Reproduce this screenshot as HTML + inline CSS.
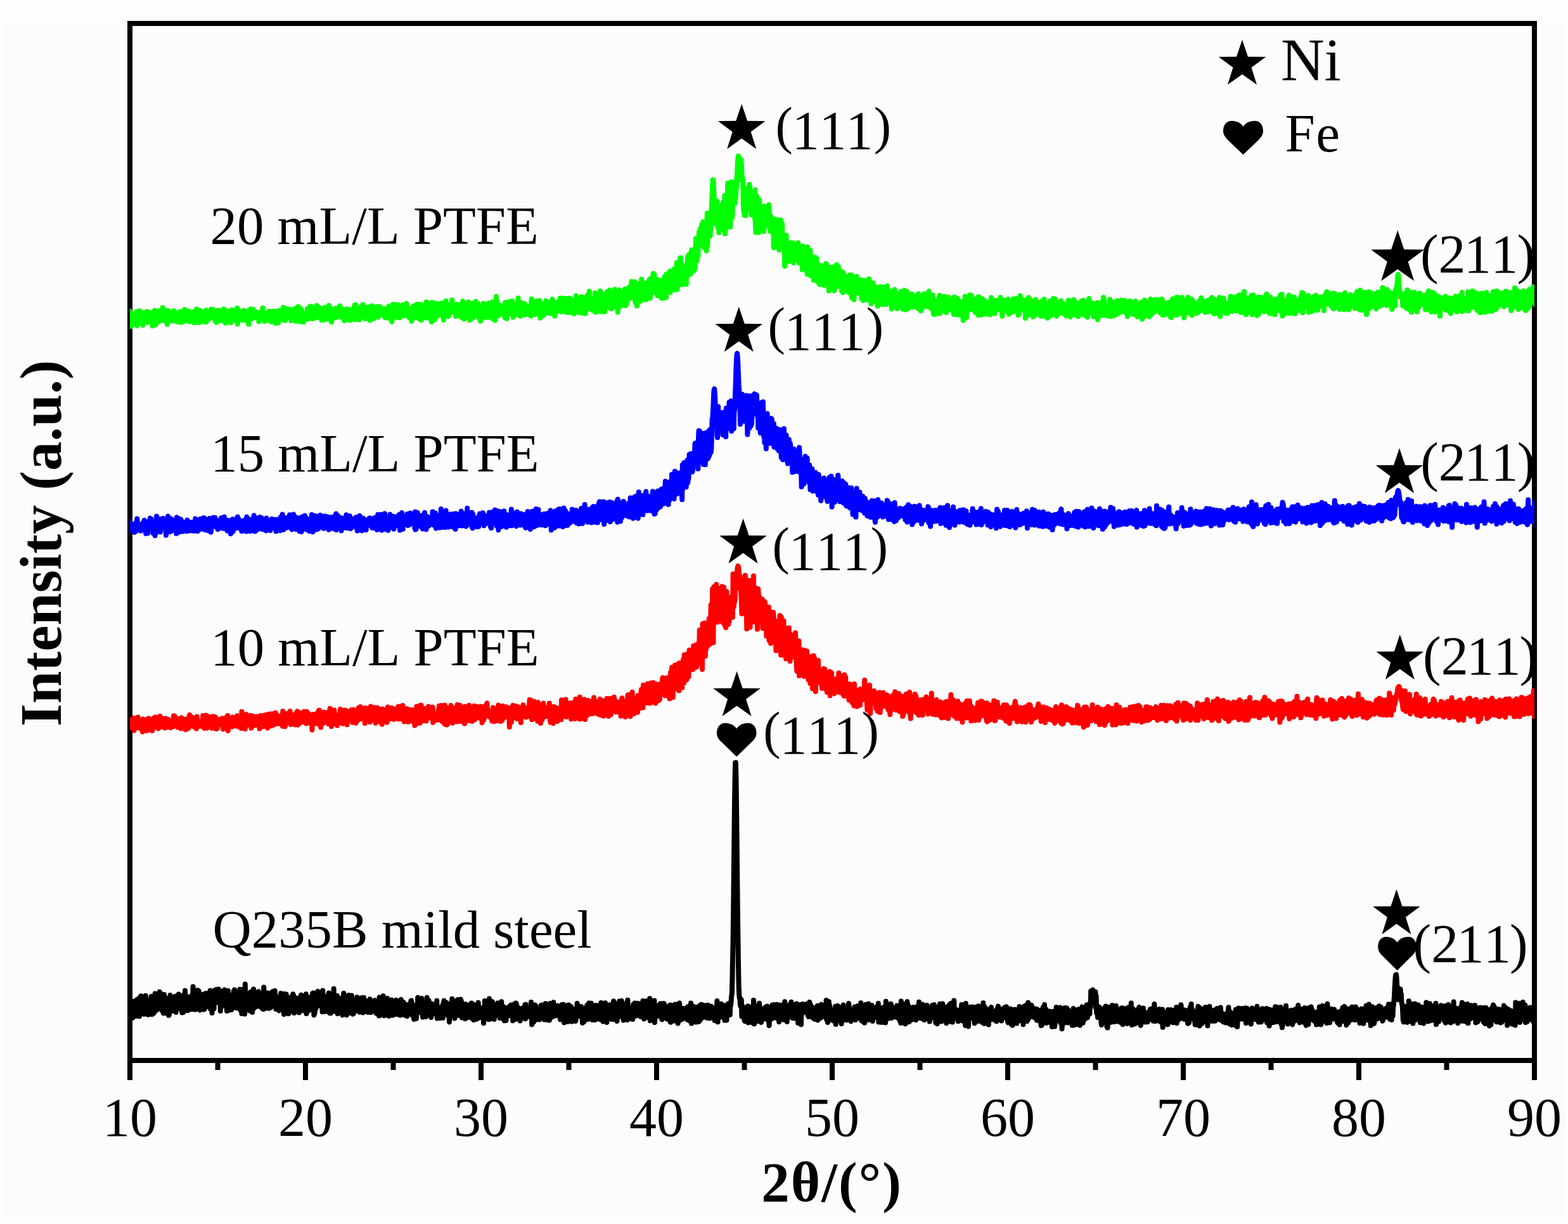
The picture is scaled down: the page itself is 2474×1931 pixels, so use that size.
<!DOCTYPE html><html><head><meta charset="utf-8"><title>XRD</title><style>html,body{margin:0;padding:0;background:#fefefe;}svg{display:block}</style></head><body>
<svg width="2474" height="1931" viewBox="0 0 2474 1931">
<rect x="0" y="0" width="2474" height="1931" fill="#fefefe"/>
<rect x="4" y="31" width="2466" height="1890" fill="#fcfcfc"/>
<rect x="205" y="37" width="2216" height="1636" fill="none" stroke="#000" stroke-width="8"/>
<defs><clipPath id="pa"><rect x="205" y="41" width="2216" height="1628"/></clipPath></defs>
<g clip-path="url(#pa)" fill="none" stroke-width="8" stroke-linejoin="round" stroke-linecap="round">
<path stroke="#00ff00" d="M199.0 502.3L199.6 513.0 200.2 495.1 200.8 510.5 201.4 497.5 202.0 502.4 202.6 506.3 203.2 501.1 203.8 501.5 204.4 490.6 205.0 503.4 205.6 500.5 206.2 501.4 206.8 514.8 207.4 497.4 208.0 498.7 208.6 496.3 209.2 500.9 209.8 494.7 210.4 502.1 211.0 508.0 211.6 499.9 212.2 501.2 212.8 510.2 213.4 512.0 214.0 501.7 214.6 499.9 215.2 497.5 215.8 491.4 216.4 513.9 217.0 499.9 217.6 493.3 218.2 504.3 218.8 510.0 219.4 503.1 220.0 506.6 220.6 490.5 221.2 502.3 221.8 498.9 222.4 499.5 223.0 506.9 223.6 499.1 224.2 500.3 224.8 497.7 225.4 513.2 226.0 495.9 226.6 500.1 227.2 508.7 227.8 492.9 228.4 506.9 229.0 502.9 229.6 507.9 230.2 492.5 230.8 506.4 231.4 491.6 232.0 496.0 232.6 508.8 233.2 507.3 233.8 507.7 234.4 500.4 235.0 495.8 235.6 492.4 236.2 504.4 236.8 504.6 237.4 505.3 238.0 495.8 238.6 494.4 239.2 504.4 239.8 506.6 240.4 514.3 241.0 493.9 241.6 500.6 242.2 506.1 242.8 499.5 243.4 501.1 244.0 489.8 244.6 504.2 245.2 512.4 245.8 504.2 246.4 505.8 247.0 503.4 247.6 496.6 248.2 508.8 248.8 493.6 249.4 506.1 250.0 490.5 250.6 504.0 251.2 493.1 251.8 495.2 252.4 498.3 253.0 506.6 253.6 493.2 254.2 496.6 254.8 494.9 255.4 495.4 256.0 502.8 256.6 485.4 257.2 502.3 257.8 495.4 258.4 502.9 259.0 505.2 259.6 501.8 260.2 506.4 260.8 505.1 261.4 502.8 262.0 498.0 262.6 500.5 263.2 490.1 263.8 511.6 264.4 493.6 265.0 496.8 265.6 490.2 266.2 496.1 266.8 506.5 267.4 503.7 268.0 492.0 268.6 499.4 269.2 499.1 269.8 501.9 270.4 499.3 271.0 501.3 271.6 505.3 272.2 506.5 272.8 502.1 273.4 497.6 274.0 497.2 274.6 490.2 275.2 490.9 275.8 499.0 276.4 494.7 277.0 497.3 277.6 497.6 278.2 506.8 278.8 506.1 279.4 506.4 280.0 505.2 280.6 502.7 281.2 508.1 281.8 506.0 282.4 504.3 283.0 493.5 283.6 499.2 284.2 491.7 284.8 491.6 285.4 498.9 286.0 508.8 286.6 491.7 287.2 502.5 287.8 497.4 288.4 495.5 289.0 506.3 289.6 492.9 290.2 490.3 290.8 506.8 291.4 488.2 292.0 506.8 292.6 496.6 293.2 494.5 293.8 493.6 294.4 505.9 295.0 493.4 295.6 504.9 296.2 500.1 296.8 502.9 297.4 500.6 298.0 490.8 298.6 498.1 299.2 507.3 299.8 493.1 300.4 507.2 301.0 506.9 301.6 501.0 302.2 500.7 302.8 496.7 303.4 492.8 304.0 498.3 304.6 492.2 305.2 498.9 305.8 509.0 306.4 495.0 307.0 504.2 307.6 500.0 308.2 496.0 308.8 501.5 309.4 489.7 310.0 487.7 310.6 508.6 311.2 493.4 311.8 504.2 312.4 505.5 313.0 506.0 313.6 504.8 314.2 498.4 314.8 508.7 315.4 489.8 316.0 497.6 316.6 496.6 317.2 505.5 317.8 491.2 318.4 494.2 319.0 504.2 319.6 499.7 320.2 503.4 320.8 506.0 321.4 507.3 322.0 507.5 322.6 502.8 323.2 497.4 323.8 502.5 324.4 498.5 325.0 489.4 325.6 508.1 326.2 502.9 326.8 503.4 327.4 500.1 328.0 501.3 328.6 490.9 329.2 495.0 329.8 498.4 330.4 499.1 331.0 498.5 331.6 502.3 332.2 491.0 332.8 501.6 333.4 487.5 334.0 500.9 334.6 492.8 335.2 496.6 335.8 488.3 336.4 494.8 337.0 491.7 337.6 499.9 338.2 495.2 338.8 503.7 339.4 506.4 340.0 500.9 340.6 501.9 341.2 505.9 341.8 508.5 342.4 494.4 343.0 495.9 343.6 493.5 344.2 489.5 344.8 505.6 345.4 494.5 346.0 493.7 346.6 498.1 347.2 489.9 347.8 506.2 348.4 501.1 349.0 504.6 349.6 490.0 350.2 500.0 350.8 505.5 351.4 497.1 352.0 494.8 352.6 489.0 353.2 487.4 353.8 489.1 354.4 496.1 355.0 498.8 355.6 509.7 356.2 494.5 356.8 495.3 357.4 505.7 358.0 493.3 358.6 490.7 359.2 504.3 359.8 508.1 360.4 495.2 361.0 495.2 361.6 495.9 362.2 497.6 362.8 505.6 363.4 496.5 364.0 490.8 364.6 508.9 365.2 498.0 365.8 489.1 366.4 494.4 367.0 496.3 367.6 491.8 368.2 497.7 368.8 500.5 369.4 493.2 370.0 504.9 370.6 504.9 371.2 505.6 371.8 502.4 372.4 497.6 373.0 488.1 373.6 491.1 374.2 485.9 374.8 511.2 375.4 503.9 376.0 504.0 376.6 490.0 377.2 497.0 377.8 491.5 378.4 492.3 379.0 498.3 379.6 501.0 380.2 504.2 380.8 501.2 381.4 494.8 382.0 499.7 382.6 505.2 383.2 497.1 383.8 503.7 384.4 489.7 385.0 500.3 385.6 498.3 386.2 497.7 386.8 492.2 387.4 495.5 388.0 505.5 388.6 501.0 389.2 499.1 389.8 493.5 390.4 492.7 391.0 491.1 391.6 494.5 392.2 511.6 392.8 489.2 393.4 493.7 394.0 491.4 394.6 501.0 395.2 490.9 395.8 487.4 396.4 496.4 397.0 493.7 397.6 501.4 398.2 502.7 398.8 494.5 399.4 488.0 400.0 501.0 400.6 496.3 401.2 494.1 401.8 500.4 402.4 500.4 403.0 495.4 403.6 499.5 404.2 492.2 404.8 496.5 405.4 499.6 406.0 499.7 406.6 499.8 407.2 493.7 407.8 496.5 408.4 507.3 409.0 499.2 409.6 500.3 410.2 496.2 410.8 492.9 411.4 496.8 412.0 499.5 412.6 500.8 413.2 501.8 413.8 496.4 414.4 485.7 415.0 502.9 415.6 493.5 416.2 502.0 416.8 499.1 417.4 507.0 418.0 505.1 418.6 498.4 419.2 500.4 419.8 499.6 420.4 495.5 421.0 494.6 421.6 500.3 422.2 492.6 422.8 492.5 423.4 500.9 424.0 500.0 424.6 490.9 425.2 506.0 425.8 502.0 426.4 505.3 427.0 497.2 427.6 503.9 428.2 507.8 428.8 507.0 429.4 491.3 430.0 499.1 430.6 493.4 431.2 502.3 431.8 498.8 432.4 491.0 433.0 497.6 433.6 498.8 434.2 499.4 434.8 510.1 435.4 491.3 436.0 496.2 436.6 501.5 437.2 493.3 437.8 492.6 438.4 491.2 439.0 509.3 439.6 502.6 440.2 496.3 440.8 490.1 441.4 500.8 442.0 493.2 442.6 490.5 443.2 495.8 443.8 490.6 444.4 493.5 445.0 503.3 445.6 496.7 446.2 504.7 446.8 485.1 447.4 489.2 448.0 492.3 448.6 504.9 449.2 500.1 449.8 505.8 450.4 487.1 451.0 499.4 451.6 495.4 452.2 498.6 452.8 500.0 453.4 493.9 454.0 497.5 454.6 493.9 455.2 493.8 455.8 495.7 456.4 487.7 457.0 492.7 457.6 495.2 458.2 495.1 458.8 503.0 459.4 506.0 460.0 499.8 460.6 498.3 461.2 494.0 461.8 488.8 462.4 491.2 463.0 492.9 463.6 497.1 464.2 500.6 464.8 487.0 465.4 503.5 466.0 496.4 466.6 497.3 467.2 506.8 467.8 499.8 468.4 491.5 469.0 490.6 469.6 504.1 470.2 483.8 470.8 501.8 471.4 491.2 472.0 496.5 472.6 493.8 473.2 507.2 473.8 486.1 474.4 496.4 475.0 497.2 475.6 496.4 476.2 489.8 476.8 502.2 477.4 494.0 478.0 501.7 478.6 508.0 479.2 496.1 479.8 496.2 480.4 501.7 481.0 499.1 481.6 494.7 482.2 502.9 482.8 501.2 483.4 503.3 484.0 503.7 484.6 502.7 485.2 487.1 485.8 492.1 486.4 495.7 487.0 502.2 487.6 492.1 488.2 489.5 488.8 483.6 489.4 490.6 490.0 502.5 490.6 491.5 491.2 483.4 491.8 487.1 492.4 495.5 493.0 492.3 493.6 502.7 494.2 494.6 494.8 490.8 495.4 500.2 496.0 499.9 496.6 501.6 497.2 489.0 497.8 496.5 498.4 501.5 499.0 490.7 499.6 482.0 500.2 483.1 500.8 497.8 501.4 484.0 502.0 493.4 502.6 485.0 503.2 500.4 503.8 494.3 504.4 485.4 505.0 494.3 505.6 489.0 506.2 500.3 506.8 489.9 507.4 505.0 508.0 494.5 508.6 501.6 509.2 500.5 509.8 491.0 510.4 493.6 511.0 494.9 511.6 504.7 512.2 485.2 512.8 493.0 513.4 494.6 514.0 495.1 514.6 498.8 515.2 495.5 515.8 493.3 516.4 503.6 517.0 488.1 517.6 501.4 518.2 500.6 518.8 481.9 519.4 491.0 520.0 499.1 520.6 503.4 521.2 498.2 521.8 486.8 522.4 498.5 523.0 508.1 523.6 500.2 524.2 498.7 524.8 493.6 525.4 498.2 526.0 495.7 526.6 501.5 527.2 501.5 527.8 493.2 528.4 487.9 529.0 501.4 529.6 498.3 530.2 486.2 530.8 498.0 531.4 491.7 532.0 496.5 532.6 492.4 533.2 487.1 533.8 488.2 534.4 490.2 535.0 486.0 535.6 487.6 536.2 482.6 536.8 500.3 537.4 493.0 538.0 487.5 538.6 495.2 539.2 492.6 539.8 494.7 540.4 488.0 541.0 487.6 541.6 501.4 542.2 494.9 542.8 491.1 543.4 506.1 544.0 490.2 544.6 498.9 545.2 494.7 545.8 497.2 546.4 492.9 547.0 490.2 547.6 487.4 548.2 503.0 548.8 499.0 549.4 502.5 550.0 504.8 550.6 501.2 551.2 503.5 551.8 500.7 552.4 488.8 553.0 505.3 553.6 491.2 554.2 498.3 554.8 489.9 555.4 500.9 556.0 493.9 556.6 497.7 557.2 489.9 557.8 490.8 558.4 490.1 559.0 484.9 559.6 481.3 560.2 499.2 560.8 504.2 561.4 480.9 562.0 484.8 562.6 491.8 563.2 483.9 563.8 492.9 564.4 487.2 565.0 499.7 565.6 496.8 566.2 499.7 566.8 504.6 567.4 496.1 568.0 497.0 568.6 488.2 569.2 486.3 569.8 492.8 570.4 489.6 571.0 500.3 571.6 492.6 572.2 480.6 572.8 488.5 573.4 496.2 574.0 483.8 574.6 483.9 575.2 488.1 575.8 496.6 576.4 503.0 577.0 486.4 577.6 491.5 578.2 491.9 578.8 489.9 579.4 493.2 580.0 501.2 580.6 486.2 581.2 492.9 581.8 484.2 582.4 492.6 583.0 497.3 583.6 505.5 584.2 491.7 584.8 487.8 585.4 490.7 586.0 487.5 586.6 482.4 587.2 494.7 587.8 493.3 588.4 503.1 589.0 503.0 589.6 487.3 590.2 484.3 590.8 485.6 591.4 491.6 592.0 492.7 592.6 484.4 593.2 496.9 593.8 496.6 594.4 483.8 595.0 496.5 595.6 497.4 596.2 500.6 596.8 488.8 597.4 498.3 598.0 496.5 598.6 486.7 599.2 483.6 599.8 496.9 600.4 489.0 601.0 485.6 601.6 492.3 602.2 487.0 602.8 493.8 603.4 489.6 604.0 491.2 604.6 493.5 605.2 493.1 605.8 493.1 606.4 495.7 607.0 499.9 607.6 501.2 608.2 487.1 608.8 498.7 609.4 489.2 610.0 492.9 610.6 498.7 611.2 501.2 611.8 497.1 612.4 484.9 613.0 483.5 613.6 498.6 614.2 491.6 614.8 502.6 615.4 486.2 616.0 499.1 616.6 492.5 617.2 494.0 617.8 489.1 618.4 507.7 619.0 500.5 619.6 480.6 620.2 490.7 620.8 490.2 621.4 484.5 622.0 481.4 622.6 480.1 623.2 499.8 623.8 488.2 624.4 491.5 625.0 500.5 625.6 488.1 626.2 495.9 626.8 485.6 627.4 487.6 628.0 480.7 628.6 487.2 629.2 482.1 629.8 494.1 630.4 501.2 631.0 487.6 631.6 493.9 632.2 493.5 632.8 486.5 633.4 496.4 634.0 496.5 634.6 483.0 635.2 481.0 635.8 498.5 636.4 491.0 637.0 482.5 637.6 489.9 638.2 496.7 638.8 485.7 639.4 487.0 640.0 484.4 640.6 494.1 641.2 478.8 641.8 491.2 642.4 487.5 643.0 498.7 643.6 485.8 644.2 495.2 644.8 500.4 645.4 485.9 646.0 491.0 646.6 500.3 647.2 488.0 647.8 502.6 648.4 501.0 649.0 494.4 649.6 506.7 650.2 486.8 650.8 496.3 651.4 495.8 652.0 483.1 652.6 498.7 653.2 482.4 653.8 501.6 654.4 494.0 655.0 499.6 655.6 490.1 656.2 487.5 656.8 501.1 657.4 485.8 658.0 479.7 658.6 497.9 659.2 496.9 659.8 485.4 660.4 499.7 661.0 486.5 661.6 503.0 662.2 496.0 662.8 485.0 663.4 480.0 664.0 486.3 664.6 505.1 665.2 498.5 665.8 483.9 666.4 498.3 667.0 483.9 667.6 488.1 668.2 482.3 668.8 499.6 669.4 500.4 670.0 484.3 670.6 486.3 671.2 500.1 671.8 489.3 672.4 476.5 673.0 485.8 673.6 494.0 674.2 501.8 674.8 477.8 675.4 496.7 676.0 493.7 676.6 481.8 677.2 495.9 677.8 501.1 678.4 492.6 679.0 485.0 679.6 488.7 680.2 492.8 680.8 507.7 681.4 488.6 682.0 477.0 682.6 496.7 683.2 505.7 683.8 489.4 684.4 477.9 685.0 497.7 685.6 495.5 686.2 504.0 686.8 481.7 687.4 490.0 688.0 487.0 688.6 478.9 689.2 491.4 689.8 488.0 690.4 481.7 691.0 482.6 691.6 497.9 692.2 494.6 692.8 480.1 693.4 493.4 694.0 479.1 694.6 487.9 695.2 495.3 695.8 478.4 696.4 491.7 697.0 497.2 697.6 492.9 698.2 499.5 698.8 499.6 699.4 499.0 700.0 504.9 700.6 486.5 701.2 477.6 701.8 483.4 702.4 488.8 703.0 483.4 703.6 474.8 704.2 495.0 704.8 482.9 705.4 486.7 706.0 491.0 706.6 494.9 707.2 499.1 707.8 481.2 708.4 497.2 709.0 495.9 709.6 482.9 710.2 483.6 710.8 491.3 711.4 488.8 712.0 490.6 712.6 488.9 713.2 473.3 713.8 488.8 714.4 478.9 715.0 487.0 715.6 483.6 716.2 492.9 716.8 483.6 717.4 491.0 718.0 492.8 718.6 483.2 719.2 499.0 719.8 498.4 720.4 486.9 721.0 480.0 721.6 494.7 722.2 484.0 722.8 484.4 723.4 488.2 724.0 498.0 724.6 486.7 725.2 491.3 725.8 491.7 726.4 493.2 727.0 484.9 727.6 491.2 728.2 500.8 728.8 493.5 729.4 479.2 730.0 475.2 730.6 500.9 731.2 500.1 731.8 496.7 732.4 503.3 733.0 497.9 733.6 486.8 734.2 494.6 734.8 490.2 735.4 485.9 736.0 490.4 736.6 479.1 737.2 500.1 737.8 486.8 738.4 481.2 739.0 476.5 739.6 495.7 740.2 480.6 740.8 505.2 741.4 486.1 742.0 482.9 742.6 499.6 743.2 491.9 743.8 502.9 744.4 493.1 745.0 479.1 745.6 491.2 746.2 489.8 746.8 500.8 747.4 491.9 748.0 489.9 748.6 487.3 749.2 479.6 749.8 498.5 750.4 475.5 751.0 485.3 751.6 490.1 752.2 490.3 752.8 489.4 753.4 482.1 754.0 479.0 754.6 485.5 755.2 500.6 755.8 487.2 756.4 490.0 757.0 504.7 757.6 502.4 758.2 506.6 758.8 500.7 759.4 491.5 760.0 485.8 760.6 494.3 761.2 486.6 761.8 500.9 762.4 478.7 763.0 487.5 763.6 491.7 764.2 486.6 764.8 495.4 765.4 480.1 766.0 486.6 766.6 500.7 767.2 495.7 767.8 483.1 768.4 491.1 769.0 497.4 769.6 499.2 770.2 500.9 770.8 482.5 771.4 478.2 772.0 489.9 772.6 493.8 773.2 487.0 773.8 477.8 774.4 480.3 775.0 490.2 775.6 487.9 776.2 492.1 776.8 476.4 777.4 502.8 778.0 485.2 778.6 491.1 779.2 495.7 779.8 477.4 780.4 483.6 781.0 505.5 781.6 496.6 782.2 488.4 782.8 467.8 783.4 496.7 784.0 482.2 784.6 476.2 785.2 498.2 785.8 489.2 786.4 489.3 787.0 485.6 787.6 482.8 788.2 497.2 788.8 482.6 789.4 482.1 790.0 492.3 790.6 487.8 791.2 491.1 791.8 493.0 792.4 485.1 793.0 488.4 793.6 492.7 794.2 483.2 794.8 482.3 795.4 484.8 796.0 489.7 796.6 501.4 797.2 477.0 797.8 496.7 798.4 496.2 799.0 498.6 799.6 502.8 800.2 496.7 800.8 492.9 801.4 483.7 802.0 484.6 802.6 491.5 803.2 476.1 803.8 489.8 804.4 490.4 805.0 484.6 805.6 494.9 806.2 481.2 806.8 485.2 807.4 482.4 808.0 474.8 808.6 493.5 809.2 482.6 809.8 500.5 810.4 484.8 811.0 482.7 811.6 496.5 812.2 481.7 812.8 479.8 813.4 488.4 814.0 482.8 814.6 483.9 815.2 495.5 815.8 485.6 816.4 484.7 817.0 496.9 817.6 470.2 818.2 494.8 818.8 482.9 819.4 476.4 820.0 483.3 820.6 488.9 821.2 498.7 821.8 489.8 822.4 488.0 823.0 488.8 823.6 478.3 824.2 497.2 824.8 479.7 825.4 492.9 826.0 491.5 826.6 492.3 827.2 479.1 827.8 486.1 828.4 480.2 829.0 493.4 829.6 496.4 830.2 493.7 830.8 486.7 831.4 492.8 832.0 489.3 832.6 485.3 833.2 483.0 833.8 483.5 834.4 491.0 835.0 483.5 835.6 490.2 836.2 489.8 836.8 495.1 837.4 498.5 838.0 481.7 838.6 471.6 839.2 480.3 839.8 477.5 840.4 479.3 841.0 480.4 841.6 483.8 842.2 477.9 842.8 480.2 843.4 483.5 844.0 496.3 844.6 488.1 845.2 476.4 845.8 478.7 846.4 474.8 847.0 494.1 847.6 491.7 848.2 487.0 848.8 491.0 849.4 490.6 850.0 491.9 850.6 482.4 851.2 474.2 851.8 489.9 852.4 501.7 853.0 477.4 853.6 492.3 854.2 487.5 854.8 481.4 855.4 491.5 856.0 481.9 856.6 480.9 857.2 479.5 857.8 497.7 858.4 491.9 859.0 493.0 859.6 491.6 860.2 479.7 860.8 487.6 861.4 474.5 862.0 475.0 862.6 491.1 863.2 492.3 863.8 487.8 864.4 493.6 865.0 491.8 865.6 491.5 866.2 491.5 866.8 489.2 867.4 477.0 868.0 494.6 868.6 484.4 869.2 491.8 869.8 482.1 870.4 493.2 871.0 476.9 871.6 472.1 872.2 479.9 872.8 488.0 873.4 481.2 874.0 480.1 874.6 492.3 875.2 498.7 875.8 481.6 876.4 479.6 877.0 482.7 877.6 491.5 878.2 485.3 878.8 477.1 879.4 487.6 880.0 486.5 880.6 477.3 881.2 491.1 881.8 487.1 882.4 490.4 883.0 482.8 883.6 470.4 884.2 490.9 884.8 483.2 885.4 478.2 886.0 484.4 886.6 492.1 887.2 472.9 887.8 485.4 888.4 488.6 889.0 470.5 889.6 474.4 890.2 481.3 890.8 482.5 891.4 478.6 892.0 480.0 892.6 492.1 893.2 486.7 893.8 470.9 894.4 483.3 895.0 481.7 895.6 471.0 896.2 493.1 896.8 488.0 897.4 472.9 898.0 479.8 898.6 470.5 899.2 475.2 899.8 486.3 900.4 490.5 901.0 492.5 901.6 472.2 902.2 474.0 902.8 486.1 903.4 486.4 904.0 482.2 904.6 492.2 905.2 492.6 905.8 495.1 906.4 478.5 907.0 481.0 907.6 492.2 908.2 486.1 908.8 466.5 909.4 488.2 910.0 486.8 910.6 472.2 911.2 477.5 911.8 480.9 912.4 478.7 913.0 477.1 913.6 493.0 914.2 481.2 914.8 490.2 915.4 492.2 916.0 469.8 916.6 468.1 917.2 483.6 917.8 476.7 918.4 494.0 919.0 479.1 919.6 472.1 920.2 470.8 920.8 485.2 921.4 469.4 922.0 480.3 922.6 478.2 923.2 483.1 923.8 494.7 924.4 475.5 925.0 475.3 925.6 484.8 926.2 472.2 926.8 465.8 927.4 472.5 928.0 487.4 928.6 485.3 929.2 470.0 929.8 459.4 930.4 475.8 931.0 470.9 931.6 476.2 932.2 473.0 932.8 479.6 933.4 472.0 934.0 488.1 934.6 480.2 935.2 489.7 935.8 483.5 936.4 485.8 937.0 475.0 937.6 485.1 938.2 476.6 938.8 462.0 939.4 492.5 940.0 466.7 940.6 482.5 941.2 478.5 941.8 492.1 942.4 478.0 943.0 481.3 943.6 484.8 944.2 480.5 944.8 481.3 945.4 484.9 946.0 470.1 946.6 468.3 947.2 459.1 947.8 465.6 948.4 463.1 949.0 491.6 949.6 473.6 950.2 476.5 950.8 480.4 951.4 488.5 952.0 490.5 952.6 485.3 953.2 475.0 953.8 492.1 954.4 464.2 955.0 470.9 955.6 464.3 956.2 476.9 956.8 468.5 957.4 478.2 958.0 472.3 958.6 460.1 959.2 484.9 959.8 466.8 960.4 461.8 961.0 466.0 961.6 474.5 962.2 457.6 962.8 458.3 963.4 462.2 964.0 470.0 964.6 487.4 965.2 462.0 965.8 465.5 966.4 478.1 967.0 471.3 967.6 484.7 968.2 481.6 968.8 460.9 969.4 463.0 970.0 456.4 970.6 468.7 971.2 463.8 971.8 481.2 972.4 466.8 973.0 473.6 973.6 475.8 974.2 474.1 974.8 492.5 975.4 471.4 976.0 470.1 976.6 457.4 977.2 467.0 977.8 471.9 978.4 483.5 979.0 464.8 979.6 472.8 980.2 474.6 980.8 472.0 981.4 481.6 982.0 476.7 982.6 468.0 983.2 466.6 983.8 462.3 984.4 459.8 985.0 462.1 985.6 456.5 986.2 455.6 986.8 473.9 987.4 482.1 988.0 468.5 988.6 479.7 989.2 474.5 989.8 473.7 990.4 468.7 991.0 461.5 991.6 459.6 992.2 466.0 992.8 452.9 993.4 463.9 994.0 470.3 994.6 470.1 995.2 470.3 995.8 458.3 996.4 444.3 997.0 461.2 997.6 456.6 998.2 464.4 998.8 452.3 999.4 466.7 1000.0 460.0 1000.6 467.9 1001.2 444.6 1001.8 469.8 1002.4 477.5 1003.0 468.1 1003.6 473.1 1004.2 457.2 1004.8 482.6 1005.4 458.1 1006.0 448.4 1006.6 455.4 1007.2 447.6 1007.8 468.1 1008.4 460.9 1009.0 476.0 1009.6 468.5 1010.2 468.6 1010.8 447.0 1011.4 466.1 1012.0 440.5 1012.6 460.4 1013.2 444.5 1013.8 450.9 1014.4 468.8 1015.0 473.3 1015.6 463.6 1016.2 453.0 1016.8 462.4 1017.4 458.3 1018.0 451.3 1018.6 450.2 1019.2 448.3 1019.8 472.4 1020.4 446.6 1021.0 449.2 1021.6 450.1 1022.2 464.1 1022.8 467.5 1023.4 464.0 1024.0 449.0 1024.6 440.9 1025.2 460.1 1025.8 470.5 1026.4 465.8 1027.0 439.3 1027.6 447.8 1028.2 463.9 1028.8 462.6 1029.4 448.8 1030.0 461.4 1030.6 431.4 1031.2 440.6 1031.8 456.7 1032.4 432.9 1033.0 456.7 1033.6 460.4 1034.2 448.7 1034.8 450.6 1035.4 457.4 1036.0 462.7 1036.6 440.9 1037.2 466.1 1037.8 459.3 1038.4 445.8 1039.0 449.4 1039.6 461.3 1040.2 463.8 1040.8 442.9 1041.4 450.8 1042.0 442.6 1042.6 466.4 1043.2 469.8 1043.8 442.2 1044.4 443.7 1045.0 450.1 1045.6 470.7 1046.2 446.5 1046.8 453.0 1047.4 454.7 1048.0 453.0 1048.6 436.5 1049.2 450.8 1049.8 447.7 1050.4 438.5 1051.0 469.5 1051.6 432.3 1052.2 446.9 1052.8 436.9 1053.4 456.7 1054.0 449.3 1054.6 451.4 1055.2 440.1 1055.8 446.1 1056.4 453.8 1057.0 427.7 1057.6 461.1 1058.2 437.5 1058.8 429.2 1059.4 451.3 1060.0 430.3 1060.6 451.7 1061.2 427.6 1061.8 445.9 1062.4 440.7 1063.0 424.8 1063.6 457.3 1064.2 432.5 1064.8 438.3 1065.4 430.2 1066.0 452.5 1066.6 431.8 1067.2 426.6 1067.8 414.5 1068.4 456.7 1069.0 414.0 1069.6 441.2 1070.2 435.8 1070.8 426.6 1071.4 445.1 1072.0 437.9 1072.6 449.1 1073.2 406.9 1073.8 415.0 1074.4 406.7 1075.0 430.7 1075.6 440.2 1076.2 448.5 1076.8 448.9 1077.4 428.0 1078.0 445.7 1078.6 423.4 1079.2 421.6 1079.8 420.7 1080.4 444.5 1081.0 427.3 1081.6 434.0 1082.2 428.0 1082.8 448.5 1083.4 417.7 1084.0 434.2 1084.6 436.2 1085.2 404.8 1085.8 429.6 1086.4 414.4 1087.0 401.6 1087.6 430.3 1088.2 402.5 1088.8 415.8 1089.4 432.6 1090.0 420.3 1090.6 404.6 1091.2 394.2 1091.8 411.3 1092.4 409.5 1093.0 401.7 1093.6 425.0 1094.2 424.0 1094.8 427.2 1095.4 400.4 1096.0 425.0 1096.6 422.7 1097.2 405.9 1097.8 376.6 1098.4 402.3 1099.0 389.8 1099.6 411.3 1100.2 385.6 1100.8 397.6 1101.4 404.1 1102.0 376.1 1102.6 371.9 1103.2 365.7 1103.8 365.9 1104.4 369.6 1105.0 360.5 1105.6 386.3 1106.2 383.6 1106.8 381.8 1107.4 353.9 1108.0 370.7 1108.6 366.7 1109.2 349.9 1109.8 380.4 1110.4 390.1 1111.0 352.9 1111.6 381.1 1112.2 353.8 1112.8 390.7 1113.4 368.9 1114.0 387.0 1114.6 395.7 1115.2 372.9 1115.8 336.2 1116.4 387.4 1117.0 362.3 1117.6 361.2 1118.2 351.9 1118.8 371.5 1119.4 345.7 1120.0 358.2 1120.6 372.6 1121.2 358.8 1121.8 358.4 1122.4 336.2 1123.0 323.3 1123.6 308.8 1124.2 291.2 1124.8 283.6 1125.4 285.0 1126.0 295.5 1126.6 310.3 1127.2 324.8 1127.8 333.5 1128.4 340.7 1129.0 319.4 1129.6 352.9 1130.2 341.9 1130.8 317.0 1131.4 334.3 1132.0 325.3 1132.6 359.0 1133.2 335.9 1133.8 348.0 1134.4 366.9 1135.0 335.7 1135.6 325.5 1136.2 359.0 1136.8 363.3 1137.4 360.7 1138.0 347.0 1138.6 334.3 1139.2 353.9 1139.8 321.9 1140.4 328.8 1141.0 319.3 1141.6 336.6 1142.2 345.0 1142.8 354.4 1143.4 308.4 1144.0 368.7 1144.6 318.9 1145.2 359.0 1145.8 360.8 1146.4 357.6 1147.0 339.0 1147.6 320.0 1148.2 289.1 1148.8 330.8 1149.4 341.8 1150.0 333.6 1150.6 328.3 1151.2 330.7 1151.8 318.4 1152.4 357.9 1153.0 311.4 1153.6 286.9 1154.2 336.4 1154.8 305.3 1155.4 342.9 1156.0 314.3 1156.6 287.7 1157.2 303.3 1157.8 320.3 1158.4 303.3 1159.0 291.5 1159.6 321.0 1160.2 307.8 1160.8 312.4 1161.4 295.0 1162.0 295.6 1162.6 280.0 1163.2 272.0 1163.8 257.3 1164.4 248.8 1165.0 246.0 1165.6 248.7 1166.2 257.4 1166.8 270.6 1167.4 284.0 1168.0 263.1 1168.6 253.0 1169.2 251.6 1169.8 258.1 1170.4 271.6 1171.0 284.5 1171.6 285.4 1172.2 281.6 1172.8 322.4 1173.4 333.1 1174.0 302.5 1174.6 339.5 1175.2 296.7 1175.8 330.7 1176.4 340.3 1177.0 324.0 1177.6 316.3 1178.2 326.5 1178.8 315.8 1179.4 324.3 1180.0 306.6 1180.6 306.8 1181.2 302.8 1181.8 300.4 1182.4 291.0 1183.0 295.2 1183.6 330.0 1184.2 327.0 1184.8 320.5 1185.4 338.9 1186.0 312.5 1186.6 335.5 1187.2 316.3 1187.8 320.9 1188.4 314.0 1189.0 315.3 1189.6 330.1 1190.2 315.9 1190.8 344.6 1191.4 299.4 1192.0 355.8 1192.6 366.9 1193.2 324.2 1193.8 309.4 1194.4 348.0 1195.0 336.2 1195.6 334.9 1196.2 332.1 1196.8 314.5 1197.4 366.7 1198.0 315.6 1198.6 325.0 1199.2 344.9 1199.8 357.6 1200.4 326.1 1201.0 326.5 1201.6 356.9 1202.2 337.2 1202.8 353.6 1203.4 328.4 1204.0 356.8 1204.6 327.1 1205.2 365.0 1205.8 329.2 1206.4 325.4 1207.0 333.9 1207.6 357.7 1208.2 342.3 1208.8 336.6 1209.4 350.8 1210.0 349.9 1210.6 341.0 1211.2 346.5 1211.8 339.9 1212.4 335.5 1213.0 323.0 1213.6 328.2 1214.2 352.1 1214.8 341.5 1215.4 365.0 1216.0 341.0 1216.6 346.1 1217.2 364.8 1217.8 350.1 1218.4 351.6 1219.0 352.4 1219.6 357.5 1220.2 355.2 1220.8 390.7 1221.4 364.8 1222.0 345.5 1222.6 389.3 1223.2 346.6 1223.8 381.5 1224.4 370.5 1225.0 374.0 1225.6 385.6 1226.2 350.1 1226.8 356.5 1227.4 377.7 1228.0 376.2 1228.6 367.9 1229.2 394.4 1229.8 346.9 1230.4 369.0 1231.0 381.1 1231.6 346.9 1232.2 388.6 1232.8 372.0 1233.4 379.7 1234.0 353.0 1234.6 376.0 1235.2 384.8 1235.8 389.1 1236.4 370.7 1237.0 376.2 1237.6 391.7 1238.2 420.0 1238.8 394.0 1239.4 400.7 1240.0 390.0 1240.6 371.5 1241.2 404.8 1241.8 391.2 1242.4 402.6 1243.0 396.1 1243.6 412.5 1244.2 402.4 1244.8 404.8 1245.4 412.1 1246.0 387.1 1246.6 395.7 1247.2 409.3 1247.8 383.1 1248.4 410.2 1249.0 392.0 1249.6 397.3 1250.2 391.1 1250.8 383.3 1251.4 393.1 1252.0 414.6 1252.6 404.9 1253.2 396.2 1253.8 410.4 1254.4 410.2 1255.0 403.4 1255.6 386.6 1256.2 389.6 1256.8 410.0 1257.4 399.7 1258.0 403.0 1258.6 389.2 1259.2 382.9 1259.8 404.5 1260.4 398.8 1261.0 415.1 1261.6 401.8 1262.2 414.7 1262.8 407.5 1263.4 404.6 1264.0 414.4 1264.6 389.9 1265.2 408.2 1265.8 425.5 1266.4 388.3 1267.0 424.1 1267.6 392.2 1268.2 417.9 1268.8 393.2 1269.4 404.6 1270.0 405.8 1270.6 414.0 1271.2 415.6 1271.8 390.5 1272.4 409.8 1273.0 420.1 1273.6 432.6 1274.2 389.5 1274.8 404.0 1275.4 417.8 1276.0 399.8 1276.6 410.0 1277.2 421.8 1277.8 431.4 1278.4 394.7 1279.0 434.9 1279.6 416.9 1280.2 428.1 1280.8 409.9 1281.4 426.0 1282.0 404.4 1282.6 411.9 1283.2 417.5 1283.8 441.9 1284.4 421.1 1285.0 410.6 1285.6 431.1 1286.2 427.3 1286.8 407.4 1287.4 406.6 1288.0 425.1 1288.6 408.1 1289.2 435.4 1289.8 444.3 1290.4 436.8 1291.0 442.6 1291.6 425.2 1292.2 425.8 1292.8 436.6 1293.4 448.7 1294.0 438.1 1294.6 419.8 1295.2 418.6 1295.8 430.0 1296.4 419.6 1297.0 429.8 1297.6 425.5 1298.2 420.4 1298.8 448.8 1299.4 428.8 1300.0 442.4 1300.6 446.8 1301.2 450.4 1301.8 436.5 1302.4 449.7 1303.0 415.8 1303.6 425.1 1304.2 417.1 1304.8 448.3 1305.4 443.7 1306.0 442.6 1306.6 440.3 1307.2 440.8 1307.8 458.8 1308.4 429.4 1309.0 422.1 1309.6 429.4 1310.2 435.6 1310.8 441.6 1311.4 436.1 1312.0 438.4 1312.6 422.0 1313.2 454.1 1313.8 445.6 1314.4 441.1 1315.0 455.7 1315.6 421.0 1316.2 458.6 1316.8 443.2 1317.4 454.3 1318.0 446.0 1318.6 422.6 1319.2 451.0 1319.8 417.8 1320.4 433.5 1321.0 447.3 1321.6 451.8 1322.2 433.7 1322.8 420.6 1323.4 443.6 1324.0 441.7 1324.6 444.0 1325.2 437.4 1325.8 448.6 1326.4 427.4 1327.0 440.0 1327.6 448.1 1328.2 459.3 1328.8 439.9 1329.4 454.0 1330.0 461.4 1330.6 430.2 1331.2 458.5 1331.8 460.1 1332.4 453.7 1333.0 453.1 1333.6 439.6 1334.2 443.0 1334.8 454.0 1335.4 436.2 1336.0 445.9 1336.6 447.0 1337.2 453.8 1337.8 457.3 1338.4 449.1 1339.0 437.7 1339.6 461.7 1340.2 457.5 1340.8 434.1 1341.4 453.3 1342.0 438.0 1342.6 459.2 1343.2 433.8 1343.8 469.6 1344.4 466.2 1345.0 435.9 1345.6 441.9 1346.2 437.8 1346.8 441.1 1347.4 472.7 1348.0 459.8 1348.6 456.9 1349.2 455.6 1349.8 451.3 1350.4 449.8 1351.0 450.9 1351.6 436.3 1352.2 454.6 1352.8 441.9 1353.4 462.3 1354.0 447.4 1354.6 442.4 1355.2 459.0 1355.8 461.9 1356.4 461.5 1357.0 457.6 1357.6 453.3 1358.2 441.2 1358.8 460.4 1359.4 470.9 1360.0 451.3 1360.6 462.6 1361.2 449.3 1361.8 474.1 1362.4 459.8 1363.0 450.8 1363.6 442.6 1364.2 456.7 1364.8 445.5 1365.4 467.5 1366.0 450.5 1366.6 460.3 1367.2 453.5 1367.8 445.2 1368.4 466.0 1369.0 473.2 1369.6 446.0 1370.2 458.7 1370.8 439.9 1371.4 454.7 1372.0 453.1 1372.6 466.5 1373.2 445.7 1373.8 448.8 1374.4 479.2 1375.0 469.3 1375.6 457.9 1376.2 477.4 1376.8 450.8 1377.4 446.3 1378.0 456.2 1378.6 465.5 1379.2 464.9 1379.8 469.8 1380.4 456.6 1381.0 464.7 1381.6 471.8 1382.2 474.4 1382.8 453.4 1383.4 462.8 1384.0 474.3 1384.6 482.9 1385.2 453.2 1385.8 454.2 1386.4 459.2 1387.0 465.8 1387.6 477.7 1388.2 459.5 1388.8 452.3 1389.4 474.3 1390.0 458.0 1390.6 462.2 1391.2 473.0 1391.8 480.2 1392.4 452.6 1393.0 457.9 1393.6 462.1 1394.2 469.8 1394.8 475.9 1395.4 474.1 1396.0 467.9 1396.6 467.5 1397.2 461.3 1397.8 480.3 1398.4 462.8 1399.0 467.4 1399.6 451.0 1400.2 460.3 1400.8 465.2 1401.4 469.1 1402.0 477.2 1402.6 465.4 1403.2 461.0 1403.8 458.8 1404.4 477.5 1405.0 475.6 1405.6 470.8 1406.2 481.4 1406.8 487.3 1407.4 476.6 1408.0 469.1 1408.6 466.9 1409.2 463.7 1409.8 482.1 1410.4 479.0 1411.0 478.8 1411.6 456.7 1412.2 465.2 1412.8 469.4 1413.4 477.1 1414.0 471.3 1414.6 471.1 1415.2 486.9 1415.8 476.4 1416.4 465.3 1417.0 472.8 1417.6 468.5 1418.2 478.3 1418.8 477.0 1419.4 481.6 1420.0 484.2 1420.6 479.1 1421.2 460.1 1421.8 472.6 1422.4 479.0 1423.0 485.7 1423.6 478.1 1424.2 464.6 1424.8 487.7 1425.4 467.3 1426.0 470.1 1426.6 458.0 1427.2 480.9 1427.8 474.7 1428.4 470.5 1429.0 488.5 1429.6 463.5 1430.2 467.8 1430.8 478.5 1431.4 460.2 1432.0 473.7 1432.6 487.2 1433.2 468.6 1433.8 477.2 1434.4 468.6 1435.0 481.8 1435.6 466.7 1436.2 474.0 1436.8 477.0 1437.4 470.1 1438.0 472.2 1438.6 464.0 1439.2 484.8 1439.8 479.5 1440.4 470.5 1441.0 471.6 1441.6 470.1 1442.2 471.5 1442.8 473.1 1443.4 480.9 1444.0 476.0 1444.6 473.6 1445.2 466.4 1445.8 472.2 1446.4 485.2 1447.0 480.3 1447.6 477.4 1448.2 470.6 1448.8 463.5 1449.4 487.2 1450.0 480.1 1450.6 485.5 1451.2 475.6 1451.8 481.0 1452.4 466.9 1453.0 490.3 1453.6 472.4 1454.2 476.9 1454.8 481.9 1455.4 486.0 1456.0 482.1 1456.6 478.7 1457.2 481.5 1457.8 463.7 1458.4 463.4 1459.0 473.2 1459.6 471.4 1460.2 472.4 1460.8 472.9 1461.4 482.6 1462.0 480.6 1462.6 468.1 1463.2 480.5 1463.8 476.5 1464.4 484.1 1465.0 476.6 1465.6 459.4 1466.2 479.3 1466.8 479.7 1467.4 475.4 1468.0 475.0 1468.6 486.4 1469.2 475.7 1469.8 478.7 1470.4 470.5 1471.0 472.9 1471.6 465.5 1472.2 481.4 1472.8 495.6 1473.4 486.3 1474.0 488.8 1474.6 492.9 1475.2 495.9 1475.8 485.0 1476.4 487.4 1477.0 474.8 1477.6 480.6 1478.2 495.1 1478.8 482.0 1479.4 484.1 1480.0 482.9 1480.6 483.9 1481.2 470.4 1481.8 479.8 1482.4 465.9 1483.0 494.4 1483.6 484.2 1484.2 484.3 1484.8 473.8 1485.4 469.5 1486.0 481.0 1486.6 487.8 1487.2 478.1 1487.8 482.8 1488.4 472.4 1489.0 477.1 1489.6 467.8 1490.2 471.2 1490.8 491.5 1491.4 468.1 1492.0 476.6 1492.6 492.6 1493.2 493.1 1493.8 480.2 1494.4 469.0 1495.0 475.9 1495.6 475.6 1496.2 468.8 1496.8 477.0 1497.4 471.2 1498.0 485.4 1498.6 474.1 1499.2 479.9 1499.8 472.1 1500.4 485.4 1501.0 488.4 1501.6 487.9 1502.2 479.3 1502.8 489.4 1503.4 481.2 1504.0 483.1 1504.6 495.9 1505.2 487.3 1505.8 468.6 1506.4 492.2 1507.0 477.4 1507.6 491.6 1508.2 489.3 1508.8 485.4 1509.4 476.7 1510.0 470.6 1510.6 496.6 1511.2 474.3 1511.8 473.0 1512.4 481.4 1513.0 493.0 1513.6 482.8 1514.2 495.9 1514.8 486.4 1515.4 492.7 1516.0 489.1 1516.6 497.4 1517.2 494.9 1517.8 476.3 1518.4 489.6 1519.0 479.2 1519.6 505.5 1520.2 482.7 1520.8 479.9 1521.4 476.4 1522.0 486.6 1522.6 467.6 1523.2 483.1 1523.8 481.2 1524.4 483.3 1525.0 501.2 1525.6 481.5 1526.2 484.0 1526.8 488.5 1527.4 474.7 1528.0 487.9 1528.6 483.6 1529.2 484.7 1529.8 477.0 1530.4 465.2 1531.0 474.9 1531.6 468.1 1532.2 477.3 1532.8 466.2 1533.4 479.9 1534.0 488.6 1534.6 478.8 1535.2 486.4 1535.8 472.2 1536.4 477.5 1537.0 484.8 1537.6 476.3 1538.2 486.2 1538.8 492.8 1539.4 484.2 1540.0 492.1 1540.6 486.8 1541.2 482.9 1541.8 469.6 1542.4 479.4 1543.0 480.3 1543.6 497.4 1544.2 468.1 1544.8 475.9 1545.4 476.4 1546.0 491.7 1546.6 490.6 1547.2 489.8 1547.8 492.2 1548.4 478.9 1549.0 496.7 1549.6 471.3 1550.2 479.0 1550.8 490.2 1551.4 484.7 1552.0 491.8 1552.6 492.4 1553.2 474.0 1553.8 477.7 1554.4 492.5 1555.0 488.6 1555.6 495.4 1556.2 477.5 1556.8 488.7 1557.4 483.3 1558.0 476.8 1558.6 483.6 1559.2 492.9 1559.8 481.0 1560.4 495.9 1561.0 493.3 1561.6 480.1 1562.2 496.6 1562.8 493.5 1563.4 479.0 1564.0 469.4 1564.6 472.7 1565.2 486.6 1565.8 493.5 1566.4 478.6 1567.0 479.4 1567.6 494.3 1568.2 492.7 1568.8 481.5 1569.4 494.7 1570.0 484.0 1570.6 473.8 1571.2 480.7 1571.8 476.3 1572.4 487.7 1573.0 486.4 1573.6 486.2 1574.2 487.5 1574.8 481.4 1575.4 477.1 1576.0 475.6 1576.6 475.8 1577.2 472.8 1577.8 482.1 1578.4 469.3 1579.0 489.3 1579.6 486.9 1580.2 489.7 1580.8 487.4 1581.4 498.9 1582.0 481.9 1582.6 487.9 1583.2 473.6 1583.8 476.2 1584.4 481.5 1585.0 487.1 1585.6 489.7 1586.2 475.7 1586.8 476.9 1587.4 483.7 1588.0 479.8 1588.6 480.2 1589.2 481.8 1589.8 479.9 1590.4 472.1 1591.0 494.1 1591.6 487.7 1592.2 495.5 1592.8 487.5 1593.4 481.8 1594.0 483.8 1594.6 490.4 1595.2 483.8 1595.8 489.5 1596.4 481.9 1597.0 487.5 1597.6 492.2 1598.2 478.5 1598.8 471.4 1599.4 476.8 1600.0 478.2 1600.6 479.8 1601.2 477.8 1601.8 479.2 1602.4 482.3 1603.0 486.7 1603.6 471.0 1604.2 478.1 1604.8 492.1 1605.4 484.6 1606.0 485.0 1606.6 497.4 1607.2 493.9 1607.8 495.9 1608.4 479.0 1609.0 490.9 1609.6 466.6 1610.2 487.2 1610.8 481.1 1611.4 485.5 1612.0 472.6 1612.6 478.0 1613.2 479.4 1613.8 479.4 1614.4 487.7 1615.0 486.8 1615.6 475.6 1616.2 480.0 1616.8 478.3 1617.4 473.5 1618.0 502.0 1618.6 485.5 1619.2 488.3 1619.8 483.2 1620.4 471.9 1621.0 487.7 1621.6 497.5 1622.2 486.5 1622.8 469.5 1623.4 487.5 1624.0 485.9 1624.6 487.2 1625.2 472.2 1625.8 495.6 1626.4 482.1 1627.0 481.3 1627.6 479.8 1628.2 488.8 1628.8 478.0 1629.4 478.6 1630.0 499.9 1630.6 484.7 1631.2 475.5 1631.8 476.7 1632.4 491.1 1633.0 481.1 1633.6 479.9 1634.2 472.8 1634.8 496.6 1635.4 482.6 1636.0 493.6 1636.6 488.9 1637.2 488.9 1637.8 491.8 1638.4 478.9 1639.0 493.1 1639.6 485.7 1640.2 477.3 1640.8 479.6 1641.4 483.8 1642.0 484.0 1642.6 499.1 1643.2 487.5 1643.8 490.2 1644.4 474.7 1645.0 478.4 1645.6 477.2 1646.2 485.0 1646.8 498.5 1647.4 471.9 1648.0 491.2 1648.6 489.5 1649.2 478.8 1649.8 498.6 1650.4 483.7 1651.0 492.6 1651.6 482.9 1652.2 488.3 1652.8 501.8 1653.4 488.7 1654.0 482.6 1654.6 478.4 1655.2 489.1 1655.8 481.9 1656.4 474.9 1657.0 485.9 1657.6 498.5 1658.2 475.6 1658.8 494.3 1659.4 495.2 1660.0 481.0 1660.6 494.1 1661.2 489.9 1661.8 471.1 1662.4 482.5 1663.0 478.2 1663.6 495.5 1664.2 480.1 1664.8 471.7 1665.4 476.7 1666.0 485.6 1666.6 496.6 1667.2 498.8 1667.8 492.8 1668.4 479.6 1669.0 480.7 1669.6 482.3 1670.2 480.6 1670.8 494.8 1671.4 477.4 1672.0 491.6 1672.6 484.0 1673.2 480.7 1673.8 474.6 1674.4 492.4 1675.0 484.6 1675.6 478.9 1676.2 488.6 1676.8 480.5 1677.4 478.8 1678.0 494.5 1678.6 480.7 1679.2 480.0 1679.8 482.9 1680.4 489.7 1681.0 485.2 1681.6 483.3 1682.2 498.3 1682.8 484.5 1683.4 497.5 1684.0 483.5 1684.6 483.9 1685.2 484.5 1685.8 473.8 1686.4 488.8 1687.0 486.8 1687.6 478.1 1688.2 491.2 1688.8 499.9 1689.4 494.0 1690.0 474.5 1690.6 480.3 1691.2 490.9 1691.8 481.8 1692.4 482.1 1693.0 495.5 1693.6 480.3 1694.2 472.8 1694.8 490.8 1695.4 492.7 1696.0 480.5 1696.6 477.1 1697.2 497.0 1697.8 487.8 1698.4 482.0 1699.0 477.9 1699.6 487.3 1700.2 481.1 1700.8 489.6 1701.4 499.3 1702.0 487.3 1702.6 496.5 1703.2 482.5 1703.8 477.7 1704.4 485.0 1705.0 480.3 1705.6 483.4 1706.2 475.3 1706.8 480.9 1707.4 495.0 1708.0 495.5 1708.6 473.8 1709.2 482.6 1709.8 493.8 1710.4 475.5 1711.0 485.8 1711.6 497.5 1712.2 481.3 1712.8 496.4 1713.4 479.1 1714.0 480.5 1714.6 478.7 1715.2 490.1 1715.8 500.4 1716.4 494.0 1717.0 477.6 1717.6 480.3 1718.2 471.1 1718.8 492.8 1719.4 483.3 1720.0 481.8 1720.6 493.0 1721.2 481.7 1721.8 481.2 1722.4 492.7 1723.0 493.0 1723.6 478.1 1724.2 480.9 1724.8 480.7 1725.4 499.7 1726.0 490.8 1726.6 496.3 1727.2 484.2 1727.8 490.4 1728.4 482.3 1729.0 489.9 1729.6 478.9 1730.2 486.7 1730.8 493.6 1731.4 477.6 1732.0 504.3 1732.6 501.4 1733.2 489.6 1733.8 496.0 1734.4 484.2 1735.0 477.7 1735.6 481.7 1736.2 479.6 1736.8 483.1 1737.4 491.0 1738.0 481.7 1738.6 477.1 1739.2 497.6 1739.8 492.3 1740.4 481.7 1741.0 469.2 1741.6 494.2 1742.2 472.1 1742.8 484.8 1743.4 497.1 1744.0 492.2 1744.6 495.7 1745.2 483.6 1745.8 487.0 1746.4 486.5 1747.0 498.4 1747.6 495.7 1748.2 495.7 1748.8 496.1 1749.4 493.9 1750.0 488.0 1750.6 479.0 1751.2 472.3 1751.8 499.1 1752.4 496.0 1753.0 488.3 1753.6 493.6 1754.2 492.9 1754.8 488.6 1755.4 494.3 1756.0 478.9 1756.6 477.2 1757.2 498.6 1757.8 476.4 1758.4 480.3 1759.0 485.8 1759.6 493.4 1760.2 495.9 1760.8 490.0 1761.4 496.1 1762.0 479.7 1762.6 474.6 1763.2 482.0 1763.8 481.6 1764.4 477.3 1765.0 494.4 1765.6 482.8 1766.2 488.0 1766.8 488.1 1767.4 488.9 1768.0 478.2 1768.6 473.6 1769.2 476.8 1769.8 486.8 1770.4 480.4 1771.0 484.6 1771.6 491.7 1772.2 491.5 1772.8 485.2 1773.4 475.0 1774.0 473.8 1774.6 474.6 1775.2 480.0 1775.8 477.1 1776.4 484.4 1777.0 475.7 1777.6 494.4 1778.2 487.7 1778.8 499.3 1779.4 490.5 1780.0 475.3 1780.6 485.1 1781.2 477.6 1781.8 475.3 1782.4 482.4 1783.0 493.3 1783.6 477.7 1784.2 475.4 1784.8 476.2 1785.4 484.9 1786.0 484.6 1786.6 495.6 1787.2 483.7 1787.8 493.6 1788.4 481.6 1789.0 476.9 1789.6 496.1 1790.2 479.3 1790.8 493.4 1791.4 477.9 1792.0 475.1 1792.6 488.1 1793.2 494.8 1793.8 490.6 1794.4 499.7 1795.0 491.5 1795.6 485.5 1796.2 488.0 1796.8 482.5 1797.4 482.7 1798.0 489.4 1798.6 493.5 1799.2 497.4 1799.8 489.1 1800.4 476.9 1801.0 484.6 1801.6 476.4 1802.2 503.4 1802.8 494.7 1803.4 482.5 1804.0 487.0 1804.6 494.3 1805.2 499.7 1805.8 473.4 1806.4 498.8 1807.0 496.0 1807.6 476.1 1808.2 478.5 1808.8 487.0 1809.4 488.3 1810.0 483.5 1810.6 488.3 1811.2 491.4 1811.8 489.1 1812.4 479.8 1813.0 487.2 1813.6 499.8 1814.2 493.8 1814.8 476.8 1815.4 471.8 1816.0 484.5 1816.6 491.5 1817.2 495.7 1817.8 487.5 1818.4 481.6 1819.0 477.1 1819.6 483.0 1820.2 484.4 1820.8 487.8 1821.4 492.5 1822.0 488.8 1822.6 472.6 1823.2 487.6 1823.8 481.3 1824.4 482.4 1825.0 485.7 1825.6 487.7 1826.2 474.4 1826.8 472.6 1827.4 487.9 1828.0 488.9 1828.6 481.4 1829.2 484.5 1829.8 488.8 1830.4 492.3 1831.0 494.2 1831.6 478.4 1832.2 486.8 1832.8 486.7 1833.4 471.7 1834.0 474.9 1834.6 497.1 1835.2 490.2 1835.8 482.8 1836.4 488.4 1837.0 496.7 1837.6 486.5 1838.2 484.9 1838.8 493.5 1839.4 491.2 1840.0 495.6 1840.6 479.7 1841.2 478.1 1841.8 477.7 1842.4 487.9 1843.0 484.5 1843.6 486.4 1844.2 477.8 1844.8 485.5 1845.4 484.8 1846.0 477.0 1846.6 499.7 1847.2 482.7 1847.8 484.3 1848.4 501.1 1849.0 496.1 1849.6 490.7 1850.2 471.6 1850.8 488.7 1851.4 483.3 1852.0 488.9 1852.6 489.7 1853.2 478.0 1853.8 493.2 1854.4 492.0 1855.0 473.8 1855.6 470.6 1856.2 497.1 1856.8 468.8 1857.4 496.5 1858.0 489.2 1858.6 488.3 1859.2 469.7 1859.8 491.8 1860.4 475.6 1861.0 494.9 1861.6 483.2 1862.2 480.1 1862.8 475.1 1863.4 474.9 1864.0 479.8 1864.6 477.2 1865.2 469.3 1865.8 485.9 1866.4 491.6 1867.0 487.5 1867.6 483.1 1868.2 501.3 1868.8 473.5 1869.4 480.5 1870.0 483.4 1870.6 477.6 1871.2 488.5 1871.8 487.2 1872.4 478.6 1873.0 493.4 1873.6 481.0 1874.2 469.0 1874.8 493.7 1875.4 483.6 1876.0 484.5 1876.6 476.1 1877.2 478.9 1877.8 473.7 1878.4 482.4 1879.0 484.7 1879.6 480.8 1880.2 472.0 1880.8 497.4 1881.4 479.6 1882.0 485.4 1882.6 475.2 1883.2 490.6 1883.8 488.3 1884.4 486.5 1885.0 477.9 1885.6 479.1 1886.2 490.9 1886.8 482.5 1887.4 494.5 1888.0 478.9 1888.6 483.9 1889.2 489.6 1889.8 486.7 1890.4 492.0 1891.0 492.5 1891.6 476.2 1892.2 482.1 1892.8 474.8 1893.4 480.3 1894.0 489.2 1894.6 484.5 1895.2 470.0 1895.8 482.2 1896.4 489.6 1897.0 478.3 1897.6 479.7 1898.2 478.5 1898.8 474.7 1899.4 478.1 1900.0 478.8 1900.6 476.0 1901.2 489.2 1901.8 492.7 1902.4 487.5 1903.0 488.8 1903.6 490.1 1904.2 487.3 1904.8 483.1 1905.4 474.5 1906.0 491.8 1906.6 473.6 1907.2 481.8 1907.8 482.2 1908.4 489.3 1909.0 489.0 1909.6 479.2 1910.2 476.3 1910.8 486.8 1911.4 470.3 1912.0 469.5 1912.6 485.6 1913.2 491.8 1913.8 482.6 1914.4 492.5 1915.0 471.8 1915.6 495.1 1916.2 475.7 1916.8 493.4 1917.4 476.5 1918.0 479.9 1918.6 489.1 1919.2 477.7 1919.8 473.6 1920.4 476.5 1921.0 476.0 1921.6 494.1 1922.2 477.4 1922.8 487.0 1923.4 489.0 1924.0 469.3 1924.6 473.9 1925.2 499.2 1925.8 487.2 1926.4 482.0 1927.0 476.5 1927.6 474.7 1928.2 492.1 1928.8 489.4 1929.4 476.8 1930.0 492.5 1930.6 470.6 1931.2 483.5 1931.8 481.5 1932.4 482.8 1933.0 479.9 1933.6 494.0 1934.2 481.5 1934.8 478.4 1935.4 490.4 1936.0 482.4 1936.6 482.6 1937.2 494.4 1937.8 483.0 1938.4 483.8 1939.0 492.2 1939.6 488.8 1940.2 490.1 1940.8 483.1 1941.4 467.5 1942.0 480.9 1942.6 486.8 1943.2 471.5 1943.8 491.0 1944.4 491.4 1945.0 478.5 1945.6 480.9 1946.2 476.6 1946.8 476.0 1947.4 486.6 1948.0 468.5 1948.6 480.7 1949.2 476.7 1949.8 490.1 1950.4 489.6 1951.0 482.4 1951.6 483.6 1952.2 485.7 1952.8 489.6 1953.4 480.0 1954.0 478.1 1954.6 465.5 1955.2 486.6 1955.8 486.5 1956.4 482.0 1957.0 485.9 1957.6 492.9 1958.2 465.5 1958.8 489.9 1959.4 469.9 1960.0 481.5 1960.6 478.0 1961.2 471.9 1961.8 484.1 1962.4 477.1 1963.0 460.1 1963.6 487.7 1964.2 494.5 1964.8 473.5 1965.4 491.4 1966.0 496.3 1966.6 485.6 1967.2 480.2 1967.8 490.3 1968.4 470.3 1969.0 472.6 1969.6 482.9 1970.2 492.8 1970.8 472.7 1971.4 478.8 1972.0 472.4 1972.6 475.2 1973.2 476.9 1973.8 472.6 1974.4 466.0 1975.0 484.0 1975.6 496.5 1976.2 475.6 1976.8 473.1 1977.4 465.4 1978.0 485.1 1978.6 472.2 1979.2 486.8 1979.8 490.8 1980.4 485.7 1981.0 474.1 1981.6 484.0 1982.2 489.1 1982.8 477.8 1983.4 497.8 1984.0 476.5 1984.6 476.4 1985.2 468.8 1985.8 495.7 1986.4 488.0 1987.0 486.4 1987.6 474.8 1988.2 469.0 1988.8 486.2 1989.4 487.4 1990.0 488.8 1990.6 470.3 1991.2 471.1 1991.8 483.5 1992.4 470.0 1993.0 484.8 1993.6 491.2 1994.2 491.6 1994.8 491.4 1995.4 469.5 1996.0 472.3 1996.6 488.0 1997.2 487.1 1997.8 467.8 1998.4 463.7 1999.0 470.3 1999.6 490.7 2000.2 474.1 2000.8 491.7 2001.4 489.1 2002.0 474.4 2002.6 486.0 2003.2 494.5 2003.8 468.8 2004.4 468.8 2005.0 483.3 2005.6 485.3 2006.2 486.1 2006.8 485.4 2007.4 494.9 2008.0 481.8 2008.6 485.1 2009.2 487.5 2009.8 483.7 2010.4 476.7 2011.0 472.9 2011.6 496.1 2012.2 490.0 2012.8 486.4 2013.4 482.8 2014.0 482.5 2014.6 472.8 2015.2 485.8 2015.8 471.6 2016.4 478.6 2017.0 481.2 2017.6 489.6 2018.2 483.9 2018.8 487.3 2019.4 481.2 2020.0 465.4 2020.6 474.7 2021.2 486.8 2021.8 492.8 2022.4 464.2 2023.0 477.2 2023.6 498.6 2024.2 493.6 2024.8 483.6 2025.4 473.5 2026.0 475.4 2026.6 490.8 2027.2 491.8 2027.8 494.7 2028.4 485.8 2029.0 488.7 2029.6 474.5 2030.2 488.3 2030.8 475.6 2031.4 485.1 2032.0 476.7 2032.6 481.0 2033.2 467.2 2033.8 465.7 2034.4 474.4 2035.0 494.4 2035.6 475.4 2036.2 486.0 2036.8 468.3 2037.4 488.3 2038.0 487.0 2038.6 487.5 2039.2 491.5 2039.8 494.3 2040.4 478.0 2041.0 472.0 2041.6 476.8 2042.2 468.7 2042.8 492.2 2043.4 495.0 2044.0 477.2 2044.6 475.5 2045.2 479.3 2045.8 474.1 2046.4 486.6 2047.0 482.4 2047.6 485.1 2048.2 484.9 2048.8 489.8 2049.4 486.5 2050.0 489.1 2050.6 474.8 2051.2 474.0 2051.8 470.5 2052.4 488.8 2053.0 467.1 2053.6 475.7 2054.2 461.6 2054.8 481.6 2055.4 493.4 2056.0 477.3 2056.6 463.3 2057.2 482.2 2057.8 481.4 2058.4 477.0 2059.0 479.4 2059.6 476.9 2060.2 470.7 2060.8 484.1 2061.4 470.7 2062.0 471.2 2062.6 483.0 2063.2 480.4 2063.8 472.8 2064.4 466.3 2065.0 492.6 2065.6 478.7 2066.2 474.1 2066.8 482.4 2067.4 476.3 2068.0 481.5 2068.6 491.8 2069.2 473.0 2069.8 481.7 2070.4 470.7 2071.0 486.2 2071.6 490.4 2072.2 481.4 2072.8 468.1 2073.4 479.5 2074.0 486.7 2074.6 468.6 2075.2 467.4 2075.8 483.3 2076.4 466.0 2077.0 485.4 2077.6 471.3 2078.2 471.6 2078.8 489.3 2079.4 471.1 2080.0 486.0 2080.6 484.7 2081.2 479.3 2081.8 469.8 2082.4 476.8 2083.0 476.9 2083.6 476.7 2084.2 471.2 2084.8 477.2 2085.4 468.5 2086.0 476.4 2086.6 481.6 2087.2 479.5 2087.8 474.3 2088.4 483.0 2089.0 489.9 2089.6 473.8 2090.2 466.5 2090.8 468.5 2091.4 465.2 2092.0 472.4 2092.6 479.3 2093.2 460.2 2093.8 477.6 2094.4 469.2 2095.0 479.3 2095.6 468.1 2096.2 464.8 2096.8 466.0 2097.4 476.6 2098.0 463.3 2098.6 473.6 2099.2 469.4 2099.8 482.2 2100.4 481.4 2101.0 471.4 2101.6 473.6 2102.2 484.9 2102.8 462.8 2103.4 486.7 2104.0 482.5 2104.6 487.3 2105.2 478.7 2105.8 462.9 2106.4 480.1 2107.0 482.5 2107.6 474.5 2108.2 472.1 2108.8 467.7 2109.4 483.7 2110.0 469.3 2110.6 481.7 2111.2 469.2 2111.8 480.8 2112.4 484.5 2113.0 485.7 2113.6 487.9 2114.2 464.7 2114.8 478.8 2115.4 474.7 2116.0 470.7 2116.6 480.4 2117.2 485.3 2117.8 479.7 2118.4 482.2 2119.0 469.8 2119.6 487.5 2120.2 465.4 2120.8 488.5 2121.4 471.8 2122.0 461.9 2122.6 480.5 2123.2 476.2 2123.8 480.1 2124.4 484.1 2125.0 477.7 2125.6 470.8 2126.2 480.2 2126.8 469.5 2127.4 483.9 2128.0 488.6 2128.6 469.4 2129.2 480.5 2129.8 476.0 2130.4 464.9 2131.0 478.9 2131.6 478.7 2132.2 473.6 2132.8 471.4 2133.4 482.5 2134.0 472.4 2134.6 466.7 2135.2 470.7 2135.8 470.7 2136.4 484.7 2137.0 478.4 2137.6 468.4 2138.2 486.6 2138.8 480.3 2139.4 463.5 2140.0 469.3 2140.6 462.9 2141.2 460.1 2141.8 478.1 2142.4 468.7 2143.0 474.8 2143.6 462.3 2144.2 487.6 2144.8 470.5 2145.4 463.7 2146.0 457.8 2146.6 489.2 2147.2 487.1 2147.8 468.6 2148.4 471.4 2149.0 477.8 2149.6 488.9 2150.2 471.2 2150.8 480.9 2151.4 463.0 2152.0 461.3 2152.6 483.1 2153.2 468.1 2153.8 464.0 2154.4 478.6 2155.0 461.2 2155.6 488.2 2156.2 496.1 2156.8 492.1 2157.4 468.7 2158.0 474.4 2158.6 479.6 2159.2 476.9 2159.8 460.3 2160.4 469.2 2161.0 486.2 2161.6 474.7 2162.2 466.9 2162.8 477.9 2163.4 478.1 2164.0 482.3 2164.6 468.8 2165.2 463.1 2165.8 463.5 2166.4 467.4 2167.0 479.2 2167.6 483.5 2168.2 472.3 2168.8 481.1 2169.4 484.5 2170.0 476.0 2170.6 480.9 2171.2 487.5 2171.8 462.7 2172.4 479.8 2173.0 484.0 2173.6 466.0 2174.2 460.8 2174.8 478.5 2175.4 471.0 2176.0 482.8 2176.6 472.6 2177.2 483.2 2177.8 476.7 2178.4 474.5 2179.0 481.6 2179.6 471.2 2180.2 476.8 2180.8 481.4 2181.4 453.7 2182.0 476.8 2182.6 455.7 2183.2 465.2 2183.8 459.3 2184.4 465.7 2185.0 469.6 2185.6 461.4 2186.2 476.1 2186.8 473.9 2187.4 476.6 2188.0 481.7 2188.6 456.9 2189.2 481.7 2189.8 459.8 2190.4 460.1 2191.0 479.9 2191.6 460.4 2192.2 472.6 2192.8 475.9 2193.4 465.9 2194.0 461.6 2194.6 478.8 2195.2 469.8 2195.8 472.5 2196.4 488.0 2197.0 467.6 2197.6 467.3 2198.2 471.6 2198.8 476.6 2199.4 473.2 2200.0 481.7 2200.6 460.7 2201.2 482.5 2201.8 463.6 2202.4 456.1 2203.0 463.6 2203.6 461.9 2204.2 449.7 2204.8 443.4 2205.4 435.7 2206.0 433.0 2206.6 435.7 2207.2 442.0 2207.8 451.4 2208.4 459.2 2209.0 462.8 2209.6 468.7 2210.2 466.1 2210.8 463.4 2211.4 467.7 2212.0 467.0 2212.6 465.5 2213.2 482.4 2213.8 468.8 2214.4 468.5 2215.0 483.0 2215.6 463.6 2216.2 482.3 2216.8 473.0 2217.4 466.8 2218.0 465.6 2218.6 469.3 2219.2 486.6 2219.8 470.1 2220.4 457.6 2221.0 463.3 2221.6 483.7 2222.2 486.6 2222.8 487.9 2223.4 460.3 2224.0 463.2 2224.6 482.2 2225.2 481.8 2225.8 480.0 2226.4 465.7 2227.0 492.5 2227.6 478.5 2228.2 483.7 2228.8 475.4 2229.4 475.4 2230.0 464.5 2230.6 479.3 2231.2 461.1 2231.8 487.5 2232.4 481.5 2233.0 464.1 2233.6 465.5 2234.2 470.3 2234.8 482.8 2235.4 484.8 2236.0 491.9 2236.6 483.9 2237.2 468.8 2237.8 466.1 2238.4 484.7 2239.0 475.6 2239.6 462.5 2240.2 478.6 2240.8 474.2 2241.4 476.6 2242.0 464.6 2242.6 465.9 2243.2 465.1 2243.8 475.8 2244.4 466.2 2245.0 473.5 2245.6 480.8 2246.2 474.7 2246.8 481.1 2247.4 478.9 2248.0 467.8 2248.6 473.5 2249.2 488.5 2249.8 477.8 2250.4 478.1 2251.0 464.2 2251.6 488.0 2252.2 484.4 2252.8 480.5 2253.4 483.8 2254.0 458.9 2254.6 471.3 2255.2 480.7 2255.8 467.5 2256.4 466.9 2257.0 486.3 2257.6 465.6 2258.2 492.0 2258.8 486.9 2259.4 473.5 2260.0 480.8 2260.6 461.3 2261.2 489.0 2261.8 491.4 2262.4 479.8 2263.0 463.0 2263.6 485.2 2264.2 492.2 2264.8 467.4 2265.4 485.9 2266.0 486.5 2266.6 468.6 2267.2 466.4 2267.8 469.2 2268.4 471.7 2269.0 467.3 2269.6 470.8 2270.2 472.6 2270.8 480.2 2271.4 473.1 2272.0 498.6 2272.6 469.0 2273.2 482.4 2273.8 475.4 2274.4 472.8 2275.0 486.2 2275.6 484.7 2276.2 485.4 2276.8 484.8 2277.4 482.6 2278.0 486.4 2278.6 480.1 2279.2 471.8 2279.8 483.5 2280.4 476.0 2281.0 467.5 2281.6 489.3 2282.2 482.1 2282.8 488.4 2283.4 474.3 2284.0 477.4 2284.6 477.7 2285.2 471.0 2285.8 480.9 2286.4 490.2 2287.0 470.3 2287.6 477.9 2288.2 488.3 2288.8 494.5 2289.4 470.6 2290.0 490.4 2290.6 489.3 2291.2 482.7 2291.8 487.8 2292.4 471.9 2293.0 486.2 2293.6 487.6 2294.2 480.8 2294.8 485.4 2295.4 478.8 2296.0 489.2 2296.6 467.3 2297.2 474.2 2297.8 472.1 2298.4 491.9 2299.0 485.5 2299.6 487.0 2300.2 482.4 2300.8 485.7 2301.4 488.2 2302.0 488.8 2302.6 471.1 2303.2 466.8 2303.8 475.2 2304.4 475.8 2305.0 489.2 2305.6 488.8 2306.2 465.0 2306.8 461.3 2307.4 491.4 2308.0 470.7 2308.6 470.4 2309.2 486.0 2309.8 474.6 2310.4 478.1 2311.0 476.9 2311.6 481.3 2312.2 480.8 2312.8 486.8 2313.4 474.0 2314.0 489.6 2314.6 482.7 2315.2 474.8 2315.8 490.4 2316.4 460.3 2317.0 490.2 2317.6 460.7 2318.2 471.7 2318.8 477.8 2319.4 474.0 2320.0 485.9 2320.6 477.5 2321.2 467.8 2321.8 480.0 2322.4 469.5 2323.0 484.8 2323.6 458.9 2324.2 475.6 2324.8 482.3 2325.4 477.3 2326.0 470.1 2326.6 485.1 2327.2 483.7 2327.8 470.6 2328.4 461.9 2329.0 469.1 2329.6 475.6 2330.2 482.3 2330.8 489.8 2331.4 473.4 2332.0 471.4 2332.6 473.5 2333.2 480.5 2333.8 463.4 2334.4 467.4 2335.0 493.1 2335.6 473.3 2336.2 488.2 2336.8 492.9 2337.4 479.3 2338.0 462.4 2338.6 489.3 2339.2 481.1 2339.8 469.2 2340.4 468.9 2341.0 482.4 2341.6 479.6 2342.2 490.1 2342.8 465.7 2343.4 466.2 2344.0 492.4 2344.6 477.0 2345.2 461.2 2345.8 483.2 2346.4 480.3 2347.0 473.1 2347.6 480.7 2348.2 491.2 2348.8 475.5 2349.4 471.0 2350.0 468.7 2350.6 490.4 2351.2 468.4 2351.8 466.3 2352.4 485.5 2353.0 476.1 2353.6 478.0 2354.2 491.1 2354.8 477.5 2355.4 471.5 2356.0 460.3 2356.6 461.5 2357.2 479.2 2357.8 470.6 2358.4 466.1 2359.0 481.8 2359.6 480.0 2360.2 488.0 2360.8 484.9 2361.4 459.0 2362.0 482.6 2362.6 485.1 2363.2 480.2 2363.8 471.4 2364.4 467.6 2365.0 461.6 2365.6 474.0 2366.2 473.5 2366.8 476.0 2367.4 471.5 2368.0 480.4 2368.6 462.7 2369.2 479.0 2369.8 465.1 2370.4 473.8 2371.0 475.7 2371.6 473.9 2372.2 471.3 2372.8 483.7 2373.4 470.6 2374.0 478.0 2374.6 481.9 2375.2 459.7 2375.8 474.0 2376.4 464.8 2377.0 475.6 2377.6 459.8 2378.2 478.7 2378.8 478.6 2379.4 473.6 2380.0 475.1 2380.6 480.9 2381.2 476.6 2381.8 473.2 2382.4 463.8 2383.0 479.1 2383.6 477.7 2384.2 490.0 2384.8 462.1 2385.4 486.2 2386.0 476.4 2386.6 484.6 2387.2 485.8 2387.8 465.1 2388.4 463.1 2389.0 470.9 2389.6 460.4 2390.2 454.3 2390.8 468.2 2391.4 473.4 2392.0 481.8 2392.6 457.2 2393.2 459.4 2393.8 482.7 2394.4 474.2 2395.0 483.0 2395.6 488.0 2396.2 462.8 2396.8 460.4 2397.4 469.2 2398.0 469.2 2398.6 472.6 2399.2 486.5 2399.8 474.5 2400.4 464.0 2401.0 468.0 2401.6 461.4 2402.2 474.3 2402.8 465.2 2403.4 459.0 2404.0 461.3 2404.6 473.8 2405.2 459.5 2405.8 463.5 2406.4 473.1 2407.0 489.8 2407.6 468.6 2408.2 477.0 2408.8 465.5 2409.4 463.9 2410.0 478.7 2410.6 487.1 2411.2 482.0 2411.8 479.7 2412.4 459.7 2413.0 456.6 2413.6 483.5 2414.2 475.7 2414.8 457.9 2415.4 474.8 2416.0 476.6 2416.6 462.7 2417.2 459.3 2417.8 459.9 2418.4 467.1 2419.0 452.5 2419.6 460.8 2420.2 461.0 2420.8 471.1 2421.4 474.0 2422.0 478.5 2422.6 465.0 2423.2 481.3 2423.8 459.4 2424.4 470.2 2425.0 482.0 2425.6 474.6 2426.2 480.1 2426.8 470.6"/>
<path stroke="#0000ff" d="M199.0 823.2L199.6 825.0 200.2 835.1 200.8 823.3 201.4 833.2 202.0 831.0 202.6 825.5 203.2 822.7 203.8 827.1 204.4 831.1 205.0 831.5 205.6 827.4 206.2 832.4 206.8 832.0 207.4 833.4 208.0 831.8 208.6 836.8 209.2 837.0 209.8 829.2 210.4 830.8 211.0 826.8 211.6 830.9 212.2 839.8 212.8 836.3 213.4 825.7 214.0 838.4 214.6 829.7 215.2 833.9 215.8 822.7 216.4 818.4 217.0 827.0 217.6 835.8 218.2 833.0 218.8 834.7 219.4 832.4 220.0 831.1 220.6 834.0 221.2 832.8 221.8 837.5 222.4 827.5 223.0 836.8 223.6 832.9 224.2 836.0 224.8 827.3 225.4 833.9 226.0 824.0 226.6 836.3 227.2 825.4 227.8 820.8 228.4 822.4 229.0 831.8 229.6 828.4 230.2 841.9 230.8 840.0 231.4 824.4 232.0 835.9 232.6 830.2 233.2 841.3 233.8 828.2 234.4 824.7 235.0 822.1 235.6 827.4 236.2 834.5 236.8 817.5 237.4 818.1 238.0 831.0 238.6 818.8 239.2 826.5 239.8 825.7 240.4 830.2 241.0 831.7 241.6 841.3 242.2 834.8 242.8 833.1 243.4 828.1 244.0 833.9 244.6 845.1 245.2 823.9 245.8 834.9 246.4 831.6 247.0 814.6 247.6 828.5 248.2 839.2 248.8 830.4 249.4 818.9 250.0 828.8 250.6 821.6 251.2 831.9 251.8 820.3 252.4 818.9 253.0 839.2 253.6 826.3 254.2 826.0 254.8 820.1 255.4 823.0 256.0 827.9 256.6 830.5 257.2 817.8 257.8 824.6 258.4 830.2 259.0 823.6 259.6 826.0 260.2 833.8 260.8 825.1 261.4 835.6 262.0 844.5 262.6 819.2 263.2 823.1 263.8 828.5 264.4 837.9 265.0 814.5 265.6 820.4 266.2 827.0 266.8 833.3 267.4 838.0 268.0 839.1 268.6 834.5 269.2 818.2 269.8 838.2 270.4 828.8 271.0 819.4 271.6 822.8 272.2 832.2 272.8 829.1 273.4 824.8 274.0 833.2 274.6 835.2 275.2 829.9 275.8 833.9 276.4 828.7 277.0 837.6 277.6 825.9 278.2 841.8 278.8 816.3 279.4 841.1 280.0 830.8 280.6 834.0 281.2 818.6 281.8 830.5 282.4 824.1 283.0 818.6 283.6 820.6 284.2 838.9 284.8 835.5 285.4 819.4 286.0 821.7 286.6 832.0 287.2 836.5 287.8 823.5 288.4 836.4 289.0 838.5 289.6 826.0 290.2 828.0 290.8 824.0 291.4 833.3 292.0 824.4 292.6 826.8 293.2 832.3 293.8 828.7 294.4 829.0 295.0 838.2 295.6 820.6 296.2 821.9 296.8 824.8 297.4 831.4 298.0 834.1 298.6 828.7 299.2 829.2 299.8 837.3 300.4 827.6 301.0 826.1 301.6 827.5 302.2 824.0 302.8 835.0 303.4 837.1 304.0 824.6 304.6 832.7 305.2 833.9 305.8 829.4 306.4 837.7 307.0 832.9 307.6 836.8 308.2 818.2 308.8 819.9 309.4 824.2 310.0 834.6 310.6 832.7 311.2 822.6 311.8 838.0 312.4 834.1 313.0 832.9 313.6 829.3 314.2 835.7 314.8 826.6 315.4 819.2 316.0 834.4 316.6 818.4 317.2 831.6 317.8 820.6 318.4 825.8 319.0 834.6 319.6 823.3 320.2 830.4 320.8 827.0 321.4 816.9 322.0 830.7 322.6 817.6 323.2 835.6 323.8 829.9 324.4 824.1 325.0 836.3 325.6 822.1 326.2 836.2 326.8 825.8 327.4 821.0 328.0 822.2 328.6 835.9 329.2 837.3 329.8 819.1 330.4 818.0 331.0 828.5 331.6 829.6 332.2 838.8 332.8 839.6 333.4 832.9 334.0 820.1 334.6 828.1 335.2 827.5 335.8 824.7 336.4 816.4 337.0 820.8 337.6 824.9 338.2 819.5 338.8 825.6 339.4 816.8 340.0 831.0 340.6 821.2 341.2 822.6 341.8 828.9 342.4 828.6 343.0 829.7 343.6 835.1 344.2 821.6 344.8 829.5 345.4 829.3 346.0 831.9 346.6 825.4 347.2 821.5 347.8 820.4 348.4 824.8 349.0 817.2 349.6 828.9 350.2 833.2 350.8 822.3 351.4 817.1 352.0 823.8 352.6 821.5 353.2 833.7 353.8 815.4 354.4 832.6 355.0 826.9 355.6 821.1 356.2 831.1 356.8 829.4 357.4 821.8 358.0 821.3 358.6 837.4 359.2 822.5 359.8 832.8 360.4 820.9 361.0 822.5 361.6 828.7 362.2 835.1 362.8 835.2 363.4 821.4 364.0 842.1 364.6 823.4 365.2 830.5 365.8 827.5 366.4 826.8 367.0 819.1 367.6 838.6 368.2 821.2 368.8 835.3 369.4 822.3 370.0 822.0 370.6 826.9 371.2 831.3 371.8 821.4 372.4 824.2 373.0 818.7 373.6 823.3 374.2 832.9 374.8 815.6 375.4 827.4 376.0 818.9 376.6 818.8 377.2 823.1 377.8 832.2 378.4 830.1 379.0 823.0 379.6 825.6 380.2 834.9 380.8 828.9 381.4 838.1 382.0 832.4 382.6 828.8 383.2 830.7 383.8 828.9 384.4 821.2 385.0 825.0 385.6 833.1 386.2 825.3 386.8 832.7 387.4 826.2 388.0 838.2 388.6 830.0 389.2 815.5 389.8 835.9 390.4 838.1 391.0 833.9 391.6 826.4 392.2 825.0 392.8 824.4 393.4 819.1 394.0 824.2 394.6 837.9 395.2 830.2 395.8 837.5 396.4 834.1 397.0 828.0 397.6 821.3 398.2 833.9 398.8 825.3 399.4 837.1 400.0 822.3 400.6 813.2 401.2 829.6 401.8 820.8 402.4 838.3 403.0 819.8 403.6 833.4 404.2 821.7 404.8 824.2 405.4 836.1 406.0 817.6 406.6 829.2 407.2 818.7 407.8 828.7 408.4 827.3 409.0 830.2 409.6 818.8 410.2 815.9 410.8 832.1 411.4 829.8 412.0 825.9 412.6 817.1 413.2 834.9 413.8 829.3 414.4 828.1 415.0 833.0 415.6 821.0 416.2 829.7 416.8 832.1 417.4 829.4 418.0 835.8 418.6 834.3 419.2 837.1 419.8 837.2 420.4 817.6 421.0 822.3 421.6 830.2 422.2 821.8 422.8 823.0 423.4 829.7 424.0 834.5 424.6 833.4 425.2 828.0 425.8 825.1 426.4 836.9 427.0 829.0 427.6 830.2 428.2 824.2 428.8 818.7 429.4 821.5 430.0 831.4 430.6 819.3 431.2 823.8 431.8 830.8 432.4 825.3 433.0 829.3 433.6 833.9 434.2 834.2 434.8 819.8 435.4 838.2 436.0 826.2 436.6 830.6 437.2 820.6 437.8 835.9 438.4 821.0 439.0 830.1 439.6 828.2 440.2 834.0 440.8 818.4 441.4 830.5 442.0 837.1 442.6 822.0 443.2 815.6 443.8 816.2 444.4 826.0 445.0 831.1 445.6 811.6 446.2 817.0 446.8 828.4 447.4 835.7 448.0 827.2 448.6 829.3 449.2 818.8 449.8 817.9 450.4 824.2 451.0 819.7 451.6 825.9 452.2 817.0 452.8 832.6 453.4 830.3 454.0 819.7 454.6 820.1 455.2 829.4 455.8 822.0 456.4 827.2 457.0 812.3 457.6 828.1 458.2 829.8 458.8 829.7 459.4 817.5 460.0 834.7 460.6 835.3 461.2 826.7 461.8 832.4 462.4 823.1 463.0 811.5 463.6 831.6 464.2 813.7 464.8 816.4 465.4 820.7 466.0 819.6 466.6 827.0 467.2 835.0 467.8 825.7 468.4 833.4 469.0 834.7 469.6 817.1 470.2 824.6 470.8 831.8 471.4 822.8 472.0 823.2 472.6 838.0 473.2 825.2 473.8 817.0 474.4 832.3 475.0 830.1 475.6 838.9 476.2 832.0 476.8 815.6 477.4 822.0 478.0 822.5 478.6 831.5 479.2 814.6 479.8 824.7 480.4 834.3 481.0 813.4 481.6 819.5 482.2 832.1 482.8 835.0 483.4 817.5 484.0 835.7 484.6 825.1 485.2 819.2 485.8 822.6 486.4 820.0 487.0 831.6 487.6 827.4 488.2 838.0 488.8 824.6 489.4 835.9 490.0 824.2 490.6 822.4 491.2 821.9 491.8 812.1 492.4 827.3 493.0 818.7 493.6 839.2 494.2 816.9 494.8 831.7 495.4 828.1 496.0 828.0 496.6 813.6 497.2 828.7 497.8 821.8 498.4 818.3 499.0 830.9 499.6 835.4 500.2 815.3 500.8 821.6 501.4 829.1 502.0 820.8 502.6 834.1 503.2 830.5 503.8 813.8 504.4 813.0 505.0 812.9 505.6 820.7 506.2 830.7 506.8 815.9 507.4 822.3 508.0 815.3 508.6 823.6 509.2 821.5 509.8 819.8 510.4 814.6 511.0 833.8 511.6 828.2 512.2 830.3 512.8 814.3 513.4 826.6 514.0 822.8 514.6 831.4 515.2 829.8 515.8 824.7 516.4 815.2 517.0 830.1 517.6 831.1 518.2 829.0 518.8 835.6 519.4 822.9 520.0 822.7 520.6 816.3 521.2 828.0 521.8 832.9 522.4 829.5 523.0 833.5 523.6 828.3 524.2 829.0 524.8 827.9 525.4 815.6 526.0 824.1 526.6 830.5 527.2 819.0 527.8 834.7 528.4 832.3 529.0 815.5 529.6 822.3 530.2 810.6 530.8 835.9 531.4 815.6 532.0 828.8 532.6 830.8 533.2 813.7 533.8 820.3 534.4 816.8 535.0 827.8 535.6 825.2 536.2 817.9 536.8 834.2 537.4 826.1 538.0 816.9 538.6 837.2 539.2 829.6 539.8 825.2 540.4 817.7 541.0 829.0 541.6 819.1 542.2 827.1 542.8 832.3 543.4 829.0 544.0 830.7 544.6 831.4 545.2 821.5 545.8 832.9 546.4 812.3 547.0 825.6 547.6 826.7 548.2 823.1 548.8 815.9 549.4 833.2 550.0 828.3 550.6 816.1 551.2 828.7 551.8 814.0 552.4 818.0 553.0 834.0 553.6 829.6 554.2 832.7 554.8 825.5 555.4 830.1 556.0 827.9 556.6 818.9 557.2 827.0 557.8 818.6 558.4 827.6 559.0 819.5 559.6 822.6 560.2 831.2 560.8 828.0 561.4 826.8 562.0 816.0 562.6 830.6 563.2 826.6 563.8 837.5 564.4 831.6 565.0 833.7 565.6 825.0 566.2 833.2 566.8 814.1 567.4 813.7 568.0 828.8 568.6 830.4 569.2 835.8 569.8 821.3 570.4 824.6 571.0 837.2 571.6 827.5 572.2 825.9 572.8 817.5 573.4 827.4 574.0 830.7 574.6 828.3 575.2 822.0 575.8 828.6 576.4 819.9 577.0 824.3 577.6 836.0 578.2 827.7 578.8 823.2 579.4 826.6 580.0 821.0 580.6 822.3 581.2 823.7 581.8 828.0 582.4 823.1 583.0 817.2 583.6 827.1 584.2 829.1 584.8 822.5 585.4 818.0 586.0 828.8 586.6 821.2 587.2 832.7 587.8 821.4 588.4 827.4 589.0 825.6 589.6 818.5 590.2 828.0 590.8 833.1 591.4 816.7 592.0 820.8 592.6 821.6 593.2 821.6 593.8 825.3 594.4 821.5 595.0 835.8 595.6 823.1 596.2 811.7 596.8 818.2 597.4 814.3 598.0 819.4 598.6 828.4 599.2 818.6 599.8 822.1 600.4 832.3 601.0 815.8 601.6 811.7 602.2 836.5 602.8 822.8 603.4 812.5 604.0 824.9 604.6 832.4 605.2 818.2 605.8 822.5 606.4 835.0 607.0 810.3 607.6 818.0 608.2 830.8 608.8 825.2 609.4 818.5 610.0 819.3 610.6 826.6 611.2 821.4 611.8 826.4 612.4 836.8 613.0 833.7 613.6 822.5 614.2 815.2 614.8 824.5 615.4 811.4 616.0 818.9 616.6 827.6 617.2 831.9 617.8 824.0 618.4 816.9 619.0 821.8 619.6 818.1 620.2 815.8 620.8 814.8 621.4 834.6 622.0 819.4 622.6 829.2 623.2 823.4 623.8 830.0 624.4 825.1 625.0 822.1 625.6 815.3 626.2 817.0 626.8 820.1 627.4 814.9 628.0 822.1 628.6 825.6 629.2 825.5 629.8 812.0 630.4 820.9 631.0 836.5 631.6 829.4 632.2 822.5 632.8 819.2 633.4 819.0 634.0 809.0 634.6 814.4 635.2 833.7 635.8 834.7 636.4 817.7 637.0 825.3 637.6 828.2 638.2 822.7 638.8 827.8 639.4 825.8 640.0 820.2 640.6 820.6 641.2 824.7 641.8 822.1 642.4 811.0 643.0 822.3 643.6 829.0 644.2 822.1 644.8 827.0 645.4 819.1 646.0 826.7 646.6 827.6 647.2 809.5 647.8 820.2 648.4 822.6 649.0 815.5 649.6 810.6 650.2 816.4 650.8 819.1 651.4 815.6 652.0 824.6 652.6 825.1 653.2 818.3 653.8 815.0 654.4 833.0 655.0 807.6 655.6 835.6 656.2 822.9 656.8 834.1 657.4 823.4 658.0 821.1 658.6 808.7 659.2 829.5 659.8 815.7 660.4 818.9 661.0 812.5 661.6 814.7 662.2 825.7 662.8 822.8 663.4 830.2 664.0 815.8 664.6 820.3 665.2 818.8 665.8 818.8 666.4 822.1 667.0 834.4 667.6 812.7 668.2 813.1 668.8 823.8 669.4 818.0 670.0 808.8 670.6 829.8 671.2 830.7 671.8 827.1 672.4 835.3 673.0 826.8 673.6 814.8 674.2 825.7 674.8 821.8 675.4 815.9 676.0 816.9 676.6 829.8 677.2 826.8 677.8 818.8 678.4 826.5 679.0 826.4 679.6 819.5 680.2 819.6 680.8 826.9 681.4 818.8 682.0 819.6 682.6 807.3 683.2 819.2 683.8 825.8 684.4 818.1 685.0 828.9 685.6 822.7 686.2 826.0 686.8 809.5 687.4 823.0 688.0 833.5 688.6 822.0 689.2 815.1 689.8 821.9 690.4 826.5 691.0 821.0 691.6 813.4 692.2 822.3 692.8 824.8 693.4 827.7 694.0 832.6 694.6 826.4 695.2 825.3 695.8 802.9 696.4 811.1 697.0 816.2 697.6 818.8 698.2 818.1 698.8 810.2 699.4 831.8 700.0 817.8 700.6 811.2 701.2 822.7 701.8 825.6 702.4 831.9 703.0 825.2 703.6 805.5 704.2 827.1 704.8 813.6 705.4 819.6 706.0 815.1 706.6 824.8 707.2 831.5 707.8 812.5 708.4 826.4 709.0 817.7 709.6 823.4 710.2 819.8 710.8 811.2 711.4 829.9 712.0 823.4 712.6 813.7 713.2 820.9 713.8 831.2 714.4 824.9 715.0 816.9 715.6 810.7 716.2 830.6 716.8 825.6 717.4 823.6 718.0 816.1 718.6 834.8 719.2 810.2 719.8 829.6 720.4 825.8 721.0 825.8 721.6 821.3 722.2 826.1 722.8 820.1 723.4 815.6 724.0 811.7 724.6 829.4 725.2 812.5 725.8 815.1 726.4 818.4 727.0 827.1 727.6 806.6 728.2 821.6 728.8 814.1 729.4 829.5 730.0 810.0 730.6 826.2 731.2 822.9 731.8 812.7 732.4 816.7 733.0 822.9 733.6 818.7 734.2 828.0 734.8 817.1 735.4 830.6 736.0 829.7 736.6 815.5 737.2 801.7 737.8 827.8 738.4 818.7 739.0 815.5 739.6 826.4 740.2 816.0 740.8 811.0 741.4 823.8 742.0 823.4 742.6 826.9 743.2 820.4 743.8 817.0 744.4 808.4 745.0 832.2 745.6 833.3 746.2 811.2 746.8 829.6 747.4 830.8 748.0 820.6 748.6 826.0 749.2 817.2 749.8 830.4 750.4 819.4 751.0 830.3 751.6 823.4 752.2 824.2 752.8 830.9 753.4 825.6 754.0 822.2 754.6 815.7 755.2 830.7 755.8 820.5 756.4 825.9 757.0 810.5 757.6 815.7 758.2 818.1 758.8 819.5 759.4 819.4 760.0 815.2 760.6 812.7 761.2 820.3 761.8 809.1 762.4 809.9 763.0 819.1 763.6 829.3 764.2 815.8 764.8 827.5 765.4 824.8 766.0 817.5 766.6 817.6 767.2 820.6 767.8 825.8 768.4 815.8 769.0 823.9 769.6 813.5 770.2 815.9 770.8 825.3 771.4 821.1 772.0 808.4 772.6 814.3 773.2 811.3 773.8 830.7 774.4 827.9 775.0 833.0 775.6 815.1 776.2 820.1 776.8 823.5 777.4 807.4 778.0 815.4 778.6 824.7 779.2 821.7 779.8 818.0 780.4 814.4 781.0 804.4 781.6 817.0 782.2 810.3 782.8 815.3 783.4 829.7 784.0 829.0 784.6 813.5 785.2 823.2 785.8 806.2 786.4 836.2 787.0 814.8 787.6 818.3 788.2 825.4 788.8 810.1 789.4 810.5 790.0 819.5 790.6 807.4 791.2 828.1 791.8 830.6 792.4 819.8 793.0 820.5 793.6 808.6 794.2 811.2 794.8 819.8 795.4 806.3 796.0 817.4 796.6 825.1 797.2 825.4 797.8 819.3 798.4 828.8 799.0 831.8 799.6 818.2 800.2 812.6 800.8 812.4 801.4 823.7 802.0 820.9 802.6 829.3 803.2 821.4 803.8 828.8 804.4 824.5 805.0 816.2 805.6 825.3 806.2 828.2 806.8 803.4 807.4 829.3 808.0 807.7 808.6 817.7 809.2 816.5 809.8 827.4 810.4 812.4 811.0 824.1 811.6 822.2 812.2 820.5 812.8 817.4 813.4 821.2 814.0 829.0 814.6 830.2 815.2 814.7 815.8 807.4 816.4 826.0 817.0 826.0 817.6 812.1 818.2 825.6 818.8 818.3 819.4 811.9 820.0 818.4 820.6 828.5 821.2 817.3 821.8 814.4 822.4 810.4 823.0 817.4 823.6 820.0 824.2 813.6 824.8 814.4 825.4 827.7 826.0 811.8 826.6 822.5 827.2 824.7 827.8 830.2 828.4 817.5 829.0 824.6 829.6 832.7 830.2 811.8 830.8 823.4 831.4 826.2 832.0 815.8 832.6 807.0 833.2 815.5 833.8 810.2 834.4 815.7 835.0 809.7 835.6 817.4 836.2 811.4 836.8 834.9 837.4 822.4 838.0 815.2 838.6 807.2 839.2 812.1 839.8 817.6 840.4 826.1 841.0 817.8 841.6 806.4 842.2 828.3 842.8 831.2 843.4 828.7 844.0 814.1 844.6 816.5 845.2 820.8 845.8 803.0 846.4 817.0 847.0 818.4 847.6 828.9 848.2 810.6 848.8 827.0 849.4 804.1 850.0 825.6 850.6 813.2 851.2 813.3 851.8 817.9 852.4 826.1 853.0 812.1 853.6 820.7 854.2 828.3 854.8 815.8 855.4 817.0 856.0 822.6 856.6 826.7 857.2 811.2 857.8 820.5 858.4 816.4 859.0 810.7 859.6 811.0 860.2 829.2 860.8 821.0 861.4 818.5 862.0 828.1 862.6 817.4 863.2 825.5 863.8 810.0 864.4 824.7 865.0 826.1 865.6 816.5 866.2 815.9 866.8 821.7 867.4 809.5 868.0 822.1 868.6 805.3 869.2 813.7 869.8 836.3 870.4 831.7 871.0 810.1 871.6 824.6 872.2 816.7 872.8 808.8 873.4 810.0 874.0 816.2 874.6 816.5 875.2 832.5 875.8 822.9 876.4 806.2 877.0 826.6 877.6 821.0 878.2 824.0 878.8 808.8 879.4 825.4 880.0 814.2 880.6 810.0 881.2 803.6 881.8 829.7 882.4 811.8 883.0 803.0 883.6 811.9 884.2 813.6 884.8 818.5 885.4 808.0 886.0 818.3 886.6 811.9 887.2 818.2 887.8 831.1 888.4 811.4 889.0 823.7 889.6 801.4 890.2 811.8 890.8 817.0 891.4 829.2 892.0 805.7 892.6 828.5 893.2 815.8 893.8 819.1 894.4 821.6 895.0 810.1 895.6 828.8 896.2 825.4 896.8 814.4 897.4 826.2 898.0 819.1 898.6 819.0 899.2 817.2 899.8 820.2 900.4 824.0 901.0 818.3 901.6 821.6 902.2 813.8 902.8 803.6 903.4 805.5 904.0 816.7 904.6 804.9 905.2 816.0 905.8 807.3 906.4 811.2 907.0 814.2 907.6 823.0 908.2 814.2 908.8 805.1 909.4 819.7 910.0 825.2 910.6 823.2 911.2 807.7 911.8 823.2 912.4 807.4 913.0 823.4 913.6 826.6 914.2 821.2 914.8 809.8 915.4 817.9 916.0 809.1 916.6 819.1 917.2 802.0 917.8 811.3 918.4 818.5 919.0 825.9 919.6 809.8 920.2 805.4 920.8 821.9 921.4 805.5 922.0 818.1 922.6 796.0 923.2 813.7 923.8 819.6 924.4 821.2 925.0 820.0 925.6 816.1 926.2 803.9 926.8 803.8 927.4 823.8 928.0 808.4 928.6 820.9 929.2 818.2 929.8 823.2 930.4 806.3 931.0 803.7 931.6 813.5 932.2 811.8 932.8 818.9 933.4 824.4 934.0 801.0 934.6 808.2 935.2 816.2 935.8 808.4 936.4 799.1 937.0 812.3 937.6 812.2 938.2 811.2 938.8 819.4 939.4 823.8 940.0 803.1 940.6 802.2 941.2 815.0 941.8 807.0 942.4 798.8 943.0 824.4 943.6 810.3 944.2 815.4 944.8 794.2 945.4 817.0 946.0 791.5 946.6 798.3 947.2 809.8 947.8 806.5 948.4 819.9 949.0 809.6 949.6 805.7 950.2 799.6 950.8 813.2 951.4 814.6 952.0 791.5 952.6 807.6 953.2 827.1 953.8 813.9 954.4 800.7 955.0 795.6 955.6 805.9 956.2 792.9 956.8 821.3 957.4 820.8 958.0 813.6 958.6 816.5 959.2 799.0 959.8 797.7 960.4 811.3 961.0 810.0 961.6 814.0 962.2 791.9 962.8 823.2 963.4 805.4 964.0 815.6 964.6 811.8 965.2 793.0 965.8 807.4 966.4 811.2 967.0 819.3 967.6 812.2 968.2 801.2 968.8 808.5 969.4 803.3 970.0 794.2 970.6 798.7 971.2 808.8 971.8 807.8 972.4 809.1 973.0 800.7 973.6 790.3 974.2 823.8 974.8 787.7 975.4 814.4 976.0 819.4 976.6 812.4 977.2 804.1 977.8 793.0 978.4 815.4 979.0 822.3 979.6 801.9 980.2 815.4 980.8 806.3 981.4 816.6 982.0 811.7 982.6 800.2 983.2 809.7 983.8 791.1 984.4 795.2 985.0 798.1 985.6 806.8 986.2 807.0 986.8 810.2 987.4 806.9 988.0 812.0 988.6 813.6 989.2 804.1 989.8 799.0 990.4 809.7 991.0 810.2 991.6 794.2 992.2 797.1 992.8 815.4 993.4 807.9 994.0 803.6 994.6 785.6 995.2 798.4 995.8 809.8 996.4 815.3 997.0 794.1 997.6 808.4 998.2 814.6 998.8 817.8 999.4 811.9 1000.0 804.4 1000.6 807.6 1001.2 784.1 1001.8 795.5 1002.4 815.7 1003.0 783.0 1003.6 786.1 1004.2 807.6 1004.8 813.5 1005.4 793.5 1006.0 803.0 1006.6 817.7 1007.2 813.2 1007.8 776.2 1008.4 802.0 1009.0 794.6 1009.6 810.6 1010.2 803.2 1010.8 811.0 1011.4 799.5 1012.0 786.0 1012.6 790.8 1013.2 781.9 1013.8 807.0 1014.4 812.1 1015.0 796.2 1015.6 806.4 1016.2 785.2 1016.8 795.5 1017.4 788.6 1018.0 793.8 1018.6 780.8 1019.2 775.5 1019.8 784.4 1020.4 792.8 1021.0 790.2 1021.6 805.7 1022.2 796.7 1022.8 783.8 1023.4 784.0 1024.0 794.2 1024.6 801.2 1025.2 783.2 1025.8 790.5 1026.4 803.3 1027.0 805.6 1027.6 782.7 1028.2 793.7 1028.8 797.0 1029.4 794.8 1030.0 775.3 1030.6 793.3 1031.2 782.9 1031.8 783.3 1032.4 810.9 1033.0 795.9 1033.6 810.4 1034.2 803.6 1034.8 802.7 1035.4 786.3 1036.0 804.4 1036.6 798.8 1037.2 798.0 1037.8 774.8 1038.4 801.6 1039.0 782.9 1039.6 796.2 1040.2 778.7 1040.8 782.9 1041.4 790.1 1042.0 799.2 1042.6 793.6 1043.2 772.0 1043.8 787.1 1044.4 790.3 1045.0 790.9 1045.6 786.8 1046.2 770.5 1046.8 794.8 1047.4 778.7 1048.0 787.1 1048.6 786.9 1049.2 785.6 1049.8 759.2 1050.4 771.7 1051.0 793.6 1051.6 780.0 1052.2 786.1 1052.8 787.3 1053.4 792.7 1054.0 786.5 1054.6 795.9 1055.2 768.3 1055.8 780.2 1056.4 789.0 1057.0 760.0 1057.6 767.1 1058.2 782.5 1058.8 760.3 1059.4 780.5 1060.0 748.4 1060.6 748.8 1061.2 775.0 1061.8 759.7 1062.4 768.5 1063.0 754.0 1063.6 786.9 1064.2 764.7 1064.8 743.6 1065.4 776.3 1066.0 774.3 1066.6 751.3 1067.2 745.4 1067.8 746.9 1068.4 779.3 1069.0 746.8 1069.6 754.8 1070.2 770.5 1070.8 752.2 1071.4 769.1 1072.0 757.0 1072.6 758.1 1073.2 746.1 1073.8 750.3 1074.4 773.9 1075.0 777.4 1075.6 764.0 1076.2 788.1 1076.8 733.4 1077.4 771.2 1078.0 741.7 1078.6 739.3 1079.2 729.9 1079.8 766.3 1080.4 746.8 1081.0 740.2 1081.6 750.0 1082.2 736.4 1082.8 768.2 1083.4 730.5 1084.0 732.0 1084.6 725.8 1085.2 761.5 1085.8 755.6 1086.4 755.4 1087.0 739.1 1087.6 717.3 1088.2 743.0 1088.8 720.3 1089.4 722.5 1090.0 715.8 1090.6 734.9 1091.2 723.1 1091.8 721.7 1092.4 744.4 1093.0 741.7 1093.6 724.4 1094.2 733.7 1094.8 725.3 1095.4 729.9 1096.0 713.5 1096.6 699.4 1097.2 731.4 1097.8 715.1 1098.4 728.0 1099.0 715.9 1099.6 698.2 1100.2 730.2 1100.8 697.5 1101.4 739.6 1102.0 691.4 1102.6 679.6 1103.2 692.8 1103.8 680.0 1104.4 726.8 1105.0 687.9 1105.6 712.5 1106.2 723.2 1106.8 710.6 1107.4 717.9 1108.0 717.2 1108.6 685.4 1109.2 684.0 1109.8 732.6 1110.4 691.5 1111.0 693.0 1111.6 714.8 1112.2 686.6 1112.8 733.1 1113.4 683.0 1114.0 703.5 1114.6 710.3 1115.2 712.9 1115.8 724.3 1116.4 700.8 1117.0 690.5 1117.6 722.3 1118.2 680.0 1118.8 682.0 1119.4 718.2 1120.0 677.9 1120.6 688.6 1121.2 680.2 1121.8 713.4 1122.4 707.1 1123.0 682.3 1123.6 661.5 1124.2 664.3 1124.8 649.4 1125.4 642.7 1126.0 624.2 1126.6 614.9 1127.2 613.5 1127.8 620.5 1128.4 631.3 1129.0 649.3 1129.6 653.3 1130.2 665.8 1130.8 645.1 1131.4 685.9 1132.0 690.3 1132.6 671.1 1133.2 641.4 1133.8 670.1 1134.4 660.3 1135.0 657.2 1135.6 676.3 1136.2 669.5 1136.8 673.2 1137.4 669.1 1138.0 671.8 1138.6 654.9 1139.2 668.2 1139.8 650.7 1140.4 685.9 1141.0 651.4 1141.6 681.7 1142.2 684.6 1142.8 656.5 1143.4 676.4 1144.0 651.5 1144.6 682.5 1145.2 689.1 1145.8 644.1 1146.4 677.1 1147.0 648.0 1147.6 644.4 1148.2 657.8 1148.8 666.0 1149.4 659.2 1150.0 644.7 1150.6 634.6 1151.2 658.0 1151.8 640.3 1152.4 666.4 1153.0 635.7 1153.6 632.6 1154.2 680.2 1154.8 652.8 1155.4 663.8 1156.0 646.5 1156.6 677.0 1157.2 661.4 1157.8 676.1 1158.4 648.1 1159.0 647.7 1159.6 633.4 1160.2 617.2 1160.8 602.3 1161.4 581.2 1162.0 568.7 1162.6 558.7 1163.2 557.5 1163.8 564.2 1164.4 575.6 1165.0 590.9 1165.6 606.7 1166.2 616.3 1166.8 630.9 1167.4 643.1 1168.0 669.3 1168.6 623.9 1169.2 627.5 1169.8 653.5 1170.4 635.8 1171.0 621.9 1171.6 630.8 1172.2 624.2 1172.8 634.0 1173.4 647.9 1174.0 664.5 1174.6 662.5 1175.2 636.5 1175.8 641.5 1176.4 640.8 1177.0 635.4 1177.6 623.9 1178.2 643.4 1178.8 643.6 1179.4 685.4 1180.0 654.4 1180.6 661.6 1181.2 644.0 1181.8 636.9 1182.4 675.3 1183.0 646.6 1183.6 624.6 1184.2 631.7 1184.8 671.7 1185.4 641.5 1186.0 668.3 1186.6 655.5 1187.2 653.6 1187.8 642.0 1188.4 639.6 1189.0 628.3 1189.6 622.3 1190.2 621.4 1190.8 625.3 1191.4 635.4 1192.0 643.3 1192.6 622.8 1193.2 642.9 1193.8 623.2 1194.4 633.6 1195.0 656.1 1195.6 643.0 1196.2 675.2 1196.8 659.9 1197.4 656.9 1198.0 640.1 1198.6 670.7 1199.2 676.9 1199.8 683.2 1200.4 642.1 1201.0 666.2 1201.6 645.2 1202.2 634.8 1202.8 668.5 1203.4 640.6 1204.0 633.9 1204.6 673.5 1205.2 688.5 1205.8 669.1 1206.4 698.4 1207.0 655.1 1207.6 681.2 1208.2 678.1 1208.8 708.0 1209.4 677.2 1210.0 684.5 1210.6 652.4 1211.2 665.1 1211.8 678.1 1212.4 697.7 1213.0 696.5 1213.6 683.4 1214.2 692.1 1214.8 693.6 1215.4 699.4 1216.0 695.5 1216.6 663.2 1217.2 660.1 1217.8 662.3 1218.4 682.2 1219.0 682.4 1219.6 670.6 1220.2 669.7 1220.8 668.1 1221.4 705.2 1222.0 700.9 1222.6 690.9 1223.2 695.1 1223.8 684.4 1224.4 689.6 1225.0 675.8 1225.6 687.7 1226.2 707.7 1226.8 698.9 1227.4 681.9 1228.0 706.7 1228.6 710.9 1229.2 695.4 1229.8 677.8 1230.4 687.1 1231.0 703.2 1231.6 685.3 1232.2 705.0 1232.8 722.1 1233.4 722.7 1234.0 697.9 1234.6 713.3 1235.2 725.2 1235.8 715.1 1236.4 682.4 1237.0 676.3 1237.6 715.9 1238.2 714.2 1238.8 719.2 1239.4 714.5 1240.0 710.1 1240.6 686.4 1241.2 720.3 1241.8 717.9 1242.4 728.7 1243.0 731.4 1243.6 729.3 1244.2 727.6 1244.8 693.6 1245.4 714.7 1246.0 715.9 1246.6 699.1 1247.2 701.8 1247.8 730.6 1248.4 728.3 1249.0 712.3 1249.6 708.1 1250.2 745.1 1250.8 737.0 1251.4 709.8 1252.0 716.9 1252.6 708.4 1253.2 732.7 1253.8 743.9 1254.4 731.2 1255.0 717.6 1255.6 727.3 1256.2 729.5 1256.8 743.2 1257.4 712.8 1258.0 730.9 1258.6 743.0 1259.2 735.1 1259.8 744.0 1260.4 732.3 1261.0 705.9 1261.6 713.7 1262.2 729.8 1262.8 728.8 1263.4 746.5 1264.0 724.5 1264.6 767.9 1265.2 728.8 1265.8 750.5 1266.4 743.7 1267.0 745.5 1267.6 751.2 1268.2 763.8 1268.8 755.3 1269.4 729.7 1270.0 743.0 1270.6 720.0 1271.2 735.7 1271.8 758.1 1272.4 735.3 1273.0 731.2 1273.6 722.8 1274.2 743.5 1274.8 733.0 1275.4 742.0 1276.0 740.2 1276.6 761.7 1277.2 733.8 1277.8 742.3 1278.4 772.4 1279.0 760.9 1279.6 761.9 1280.2 759.2 1280.8 750.7 1281.4 739.7 1282.0 766.7 1282.6 774.7 1283.2 747.0 1283.8 757.4 1284.4 774.2 1285.0 756.7 1285.6 757.0 1286.2 754.7 1286.8 745.4 1287.4 773.8 1288.0 771.2 1288.6 763.5 1289.2 767.2 1289.8 777.1 1290.4 762.0 1291.0 780.9 1291.6 748.8 1292.2 755.6 1292.8 756.2 1293.4 772.4 1294.0 776.8 1294.6 776.5 1295.2 789.9 1295.8 785.3 1296.4 765.9 1297.0 765.5 1297.6 772.0 1298.2 763.1 1298.8 770.6 1299.4 783.7 1300.0 754.2 1300.6 761.0 1301.2 765.8 1301.8 760.4 1302.4 761.6 1303.0 777.4 1303.6 759.3 1304.2 784.6 1304.8 785.5 1305.4 790.9 1306.0 777.0 1306.6 763.2 1307.2 771.4 1307.8 789.9 1308.4 753.2 1309.0 760.8 1309.6 774.9 1310.2 774.5 1310.8 768.1 1311.4 751.2 1312.0 765.3 1312.6 799.7 1313.2 763.6 1313.8 787.7 1314.4 766.2 1315.0 756.2 1315.6 765.9 1316.2 771.5 1316.8 792.2 1317.4 765.4 1318.0 789.1 1318.6 763.4 1319.2 759.0 1319.8 765.4 1320.4 780.6 1321.0 763.4 1321.6 771.0 1322.2 749.8 1322.8 757.3 1323.4 773.7 1324.0 773.1 1324.6 769.9 1325.2 791.3 1325.8 762.5 1326.4 779.0 1327.0 772.2 1327.6 779.7 1328.2 765.4 1328.8 759.1 1329.4 764.9 1330.0 762.2 1330.6 777.8 1331.2 793.8 1331.8 762.1 1332.4 786.1 1333.0 785.6 1333.6 769.5 1334.2 764.1 1334.8 773.7 1335.4 798.2 1336.0 790.5 1336.6 796.4 1337.2 781.0 1337.8 781.3 1338.4 784.4 1339.0 769.5 1339.6 781.5 1340.2 784.0 1340.8 801.1 1341.4 796.0 1342.0 770.8 1342.6 776.9 1343.2 769.7 1343.8 790.7 1344.4 797.7 1345.0 799.2 1345.6 811.7 1346.2 790.5 1346.8 799.2 1347.4 797.9 1348.0 797.2 1348.6 788.1 1349.2 781.2 1349.8 784.0 1350.4 815.6 1351.0 782.3 1351.6 770.5 1352.2 799.0 1352.8 799.5 1353.4 797.6 1354.0 796.8 1354.6 793.0 1355.2 794.4 1355.8 796.6 1356.4 776.5 1357.0 803.9 1357.6 793.8 1358.2 795.3 1358.8 799.0 1359.4 799.9 1360.0 805.4 1360.6 799.1 1361.2 783.1 1361.8 789.4 1362.4 800.1 1363.0 786.5 1363.6 801.9 1364.2 809.6 1364.8 786.3 1365.4 798.7 1366.0 790.3 1366.6 800.8 1367.2 797.7 1367.8 797.9 1368.4 813.6 1369.0 809.5 1369.6 792.9 1370.2 814.5 1370.8 804.2 1371.4 795.7 1372.0 812.7 1372.6 812.4 1373.2 796.0 1373.8 816.0 1374.4 805.1 1375.0 791.2 1375.6 789.9 1376.2 791.4 1376.8 804.3 1377.4 793.2 1378.0 799.9 1378.6 802.3 1379.2 790.2 1379.8 817.4 1380.4 820.2 1381.0 823.7 1381.6 800.6 1382.2 792.0 1382.8 792.6 1383.4 813.0 1384.0 816.2 1384.6 792.8 1385.2 788.3 1385.8 813.9 1386.4 795.1 1387.0 802.2 1387.6 812.6 1388.2 807.0 1388.8 807.3 1389.4 811.8 1390.0 806.0 1390.6 793.6 1391.2 813.9 1391.8 803.1 1392.4 796.3 1393.0 815.6 1393.6 806.2 1394.2 798.5 1394.8 799.9 1395.4 810.6 1396.0 812.1 1396.6 809.2 1397.2 804.3 1397.8 805.2 1398.4 806.7 1399.0 814.4 1399.6 789.5 1400.2 810.4 1400.8 790.6 1401.4 792.3 1402.0 819.5 1402.6 794.7 1403.2 796.2 1403.8 814.9 1404.4 799.4 1405.0 805.6 1405.6 808.1 1406.2 808.4 1406.8 819.6 1407.4 797.9 1408.0 815.5 1408.6 794.8 1409.2 795.6 1409.8 808.8 1410.4 820.8 1411.0 822.8 1411.6 793.0 1412.2 807.3 1412.8 807.5 1413.4 810.2 1414.0 821.3 1414.6 816.9 1415.2 808.9 1415.8 812.1 1416.4 804.9 1417.0 810.2 1417.6 816.7 1418.2 802.7 1418.8 803.7 1419.4 812.7 1420.0 802.1 1420.6 809.0 1421.2 809.1 1421.8 807.6 1422.4 803.0 1423.0 805.7 1423.6 811.1 1424.2 805.9 1424.8 814.3 1425.4 812.0 1426.0 802.7 1426.6 814.0 1427.2 809.6 1427.8 811.7 1428.4 819.9 1429.0 817.7 1429.6 801.7 1430.2 800.0 1430.8 814.6 1431.4 823.5 1432.0 805.2 1432.6 813.0 1433.2 796.3 1433.8 814.2 1434.4 819.9 1435.0 799.5 1435.6 818.3 1436.2 798.7 1436.8 808.1 1437.4 808.9 1438.0 818.8 1438.6 810.5 1439.2 827.6 1439.8 824.4 1440.4 815.8 1441.0 819.3 1441.6 823.7 1442.2 813.6 1442.8 798.7 1443.4 807.5 1444.0 815.4 1444.6 806.7 1445.2 820.4 1445.8 804.1 1446.4 802.5 1447.0 799.7 1447.6 812.3 1448.2 816.9 1448.8 820.7 1449.4 806.3 1450.0 812.6 1450.6 797.6 1451.2 820.2 1451.8 811.2 1452.4 819.1 1453.0 814.8 1453.6 817.1 1454.2 826.4 1454.8 804.4 1455.4 815.9 1456.0 810.2 1456.6 806.5 1457.2 820.9 1457.8 813.2 1458.4 805.5 1459.0 807.3 1459.6 815.8 1460.2 809.0 1460.8 805.9 1461.4 811.5 1462.0 816.0 1462.6 807.7 1463.2 803.8 1463.8 803.7 1464.4 799.4 1465.0 824.0 1465.6 807.8 1466.2 820.6 1466.8 826.5 1467.4 804.2 1468.0 830.5 1468.6 816.5 1469.2 805.1 1469.8 817.5 1470.4 813.7 1471.0 814.0 1471.6 810.8 1472.2 822.9 1472.8 819.3 1473.4 819.9 1474.0 807.0 1474.6 820.5 1475.2 819.6 1475.8 805.0 1476.4 822.3 1477.0 810.4 1477.6 819.9 1478.2 811.2 1478.8 816.0 1479.4 821.5 1480.0 819.1 1480.6 805.9 1481.2 811.7 1481.8 803.8 1482.4 807.9 1483.0 809.8 1483.6 800.7 1484.2 826.0 1484.8 816.7 1485.4 804.8 1486.0 823.7 1486.6 813.8 1487.2 814.4 1487.8 811.5 1488.4 806.3 1489.0 807.9 1489.6 825.1 1490.2 801.0 1490.8 818.5 1491.4 813.5 1492.0 807.8 1492.6 828.7 1493.2 802.8 1493.8 823.8 1494.4 802.3 1495.0 797.4 1495.6 819.0 1496.2 818.4 1496.8 816.0 1497.4 811.4 1498.0 832.1 1498.6 825.4 1499.2 816.6 1499.8 826.4 1500.4 805.5 1501.0 826.0 1501.6 813.2 1502.2 805.5 1502.8 823.7 1503.4 806.9 1504.0 799.8 1504.6 807.1 1505.2 820.1 1505.8 819.2 1506.4 828.5 1507.0 811.9 1507.6 808.7 1508.2 823.0 1508.8 809.8 1509.4 818.9 1510.0 821.8 1510.6 807.2 1511.2 821.5 1511.8 807.2 1512.4 821.8 1513.0 808.4 1513.6 823.7 1514.2 810.2 1514.8 805.1 1515.4 815.7 1516.0 804.9 1516.6 808.6 1517.2 812.4 1517.8 809.1 1518.4 811.1 1519.0 809.6 1519.6 821.0 1520.2 804.3 1520.8 823.9 1521.4 805.6 1522.0 822.7 1522.6 812.1 1523.2 820.4 1523.8 810.9 1524.4 806.1 1525.0 823.5 1525.6 826.6 1526.2 813.3 1526.8 814.5 1527.4 825.0 1528.0 819.5 1528.6 827.7 1529.2 822.0 1529.8 813.1 1530.4 828.6 1531.0 822.8 1531.6 816.0 1532.2 821.6 1532.8 816.9 1533.4 820.6 1534.0 811.2 1534.6 802.6 1535.2 808.9 1535.8 823.2 1536.4 813.4 1537.0 813.4 1537.6 821.3 1538.2 814.7 1538.8 811.8 1539.4 809.4 1540.0 808.4 1540.6 827.6 1541.2 812.5 1541.8 825.1 1542.4 823.6 1543.0 808.3 1543.6 826.5 1544.2 812.7 1544.8 807.3 1545.4 827.0 1546.0 822.0 1546.6 815.4 1547.2 808.0 1547.8 802.2 1548.4 828.0 1549.0 817.2 1549.6 825.9 1550.2 821.5 1550.8 822.7 1551.4 813.4 1552.0 816.9 1552.6 821.1 1553.2 813.6 1553.8 817.7 1554.4 822.0 1555.0 810.7 1555.6 806.9 1556.2 807.4 1556.8 811.2 1557.4 821.0 1558.0 808.2 1558.6 828.3 1559.2 808.1 1559.8 812.8 1560.4 825.7 1561.0 812.6 1561.6 811.2 1562.2 811.1 1562.8 811.2 1563.4 831.1 1564.0 826.3 1564.6 822.6 1565.2 823.2 1565.8 814.6 1566.4 816.8 1567.0 812.3 1567.6 823.4 1568.2 826.7 1568.8 820.5 1569.4 817.6 1570.0 826.7 1570.6 820.5 1571.2 821.7 1571.8 833.3 1572.4 820.8 1573.0 803.5 1573.6 824.9 1574.2 829.0 1574.8 806.4 1575.4 808.7 1576.0 825.9 1576.6 814.0 1577.2 822.0 1577.8 819.1 1578.4 830.7 1579.0 816.3 1579.6 824.2 1580.2 825.9 1580.8 814.8 1581.4 819.0 1582.0 828.3 1582.6 812.0 1583.2 824.0 1583.8 820.9 1584.4 818.2 1585.0 805.0 1585.6 825.8 1586.2 805.9 1586.8 829.1 1587.4 813.2 1588.0 825.4 1588.6 807.4 1589.2 805.0 1589.8 829.4 1590.4 811.8 1591.0 810.8 1591.6 818.7 1592.2 820.3 1592.8 814.4 1593.4 831.0 1594.0 812.2 1594.6 811.5 1595.2 829.3 1595.8 819.0 1596.4 807.1 1597.0 807.1 1597.6 814.6 1598.2 816.8 1598.8 824.2 1599.4 817.8 1600.0 816.2 1600.6 816.8 1601.2 813.9 1601.8 816.5 1602.4 832.6 1603.0 822.4 1603.6 822.1 1604.2 804.0 1604.8 826.0 1605.4 813.0 1606.0 821.8 1606.6 826.9 1607.2 814.0 1607.8 810.6 1608.4 816.3 1609.0 828.0 1609.6 819.0 1610.2 816.5 1610.8 826.0 1611.4 818.1 1612.0 817.2 1612.6 820.3 1613.2 826.0 1613.8 824.3 1614.4 813.7 1615.0 809.9 1615.6 817.0 1616.2 810.2 1616.8 825.2 1617.4 824.0 1618.0 814.5 1618.6 818.3 1619.2 824.2 1619.8 806.3 1620.4 817.7 1621.0 833.2 1621.6 809.0 1622.2 816.1 1622.8 811.2 1623.4 827.6 1624.0 816.6 1624.6 825.7 1625.2 826.1 1625.8 814.0 1626.4 810.0 1627.0 810.4 1627.6 824.1 1628.2 827.9 1628.8 803.7 1629.4 825.9 1630.0 815.3 1630.6 812.9 1631.2 819.9 1631.8 821.3 1632.4 805.1 1633.0 828.4 1633.6 808.2 1634.2 825.5 1634.8 821.6 1635.4 820.5 1636.0 814.1 1636.6 811.1 1637.2 812.5 1637.8 809.9 1638.4 820.8 1639.0 807.7 1639.6 829.7 1640.2 820.7 1640.8 817.4 1641.4 829.5 1642.0 814.7 1642.6 815.6 1643.2 828.9 1643.8 826.1 1644.4 812.6 1645.0 830.7 1645.6 812.1 1646.2 807.6 1646.8 824.8 1647.4 819.9 1648.0 822.6 1648.6 818.9 1649.2 821.7 1649.8 829.9 1650.4 824.6 1651.0 818.6 1651.6 813.2 1652.2 811.5 1652.8 822.0 1653.4 810.8 1654.0 818.0 1654.6 811.8 1655.2 811.5 1655.8 831.7 1656.4 825.4 1657.0 829.2 1657.6 817.8 1658.2 820.9 1658.8 820.8 1659.4 828.2 1660.0 814.2 1660.6 835.8 1661.2 813.1 1661.8 819.2 1662.4 813.2 1663.0 813.1 1663.6 828.0 1664.2 816.6 1664.8 811.9 1665.4 817.5 1666.0 817.2 1666.6 824.9 1667.2 817.6 1667.8 811.6 1668.4 824.9 1669.0 814.1 1669.6 824.8 1670.2 821.3 1670.8 809.7 1671.4 821.7 1672.0 821.2 1672.6 826.3 1673.2 809.2 1673.8 804.8 1674.4 803.2 1675.0 826.2 1675.6 812.1 1676.2 810.5 1676.8 816.9 1677.4 827.5 1678.0 826.4 1678.6 812.4 1679.2 818.5 1679.8 826.9 1680.4 817.9 1681.0 818.3 1681.6 815.4 1682.2 813.1 1682.8 822.6 1683.4 834.3 1684.0 827.7 1684.6 830.0 1685.2 814.7 1685.8 810.3 1686.4 815.6 1687.0 821.3 1687.6 813.7 1688.2 824.9 1688.8 821.8 1689.4 828.9 1690.0 821.9 1690.6 823.1 1691.2 814.1 1691.8 828.6 1692.4 815.4 1693.0 818.7 1693.6 813.1 1694.2 829.2 1694.8 814.6 1695.4 808.2 1696.0 817.8 1696.6 821.9 1697.2 815.7 1697.8 830.3 1698.4 806.7 1699.0 819.1 1699.6 808.2 1700.2 815.8 1700.8 819.7 1701.4 831.6 1702.0 809.2 1702.6 807.2 1703.2 828.2 1703.8 809.6 1704.4 810.4 1705.0 822.6 1705.6 814.9 1706.2 812.7 1706.8 821.7 1707.4 826.6 1708.0 820.7 1708.6 820.9 1709.2 829.8 1709.8 808.9 1710.4 815.2 1711.0 807.3 1711.6 819.6 1712.2 831.4 1712.8 819.8 1713.4 820.1 1714.0 817.1 1714.6 821.9 1715.2 811.6 1715.8 803.8 1716.4 808.5 1717.0 815.9 1717.6 813.2 1718.2 830.3 1718.8 824.4 1719.4 825.8 1720.0 814.0 1720.6 817.9 1721.2 807.0 1721.8 830.1 1722.4 801.5 1723.0 807.7 1723.6 810.0 1724.2 817.0 1724.8 818.2 1725.4 833.0 1726.0 809.4 1726.6 817.4 1727.2 806.4 1727.8 817.4 1728.4 811.5 1729.0 823.3 1729.6 828.3 1730.2 817.1 1730.8 814.7 1731.4 827.8 1732.0 827.8 1732.6 811.1 1733.2 818.2 1733.8 829.4 1734.4 809.7 1735.0 802.7 1735.6 822.5 1736.2 809.2 1736.8 827.4 1737.4 822.6 1738.0 816.0 1738.6 819.8 1739.2 820.0 1739.8 834.8 1740.4 814.0 1741.0 818.9 1741.6 824.1 1742.2 806.4 1742.8 831.5 1743.4 814.9 1744.0 825.1 1744.6 828.7 1745.2 807.5 1745.8 813.9 1746.4 819.1 1747.0 821.9 1747.6 825.0 1748.2 819.2 1748.8 814.9 1749.4 814.5 1750.0 823.0 1750.6 811.2 1751.2 805.8 1751.8 808.0 1752.4 800.6 1753.0 812.0 1753.6 818.3 1754.2 817.5 1754.8 805.3 1755.4 810.5 1756.0 802.3 1756.6 815.6 1757.2 821.2 1757.8 830.8 1758.4 826.6 1759.0 812.5 1759.6 821.7 1760.2 815.9 1760.8 822.6 1761.4 820.9 1762.0 815.5 1762.6 827.3 1763.2 809.1 1763.8 828.5 1764.4 812.2 1765.0 814.4 1765.6 807.3 1766.2 817.3 1766.8 813.9 1767.4 827.8 1768.0 809.2 1768.6 827.2 1769.2 819.9 1769.8 810.1 1770.4 809.4 1771.0 810.2 1771.6 814.7 1772.2 826.6 1772.8 810.0 1773.4 826.6 1774.0 809.3 1774.6 817.9 1775.2 807.8 1775.8 814.7 1776.4 809.2 1777.0 815.1 1777.6 823.4 1778.2 827.0 1778.8 822.9 1779.4 815.3 1780.0 823.6 1780.6 819.0 1781.2 824.9 1781.8 805.9 1782.4 817.0 1783.0 816.2 1783.6 820.7 1784.2 815.7 1784.8 823.3 1785.4 806.1 1786.0 824.0 1786.6 825.7 1787.2 810.4 1787.8 819.5 1788.4 812.3 1789.0 826.9 1789.6 824.6 1790.2 812.6 1790.8 816.6 1791.4 825.1 1792.0 807.5 1792.6 806.3 1793.2 804.8 1793.8 831.6 1794.4 825.5 1795.0 825.3 1795.6 819.0 1796.2 823.8 1796.8 812.0 1797.4 824.3 1798.0 825.5 1798.6 810.5 1799.2 817.0 1799.8 823.3 1800.4 825.5 1801.0 813.4 1801.6 829.1 1802.2 826.8 1802.8 809.7 1803.4 821.2 1804.0 827.7 1804.6 830.2 1805.2 823.3 1805.8 805.3 1806.4 829.2 1807.0 815.7 1807.6 811.7 1808.2 810.8 1808.8 823.6 1809.4 812.2 1810.0 821.4 1810.6 812.4 1811.2 823.3 1811.8 824.9 1812.4 816.6 1813.0 809.6 1813.6 802.4 1814.2 815.6 1814.8 809.7 1815.4 811.2 1816.0 825.8 1816.6 810.1 1817.2 815.3 1817.8 823.3 1818.4 813.0 1819.0 812.0 1819.6 813.3 1820.2 811.9 1820.8 810.3 1821.4 819.5 1822.0 827.5 1822.6 826.3 1823.2 819.2 1823.8 812.5 1824.4 829.3 1825.0 797.9 1825.6 816.3 1826.2 817.0 1826.8 822.7 1827.4 825.9 1828.0 816.0 1828.6 819.6 1829.2 818.9 1829.8 823.5 1830.4 803.6 1831.0 821.7 1831.6 826.1 1832.2 815.1 1832.8 830.3 1833.4 824.6 1834.0 805.3 1834.6 831.9 1835.2 817.5 1835.8 810.4 1836.4 815.4 1837.0 833.8 1837.6 816.5 1838.2 832.3 1838.8 814.3 1839.4 814.5 1840.0 828.2 1840.6 811.4 1841.2 826.0 1841.8 807.0 1842.4 809.1 1843.0 820.0 1843.6 808.2 1844.2 799.8 1844.8 813.3 1845.4 812.7 1846.0 826.5 1846.6 823.5 1847.2 812.4 1847.8 824.3 1848.4 814.0 1849.0 820.6 1849.6 815.5 1850.2 817.5 1850.8 825.7 1851.4 815.6 1852.0 819.6 1852.6 825.9 1853.2 815.7 1853.8 821.1 1854.4 819.7 1855.0 826.8 1855.6 834.2 1856.2 821.3 1856.8 817.5 1857.4 826.3 1858.0 808.9 1858.6 826.4 1859.2 813.7 1859.8 816.9 1860.4 809.8 1861.0 822.5 1861.6 820.9 1862.2 808.9 1862.8 814.6 1863.4 816.8 1864.0 819.5 1864.6 801.0 1865.2 817.9 1865.8 820.6 1866.4 818.4 1867.0 812.4 1867.6 829.9 1868.2 812.2 1868.8 808.2 1869.4 814.2 1870.0 818.6 1870.6 818.7 1871.2 812.5 1871.8 822.5 1872.4 810.7 1873.0 828.9 1873.6 823.0 1874.2 818.1 1874.8 821.3 1875.4 812.6 1876.0 822.8 1876.6 820.8 1877.2 828.6 1877.8 826.2 1878.4 803.2 1879.0 827.1 1879.6 815.2 1880.2 817.3 1880.8 809.1 1881.4 816.6 1882.0 812.1 1882.6 809.5 1883.2 809.1 1883.8 810.2 1884.4 814.1 1885.0 822.9 1885.6 815.3 1886.2 811.0 1886.8 806.5 1887.4 813.8 1888.0 825.7 1888.6 820.5 1889.2 823.7 1889.8 823.5 1890.4 824.5 1891.0 807.5 1891.6 822.5 1892.2 827.1 1892.8 814.7 1893.4 822.5 1894.0 819.4 1894.6 809.3 1895.2 827.4 1895.8 807.5 1896.4 816.9 1897.0 823.9 1897.6 816.9 1898.2 826.4 1898.8 818.7 1899.4 823.7 1900.0 807.3 1900.6 825.2 1901.2 812.9 1901.8 805.2 1902.4 813.1 1903.0 821.0 1903.6 802.3 1904.2 825.4 1904.8 819.9 1905.4 814.8 1906.0 824.6 1906.6 804.1 1907.2 819.9 1907.8 813.6 1908.4 823.3 1909.0 802.7 1909.6 823.3 1910.2 817.9 1910.8 829.5 1911.4 813.2 1912.0 816.4 1912.6 810.8 1913.2 821.6 1913.8 822.7 1914.4 804.3 1915.0 821.2 1915.6 811.3 1916.2 826.3 1916.8 823.9 1917.4 825.7 1918.0 809.2 1918.6 818.7 1919.2 820.6 1919.8 809.1 1920.4 805.1 1921.0 807.6 1921.6 815.6 1922.2 809.4 1922.8 811.4 1923.4 819.8 1924.0 828.6 1924.6 818.7 1925.2 808.0 1925.8 805.6 1926.4 817.6 1927.0 815.0 1927.6 809.2 1928.2 821.1 1928.8 807.4 1929.4 828.1 1930.0 819.3 1930.6 823.4 1931.2 811.3 1931.8 809.8 1932.4 816.5 1933.0 810.7 1933.6 816.4 1934.2 818.4 1934.8 815.7 1935.4 819.1 1936.0 808.0 1936.6 812.4 1937.2 814.3 1937.8 804.4 1938.4 816.5 1939.0 817.1 1939.6 820.0 1940.2 816.0 1940.8 805.6 1941.4 809.7 1942.0 812.3 1942.6 817.5 1943.2 806.6 1943.8 815.7 1944.4 802.4 1945.0 804.1 1945.6 800.5 1946.2 807.2 1946.8 822.1 1947.4 819.6 1948.0 822.6 1948.6 810.1 1949.2 823.7 1949.8 812.5 1950.4 810.9 1951.0 807.3 1951.6 815.7 1952.2 802.9 1952.8 802.4 1953.4 812.0 1954.0 809.2 1954.6 818.0 1955.2 811.5 1955.8 818.5 1956.4 815.7 1957.0 813.4 1957.6 816.8 1958.2 818.0 1958.8 804.7 1959.4 813.5 1960.0 813.0 1960.6 804.5 1961.2 822.6 1961.8 821.0 1962.4 803.2 1963.0 806.6 1963.6 815.1 1964.2 814.3 1964.8 809.0 1965.4 816.2 1966.0 820.2 1966.6 814.7 1967.2 822.8 1967.8 823.1 1968.4 803.8 1969.0 806.5 1969.6 813.8 1970.2 821.4 1970.8 799.6 1971.4 809.0 1972.0 811.5 1972.6 822.6 1973.2 809.8 1973.8 826.0 1974.4 826.9 1975.0 792.1 1975.6 817.5 1976.2 828.2 1976.8 807.8 1977.4 830.8 1978.0 809.8 1978.6 804.3 1979.2 805.9 1979.8 811.7 1980.4 821.1 1981.0 819.6 1981.6 796.3 1982.2 802.3 1982.8 814.4 1983.4 819.9 1984.0 826.5 1984.6 818.5 1985.2 804.0 1985.8 811.9 1986.4 815.6 1987.0 811.0 1987.6 817.2 1988.2 817.4 1988.8 804.8 1989.4 820.3 1990.0 816.2 1990.6 804.0 1991.2 807.7 1991.8 803.9 1992.4 805.6 1993.0 804.4 1993.6 817.9 1994.2 813.8 1994.8 825.6 1995.4 812.4 1996.0 804.5 1996.6 827.1 1997.2 797.9 1997.8 803.1 1998.4 817.4 1999.0 820.9 1999.6 818.3 2000.2 804.1 2000.8 802.5 2001.4 795.8 2002.0 811.8 2002.6 821.4 2003.2 815.5 2003.8 816.5 2004.4 818.8 2005.0 824.8 2005.6 800.9 2006.2 805.9 2006.8 805.2 2007.4 810.6 2008.0 824.2 2008.6 812.2 2009.2 807.0 2009.8 813.6 2010.4 820.9 2011.0 815.3 2011.6 815.9 2012.2 824.6 2012.8 807.0 2013.4 818.8 2014.0 808.1 2014.6 803.5 2015.2 825.8 2015.8 814.3 2016.4 819.0 2017.0 815.5 2017.6 810.9 2018.2 816.5 2018.8 802.8 2019.4 809.5 2020.0 814.9 2020.6 812.4 2021.2 806.7 2021.8 804.5 2022.4 805.5 2023.0 798.6 2023.6 792.4 2024.2 796.2 2024.8 795.8 2025.4 822.3 2026.0 802.0 2026.6 806.4 2027.2 819.9 2027.8 804.8 2028.4 814.1 2029.0 826.4 2029.6 808.8 2030.2 814.2 2030.8 815.0 2031.4 805.0 2032.0 824.0 2032.6 812.8 2033.2 805.3 2033.8 818.5 2034.4 826.0 2035.0 821.5 2035.6 812.9 2036.2 810.1 2036.8 807.8 2037.4 818.1 2038.0 802.1 2038.6 810.2 2039.2 799.4 2039.8 814.4 2040.4 822.2 2041.0 822.0 2041.6 802.4 2042.2 816.2 2042.8 822.5 2043.4 799.4 2044.0 823.5 2044.6 810.0 2045.2 810.6 2045.8 801.1 2046.4 812.8 2047.0 808.2 2047.6 796.8 2048.2 800.9 2048.8 818.5 2049.4 808.0 2050.0 817.3 2050.6 816.2 2051.2 816.8 2051.8 803.7 2052.4 807.9 2053.0 801.5 2053.6 816.8 2054.2 807.7 2054.8 803.5 2055.4 823.3 2056.0 807.1 2056.6 813.7 2057.2 813.2 2057.8 809.1 2058.4 814.8 2059.0 802.0 2059.6 809.3 2060.2 812.8 2060.8 817.3 2061.4 825.5 2062.0 803.6 2062.6 805.4 2063.2 800.4 2063.8 820.4 2064.4 821.1 2065.0 819.0 2065.6 805.3 2066.2 821.3 2066.8 800.8 2067.4 803.0 2068.0 801.9 2068.6 824.4 2069.2 811.2 2069.8 797.7 2070.4 801.0 2071.0 822.7 2071.6 814.5 2072.2 808.2 2072.8 799.0 2073.4 799.4 2074.0 797.6 2074.6 818.7 2075.2 804.6 2075.8 821.8 2076.4 802.0 2077.0 814.6 2077.6 801.5 2078.2 800.0 2078.8 800.7 2079.4 796.3 2080.0 814.1 2080.6 808.8 2081.2 806.8 2081.8 803.7 2082.4 813.6 2083.0 829.1 2083.6 810.7 2084.2 826.9 2084.8 811.5 2085.4 792.8 2086.0 806.2 2086.6 824.9 2087.2 799.9 2087.8 802.4 2088.4 806.6 2089.0 802.5 2089.6 814.2 2090.2 810.6 2090.8 794.9 2091.4 821.0 2092.0 808.5 2092.6 817.1 2093.2 819.1 2093.8 806.6 2094.4 811.4 2095.0 809.3 2095.6 799.1 2096.2 814.0 2096.8 819.9 2097.4 816.3 2098.0 808.7 2098.6 816.7 2099.2 812.2 2099.8 813.2 2100.4 809.0 2101.0 801.2 2101.6 810.8 2102.2 812.8 2102.8 804.2 2103.4 822.8 2104.0 820.8 2104.6 825.0 2105.2 809.8 2105.8 789.8 2106.4 817.9 2107.0 802.3 2107.6 796.5 2108.2 804.3 2108.8 823.5 2109.4 810.5 2110.0 807.5 2110.6 800.9 2111.2 817.1 2111.8 809.6 2112.4 799.8 2113.0 809.5 2113.6 818.2 2114.2 814.1 2114.8 812.8 2115.4 802.0 2116.0 812.1 2116.6 802.6 2117.2 818.9 2117.8 813.8 2118.4 798.9 2119.0 806.1 2119.6 807.5 2120.2 810.9 2120.8 822.2 2121.4 807.1 2122.0 818.7 2122.6 816.4 2123.2 806.0 2123.8 800.9 2124.4 819.8 2125.0 816.1 2125.6 814.8 2126.2 827.1 2126.8 797.9 2127.4 824.6 2128.0 811.5 2128.6 797.4 2129.2 803.3 2129.8 803.8 2130.4 815.9 2131.0 822.1 2131.6 809.5 2132.2 811.0 2132.8 828.5 2133.4 804.6 2134.0 801.3 2134.6 807.2 2135.2 822.2 2135.8 818.9 2136.4 806.6 2137.0 820.0 2137.6 800.5 2138.2 821.6 2138.8 817.7 2139.4 799.4 2140.0 811.3 2140.6 808.1 2141.2 800.8 2141.8 804.0 2142.4 824.0 2143.0 798.8 2143.6 807.1 2144.2 803.7 2144.8 794.6 2145.4 800.6 2146.0 804.7 2146.6 813.6 2147.2 820.5 2147.8 797.7 2148.4 809.8 2149.0 813.8 2149.6 805.2 2150.2 812.9 2150.8 817.4 2151.4 804.6 2152.0 801.1 2152.6 802.2 2153.2 798.9 2153.8 811.2 2154.4 804.6 2155.0 807.3 2155.6 821.9 2156.2 803.7 2156.8 809.6 2157.4 802.7 2158.0 821.5 2158.6 804.2 2159.2 809.9 2159.8 810.8 2160.4 823.9 2161.0 799.9 2161.6 812.4 2162.2 803.0 2162.8 802.5 2163.4 801.2 2164.0 810.6 2164.6 821.9 2165.2 802.4 2165.8 819.0 2166.4 801.5 2167.0 809.5 2167.6 814.9 2168.2 821.7 2168.8 820.4 2169.4 811.0 2170.0 815.6 2170.6 805.3 2171.2 800.9 2171.8 819.2 2172.4 808.0 2173.0 811.9 2173.6 806.9 2174.2 798.0 2174.8 797.6 2175.4 805.0 2176.0 796.9 2176.6 803.6 2177.2 814.3 2177.8 814.3 2178.4 815.7 2179.0 818.1 2179.6 808.4 2180.2 821.7 2180.8 797.7 2181.4 818.3 2182.0 803.0 2182.6 807.2 2183.2 807.4 2183.8 811.2 2184.4 806.2 2185.0 811.2 2185.6 804.2 2186.2 796.8 2186.8 815.1 2187.4 805.0 2188.0 807.7 2188.6 800.4 2189.2 799.6 2189.8 803.8 2190.4 792.7 2191.0 798.7 2191.6 814.3 2192.2 817.2 2192.8 811.1 2193.4 815.7 2194.0 805.0 2194.6 818.2 2195.2 789.3 2195.8 796.4 2196.4 803.9 2197.0 807.6 2197.6 806.3 2198.2 815.1 2198.8 816.2 2199.4 793.3 2200.0 810.1 2200.6 812.2 2201.2 803.6 2201.8 784.7 2202.4 798.0 2203.0 789.9 2203.6 787.6 2204.2 782.7 2204.8 778.0 2205.4 775.1 2206.0 774.0 2206.6 775.0 2207.2 778.8 2207.8 783.0 2208.4 788.8 2209.0 795.5 2209.6 794.9 2210.2 791.9 2210.8 802.0 2211.4 816.4 2212.0 798.2 2212.6 810.1 2213.2 815.7 2213.8 821.8 2214.4 808.5 2215.0 823.3 2215.6 811.7 2216.2 801.9 2216.8 797.6 2217.4 805.7 2218.0 813.3 2218.6 793.3 2219.2 819.3 2219.8 804.7 2220.4 817.3 2221.0 799.2 2221.6 788.1 2222.2 802.3 2222.8 819.8 2223.4 798.3 2224.0 805.0 2224.6 805.2 2225.2 817.0 2225.8 812.5 2226.4 804.6 2227.0 790.2 2227.6 810.4 2228.2 812.3 2228.8 823.9 2229.4 813.5 2230.0 801.1 2230.6 816.9 2231.2 817.0 2231.8 819.5 2232.4 815.6 2233.0 819.8 2233.6 811.8 2234.2 809.7 2234.8 798.7 2235.4 801.0 2236.0 821.3 2236.6 816.6 2237.2 819.5 2237.8 814.3 2238.4 803.0 2239.0 805.4 2239.6 811.1 2240.2 799.6 2240.8 800.7 2241.4 799.3 2242.0 821.8 2242.6 804.3 2243.2 809.2 2243.8 808.3 2244.4 821.7 2245.0 807.3 2245.6 819.3 2246.2 804.8 2246.8 822.5 2247.4 826.3 2248.0 797.7 2248.6 813.1 2249.2 804.6 2249.8 799.9 2250.4 809.5 2251.0 814.0 2251.6 821.3 2252.2 828.9 2252.8 811.7 2253.4 810.2 2254.0 815.1 2254.6 825.1 2255.2 812.1 2255.8 819.5 2256.4 797.4 2257.0 807.7 2257.6 797.5 2258.2 821.1 2258.8 808.2 2259.4 807.9 2260.0 818.1 2260.6 816.2 2261.2 805.2 2261.8 800.3 2262.4 816.6 2263.0 805.9 2263.6 808.3 2264.2 795.8 2264.8 812.2 2265.4 813.4 2266.0 818.5 2266.6 822.7 2267.2 821.0 2267.8 809.1 2268.4 820.7 2269.0 827.5 2269.6 816.4 2270.2 821.0 2270.8 804.4 2271.4 820.7 2272.0 813.8 2272.6 809.4 2273.2 814.1 2273.8 816.1 2274.4 805.5 2275.0 804.8 2275.6 810.2 2276.2 817.8 2276.8 800.7 2277.4 812.0 2278.0 822.0 2278.6 811.9 2279.2 814.9 2279.8 808.0 2280.4 820.8 2281.0 814.1 2281.6 821.4 2282.2 803.3 2282.8 803.5 2283.4 813.8 2284.0 812.5 2284.6 818.5 2285.2 806.9 2285.8 797.9 2286.4 823.3 2287.0 797.3 2287.6 807.7 2288.2 807.6 2288.8 801.5 2289.4 804.2 2290.0 814.6 2290.6 808.7 2291.2 832.0 2291.8 812.3 2292.4 811.4 2293.0 804.0 2293.6 820.3 2294.2 812.3 2294.8 814.4 2295.4 794.7 2296.0 817.8 2296.6 804.3 2297.2 797.1 2297.8 818.2 2298.4 813.7 2299.0 811.8 2299.6 820.4 2300.2 804.6 2300.8 813.7 2301.4 801.8 2302.0 802.2 2302.6 813.8 2303.2 814.1 2303.8 810.9 2304.4 808.0 2305.0 815.3 2305.6 801.8 2306.2 822.8 2306.8 807.5 2307.4 818.0 2308.0 816.2 2308.6 806.0 2309.2 805.8 2309.8 817.4 2310.4 817.1 2311.0 807.3 2311.6 817.9 2312.2 802.9 2312.8 809.2 2313.4 824.6 2314.0 795.7 2314.6 807.8 2315.2 816.6 2315.8 819.0 2316.4 820.0 2317.0 806.8 2317.6 814.2 2318.2 802.1 2318.8 802.0 2319.4 804.2 2320.0 824.2 2320.6 801.3 2321.2 818.4 2321.8 802.0 2322.4 811.0 2323.0 823.1 2323.6 809.1 2324.2 812.2 2324.8 807.9 2325.4 808.9 2326.0 806.9 2326.6 821.7 2327.2 800.6 2327.8 810.0 2328.4 804.9 2329.0 805.0 2329.6 821.9 2330.2 820.4 2330.8 831.8 2331.4 817.0 2332.0 804.1 2332.6 806.4 2333.2 818.2 2333.8 807.0 2334.4 804.3 2335.0 806.9 2335.6 802.1 2336.2 821.6 2336.8 811.9 2337.4 799.7 2338.0 799.4 2338.6 809.4 2339.2 818.6 2339.8 821.3 2340.4 819.2 2341.0 811.6 2341.6 791.8 2342.2 812.6 2342.8 825.5 2343.4 810.1 2344.0 810.4 2344.6 804.9 2345.2 821.4 2345.8 806.0 2346.4 803.0 2347.0 813.3 2347.6 814.7 2348.2 804.1 2348.8 803.8 2349.4 816.8 2350.0 814.0 2350.6 813.9 2351.2 805.1 2351.8 811.8 2352.4 821.2 2353.0 820.0 2353.6 822.4 2354.2 815.8 2354.8 812.8 2355.4 806.3 2356.0 799.0 2356.6 806.5 2357.2 805.5 2357.8 811.7 2358.4 805.9 2359.0 794.8 2359.6 803.2 2360.2 816.2 2360.8 812.1 2361.4 826.8 2362.0 799.8 2362.6 806.1 2363.2 819.9 2363.8 812.4 2364.4 809.7 2365.0 820.7 2365.6 821.8 2366.2 821.5 2366.8 817.8 2367.4 812.4 2368.0 812.7 2368.6 823.2 2369.2 825.2 2369.8 802.2 2370.4 812.6 2371.0 809.7 2371.6 815.5 2372.2 797.3 2372.8 822.5 2373.4 808.9 2374.0 819.8 2374.6 798.5 2375.2 813.1 2375.8 794.7 2376.4 814.7 2377.0 804.8 2377.6 803.9 2378.2 806.2 2378.8 799.8 2379.4 795.0 2380.0 811.1 2380.6 813.1 2381.2 804.6 2381.8 821.4 2382.4 796.0 2383.0 789.9 2383.6 816.9 2384.2 818.7 2384.8 815.0 2385.4 808.5 2386.0 807.8 2386.6 811.6 2387.2 800.2 2387.8 795.5 2388.4 811.1 2389.0 800.4 2389.6 804.2 2390.2 808.9 2390.8 823.8 2391.4 804.3 2392.0 817.2 2392.6 823.2 2393.2 811.3 2393.8 826.0 2394.4 819.6 2395.0 811.1 2395.6 807.6 2396.2 802.6 2396.8 820.1 2397.4 806.9 2398.0 813.8 2398.6 822.1 2399.2 823.6 2399.8 816.4 2400.4 822.9 2401.0 822.7 2401.6 806.2 2402.2 814.1 2402.8 807.9 2403.4 809.4 2404.0 805.6 2404.6 811.7 2405.2 810.6 2405.8 823.7 2406.4 814.3 2407.0 822.3 2407.6 818.9 2408.2 802.3 2408.8 816.6 2409.4 817.8 2410.0 827.7 2410.6 811.4 2411.2 788.6 2411.8 821.1 2412.4 823.9 2413.0 801.5 2413.6 800.7 2414.2 810.1 2414.8 811.4 2415.4 822.1 2416.0 819.2 2416.6 806.2 2417.2 811.7 2417.8 813.8 2418.4 815.9 2419.0 811.3 2419.6 822.1 2420.2 809.9 2420.8 797.1 2421.4 792.6 2422.0 807.5 2422.6 791.4 2423.2 828.5 2423.8 808.6 2424.4 811.7 2425.0 798.8 2425.6 811.2 2426.2 808.8 2426.8 796.2"/>
<path stroke="#ff0000" d="M199.0 1138.2L199.6 1134.3 200.2 1148.8 200.8 1147.2 201.4 1138.5 202.0 1138.0 202.6 1143.2 203.2 1136.4 203.8 1146.3 204.4 1140.5 205.0 1141.9 205.6 1139.7 206.2 1139.1 206.8 1146.2 207.4 1147.5 208.0 1147.8 208.6 1135.0 209.2 1144.0 209.8 1145.1 210.4 1141.3 211.0 1132.8 211.6 1152.5 212.2 1142.3 212.8 1135.5 213.4 1147.9 214.0 1148.0 214.6 1141.0 215.2 1147.3 215.8 1137.0 216.4 1144.2 217.0 1139.4 217.6 1131.4 218.2 1146.7 218.8 1148.7 219.4 1136.5 220.0 1138.2 220.6 1141.4 221.2 1148.3 221.8 1144.2 222.4 1140.6 223.0 1141.8 223.6 1144.8 224.2 1141.2 224.8 1154.6 225.4 1134.4 226.0 1143.6 226.6 1146.8 227.2 1137.3 227.8 1150.3 228.4 1141.2 229.0 1141.1 229.6 1141.3 230.2 1143.6 230.8 1139.2 231.4 1152.9 232.0 1134.9 232.6 1140.9 233.2 1143.0 233.8 1145.0 234.4 1133.2 235.0 1136.3 235.6 1151.0 236.2 1145.5 236.8 1145.0 237.4 1149.4 238.0 1134.8 238.6 1152.0 239.2 1138.4 239.8 1152.9 240.4 1143.4 241.0 1143.7 241.6 1150.4 242.2 1147.8 242.8 1145.7 243.4 1132.4 244.0 1142.6 244.6 1131.4 245.2 1134.9 245.8 1135.4 246.4 1146.4 247.0 1131.7 247.6 1135.8 248.2 1143.3 248.8 1146.6 249.4 1147.6 250.0 1149.3 250.6 1132.8 251.2 1144.7 251.8 1145.8 252.4 1129.8 253.0 1143.3 253.6 1137.8 254.2 1146.1 254.8 1146.5 255.4 1143.4 256.0 1138.4 256.6 1137.6 257.2 1135.2 257.8 1137.3 258.4 1133.9 259.0 1140.1 259.6 1142.6 260.2 1148.4 260.8 1139.3 261.4 1133.6 262.0 1140.9 262.6 1138.3 263.2 1147.3 263.8 1143.0 264.4 1142.3 265.0 1146.2 265.6 1135.0 266.2 1139.7 266.8 1141.0 267.4 1138.6 268.0 1137.3 268.6 1141.8 269.2 1148.0 269.8 1142.7 270.4 1141.3 271.0 1144.3 271.6 1145.8 272.2 1141.8 272.8 1146.1 273.4 1146.2 274.0 1129.2 274.6 1138.0 275.2 1139.0 275.8 1129.9 276.4 1140.7 277.0 1133.5 277.6 1137.3 278.2 1144.7 278.8 1136.0 279.4 1138.1 280.0 1136.9 280.6 1147.6 281.2 1135.9 281.8 1134.1 282.4 1142.7 283.0 1138.7 283.6 1142.3 284.2 1138.7 284.8 1133.4 285.4 1149.4 286.0 1134.7 286.6 1132.4 287.2 1134.5 287.8 1138.3 288.4 1137.4 289.0 1141.7 289.6 1145.6 290.2 1134.7 290.8 1135.9 291.4 1139.9 292.0 1146.3 292.6 1151.1 293.2 1135.1 293.8 1142.0 294.4 1150.4 295.0 1133.9 295.6 1140.4 296.2 1135.9 296.8 1143.9 297.4 1148.8 298.0 1142.0 298.6 1130.5 299.2 1127.8 299.8 1137.8 300.4 1145.3 301.0 1134.6 301.6 1141.7 302.2 1134.9 302.8 1131.1 303.4 1145.2 304.0 1138.2 304.6 1138.3 305.2 1144.4 305.8 1144.8 306.4 1146.6 307.0 1140.0 307.6 1135.6 308.2 1138.4 308.8 1148.3 309.4 1141.5 310.0 1149.6 310.6 1130.5 311.2 1135.4 311.8 1145.9 312.4 1146.0 313.0 1138.2 313.6 1141.1 314.2 1143.6 314.8 1145.3 315.4 1139.8 316.0 1143.0 316.6 1140.5 317.2 1138.4 317.8 1141.1 318.4 1140.4 319.0 1146.2 319.6 1138.0 320.2 1129.1 320.8 1142.5 321.4 1145.9 322.0 1145.3 322.6 1148.9 323.2 1135.9 323.8 1135.8 324.4 1139.4 325.0 1128.4 325.6 1147.8 326.2 1147.2 326.8 1148.7 327.4 1133.8 328.0 1129.9 328.6 1142.1 329.2 1140.4 329.8 1135.7 330.4 1140.2 331.0 1142.2 331.6 1135.0 332.2 1137.6 332.8 1142.2 333.4 1142.9 334.0 1131.2 334.6 1148.8 335.2 1139.8 335.8 1130.3 336.4 1140.1 337.0 1135.1 337.6 1148.6 338.2 1134.2 338.8 1138.1 339.4 1130.9 340.0 1140.4 340.6 1144.8 341.2 1150.1 341.8 1134.0 342.4 1141.6 343.0 1149.1 343.6 1139.3 344.2 1137.0 344.8 1143.0 345.4 1142.8 346.0 1134.9 346.6 1140.0 347.2 1139.7 347.8 1137.6 348.4 1143.1 349.0 1142.9 349.6 1140.7 350.2 1142.0 350.8 1133.3 351.4 1137.3 352.0 1150.4 352.6 1136.5 353.2 1135.4 353.8 1135.6 354.4 1148.4 355.0 1147.5 355.6 1133.5 356.2 1132.5 356.8 1134.0 357.4 1138.8 358.0 1137.0 358.6 1142.3 359.2 1128.9 359.8 1152.8 360.4 1140.7 361.0 1139.1 361.6 1145.8 362.2 1145.1 362.8 1133.1 363.4 1140.4 364.0 1140.6 364.6 1134.6 365.2 1141.9 365.8 1144.6 366.4 1146.4 367.0 1131.6 367.6 1143.4 368.2 1136.6 368.8 1132.2 369.4 1135.4 370.0 1140.9 370.6 1143.4 371.2 1143.9 371.8 1137.7 372.4 1142.0 373.0 1145.6 373.6 1142.4 374.2 1129.2 374.8 1133.7 375.4 1144.4 376.0 1138.4 376.6 1141.5 377.2 1146.2 377.8 1143.4 378.4 1147.5 379.0 1137.6 379.6 1133.4 380.2 1135.4 380.8 1149.0 381.4 1122.7 382.0 1143.3 382.6 1145.8 383.2 1132.2 383.8 1128.9 384.4 1134.7 385.0 1138.6 385.6 1139.7 386.2 1137.8 386.8 1150.0 387.4 1133.9 388.0 1144.8 388.6 1127.0 389.2 1144.1 389.8 1137.4 390.4 1142.8 391.0 1132.4 391.6 1138.9 392.2 1141.3 392.8 1137.5 393.4 1143.6 394.0 1138.0 394.6 1134.7 395.2 1138.3 395.8 1128.8 396.4 1148.6 397.0 1136.7 397.6 1130.5 398.2 1131.4 398.8 1140.8 399.4 1129.9 400.0 1136.2 400.6 1141.4 401.2 1137.4 401.8 1144.4 402.4 1139.9 403.0 1143.7 403.6 1143.6 404.2 1137.7 404.8 1137.0 405.4 1130.5 406.0 1135.0 406.6 1139.4 407.2 1142.0 407.8 1133.4 408.4 1135.2 409.0 1143.6 409.6 1149.6 410.2 1129.9 410.8 1129.3 411.4 1145.7 412.0 1139.6 412.6 1139.4 413.2 1138.2 413.8 1146.4 414.4 1129.3 415.0 1143.7 415.6 1146.1 416.2 1132.5 416.8 1134.2 417.4 1131.9 418.0 1141.8 418.6 1128.0 419.2 1138.9 419.8 1144.5 420.4 1141.8 421.0 1144.2 421.6 1132.7 422.2 1148.7 422.8 1126.8 423.4 1130.6 424.0 1137.3 424.6 1130.9 425.2 1130.5 425.8 1128.5 426.4 1143.9 427.0 1126.4 427.6 1126.3 428.2 1145.3 428.8 1140.0 429.4 1131.1 430.0 1126.3 430.6 1143.6 431.2 1143.6 431.8 1136.5 432.4 1135.9 433.0 1130.6 433.6 1142.6 434.2 1137.0 434.8 1124.5 435.4 1129.1 436.0 1137.1 436.6 1141.9 437.2 1137.2 437.8 1137.0 438.4 1132.0 439.0 1135.6 439.6 1129.9 440.2 1134.6 440.8 1129.4 441.4 1141.7 442.0 1132.4 442.6 1130.0 443.2 1137.5 443.8 1135.4 444.4 1132.8 445.0 1143.8 445.6 1145.6 446.2 1121.9 446.8 1130.4 447.4 1140.9 448.0 1138.0 448.6 1127.1 449.2 1141.3 449.8 1146.3 450.4 1143.5 451.0 1127.3 451.6 1136.5 452.2 1126.1 452.8 1127.2 453.4 1129.7 454.0 1129.2 454.6 1134.6 455.2 1131.8 455.8 1134.7 456.4 1139.6 457.0 1127.6 457.6 1122.0 458.2 1127.8 458.8 1143.1 459.4 1126.5 460.0 1136.5 460.6 1129.8 461.2 1142.3 461.8 1141.0 462.4 1134.1 463.0 1139.0 463.6 1137.5 464.2 1135.1 464.8 1136.5 465.4 1139.3 466.0 1143.4 466.6 1142.2 467.2 1125.8 467.8 1129.7 468.4 1123.7 469.0 1122.0 469.6 1141.2 470.2 1143.6 470.8 1138.0 471.4 1128.0 472.0 1141.4 472.6 1134.5 473.2 1131.7 473.8 1140.4 474.4 1124.4 475.0 1128.5 475.6 1138.6 476.2 1125.2 476.8 1128.5 477.4 1137.1 478.0 1138.9 478.6 1138.3 479.2 1125.0 479.8 1122.7 480.4 1132.6 481.0 1130.2 481.6 1124.3 482.2 1125.2 482.8 1125.0 483.4 1141.6 484.0 1122.8 484.6 1132.7 485.2 1140.6 485.8 1137.8 486.4 1129.4 487.0 1135.2 487.6 1126.2 488.2 1135.2 488.8 1128.0 489.4 1139.4 490.0 1139.2 490.6 1137.5 491.2 1129.2 491.8 1139.9 492.4 1151.5 493.0 1134.0 493.6 1134.0 494.2 1128.0 494.8 1126.8 495.4 1141.7 496.0 1128.2 496.6 1132.5 497.2 1131.7 497.8 1134.2 498.4 1138.8 499.0 1139.9 499.6 1125.6 500.2 1125.3 500.8 1136.9 501.4 1141.9 502.0 1136.1 502.6 1121.4 503.2 1133.7 503.8 1120.6 504.4 1128.6 505.0 1144.0 505.6 1144.4 506.2 1147.5 506.8 1124.2 507.4 1125.5 508.0 1138.2 508.6 1127.3 509.2 1130.4 509.8 1134.6 510.4 1140.7 511.0 1123.4 511.6 1130.7 512.2 1126.4 512.8 1124.1 513.4 1130.5 514.0 1130.1 514.6 1138.7 515.2 1124.8 515.8 1129.0 516.4 1130.6 517.0 1127.7 517.6 1124.4 518.2 1142.0 518.8 1122.7 519.4 1123.0 520.0 1130.5 520.6 1117.8 521.2 1140.8 521.8 1120.8 522.4 1119.6 523.0 1146.1 523.6 1129.8 524.2 1136.2 524.8 1140.1 525.4 1136.7 526.0 1121.5 526.6 1141.2 527.2 1120.3 527.8 1125.1 528.4 1141.7 529.0 1131.8 529.6 1136.5 530.2 1131.0 530.8 1136.9 531.4 1135.4 532.0 1144.6 532.6 1135.9 533.2 1133.4 533.8 1141.6 534.4 1134.3 535.0 1131.5 535.6 1126.4 536.2 1135.4 536.8 1118.7 537.4 1133.6 538.0 1131.3 538.6 1126.4 539.2 1124.2 539.8 1124.1 540.4 1133.4 541.0 1141.7 541.6 1139.5 542.2 1140.2 542.8 1134.0 543.4 1120.6 544.0 1133.1 544.6 1128.9 545.2 1140.0 545.8 1120.8 546.4 1134.4 547.0 1122.2 547.6 1143.3 548.2 1129.5 548.8 1136.9 549.4 1135.7 550.0 1126.7 550.6 1130.3 551.2 1127.4 551.8 1124.0 552.4 1128.1 553.0 1123.1 553.6 1124.2 554.2 1120.0 554.8 1121.8 555.4 1125.4 556.0 1139.7 556.6 1135.0 557.2 1125.6 557.8 1119.6 558.4 1121.7 559.0 1125.0 559.6 1135.1 560.2 1139.4 560.8 1133.1 561.4 1140.8 562.0 1135.8 562.6 1138.9 563.2 1122.2 563.8 1130.3 564.4 1120.4 565.0 1135.8 565.6 1117.0 566.2 1129.4 566.8 1119.4 567.4 1131.0 568.0 1124.3 568.6 1114.9 569.2 1133.9 569.8 1129.3 570.4 1125.6 571.0 1117.8 571.6 1123.3 572.2 1118.1 572.8 1119.2 573.4 1120.3 574.0 1134.1 574.6 1119.3 575.2 1132.6 575.8 1141.1 576.4 1116.8 577.0 1122.4 577.6 1128.1 578.2 1130.0 578.8 1130.3 579.4 1127.7 580.0 1117.9 580.6 1124.4 581.2 1121.1 581.8 1131.8 582.4 1133.6 583.0 1126.2 583.6 1139.3 584.2 1120.4 584.8 1114.5 585.4 1127.9 586.0 1135.2 586.6 1135.4 587.2 1121.1 587.8 1119.5 588.4 1134.0 589.0 1120.2 589.6 1131.8 590.2 1128.7 590.8 1116.3 591.4 1123.3 592.0 1134.4 592.6 1140.7 593.2 1122.6 593.8 1138.8 594.4 1138.8 595.0 1122.0 595.6 1116.6 596.2 1119.0 596.8 1123.8 597.4 1124.3 598.0 1123.8 598.6 1122.8 599.2 1133.4 599.8 1118.8 600.4 1138.6 601.0 1128.8 601.6 1133.3 602.2 1127.4 602.8 1142.7 603.4 1118.5 604.0 1121.5 604.6 1122.0 605.2 1126.7 605.8 1122.2 606.4 1122.1 607.0 1120.2 607.6 1125.7 608.2 1136.7 608.8 1134.8 609.4 1124.2 610.0 1132.5 610.6 1139.7 611.2 1125.5 611.8 1115.4 612.4 1133.3 613.0 1131.6 613.6 1129.7 614.2 1134.5 614.8 1128.1 615.4 1127.5 616.0 1119.5 616.6 1121.5 617.2 1131.4 617.8 1117.8 618.4 1116.9 619.0 1122.5 619.6 1127.9 620.2 1134.4 620.8 1129.7 621.4 1134.9 622.0 1126.3 622.6 1129.6 623.2 1131.6 623.8 1127.6 624.4 1118.4 625.0 1118.9 625.6 1126.1 626.2 1121.5 626.8 1122.5 627.4 1130.4 628.0 1134.0 628.6 1114.6 629.2 1120.9 629.8 1120.0 630.4 1134.5 631.0 1132.4 631.6 1115.8 632.2 1124.4 632.8 1120.9 633.4 1123.8 634.0 1122.6 634.6 1130.0 635.2 1112.9 635.8 1127.1 636.4 1127.2 637.0 1130.3 637.6 1138.5 638.2 1132.8 638.8 1130.4 639.4 1118.1 640.0 1130.5 640.6 1131.7 641.2 1129.0 641.8 1127.1 642.4 1118.3 643.0 1129.3 643.6 1121.3 644.2 1138.8 644.8 1123.8 645.4 1131.2 646.0 1135.8 646.6 1121.0 647.2 1123.7 647.8 1125.5 648.4 1119.9 649.0 1125.0 649.6 1135.1 650.2 1130.5 650.8 1124.4 651.4 1131.1 652.0 1138.9 652.6 1131.9 653.2 1119.9 653.8 1124.1 654.4 1144.6 655.0 1128.8 655.6 1130.3 656.2 1126.4 656.8 1136.5 657.4 1114.6 658.0 1129.4 658.6 1141.0 659.2 1123.0 659.8 1135.7 660.4 1116.5 661.0 1139.8 661.6 1126.3 662.2 1133.4 662.8 1140.7 663.4 1112.5 664.0 1138.0 664.6 1112.8 665.2 1124.4 665.8 1125.6 666.4 1117.5 667.0 1124.6 667.6 1119.4 668.2 1136.8 668.8 1135.1 669.4 1132.8 670.0 1118.1 670.6 1131.9 671.2 1127.1 671.8 1125.8 672.4 1137.6 673.0 1131.2 673.6 1131.2 674.2 1121.9 674.8 1130.1 675.4 1132.8 676.0 1114.6 676.6 1123.8 677.2 1120.1 677.8 1130.5 678.4 1122.1 679.0 1117.0 679.6 1128.9 680.2 1132.5 680.8 1118.5 681.4 1132.2 682.0 1118.5 682.6 1115.6 683.2 1139.8 683.8 1131.1 684.4 1137.3 685.0 1137.0 685.6 1127.7 686.2 1134.9 686.8 1134.2 687.4 1126.3 688.0 1132.6 688.6 1136.0 689.2 1126.9 689.8 1126.3 690.4 1125.3 691.0 1135.8 691.6 1120.2 692.2 1130.0 692.8 1113.7 693.4 1127.1 694.0 1123.0 694.6 1130.4 695.2 1125.6 695.8 1129.8 696.4 1113.0 697.0 1122.3 697.6 1138.2 698.2 1131.0 698.8 1132.9 699.4 1127.0 700.0 1122.8 700.6 1132.1 701.2 1142.1 701.8 1112.4 702.4 1114.9 703.0 1118.5 703.6 1118.1 704.2 1116.3 704.8 1143.6 705.4 1120.3 706.0 1128.6 706.6 1142.2 707.2 1127.0 707.8 1123.3 708.4 1122.2 709.0 1122.4 709.6 1127.8 710.2 1121.3 710.8 1125.0 711.4 1113.0 712.0 1132.6 712.6 1133.3 713.2 1127.3 713.8 1118.8 714.4 1140.7 715.0 1117.0 715.6 1124.6 716.2 1119.5 716.8 1134.5 717.4 1130.7 718.0 1122.6 718.6 1123.1 719.2 1124.7 719.8 1131.3 720.4 1130.9 721.0 1138.2 721.6 1111.8 722.2 1138.4 722.8 1132.9 723.4 1119.5 724.0 1135.0 724.6 1134.9 725.2 1128.4 725.8 1112.7 726.4 1120.3 727.0 1131.1 727.6 1127.7 728.2 1118.4 728.8 1138.2 729.4 1130.6 730.0 1117.5 730.6 1120.2 731.2 1119.5 731.8 1119.9 732.4 1118.7 733.0 1141.6 733.6 1114.4 734.2 1125.0 734.8 1126.5 735.4 1126.8 736.0 1121.4 736.6 1134.8 737.2 1120.4 737.8 1135.4 738.4 1124.8 739.0 1136.8 739.6 1119.7 740.2 1112.8 740.8 1135.9 741.4 1114.9 742.0 1132.6 742.6 1128.7 743.2 1118.7 743.8 1122.1 744.4 1128.7 745.0 1138.0 745.6 1136.2 746.2 1127.6 746.8 1126.6 747.4 1129.6 748.0 1113.7 748.6 1133.5 749.2 1135.4 749.8 1123.0 750.4 1130.1 751.0 1132.0 751.6 1131.9 752.2 1114.5 752.8 1115.9 753.4 1118.8 754.0 1117.0 754.6 1124.6 755.2 1126.9 755.8 1126.2 756.4 1132.5 757.0 1131.4 757.6 1129.3 758.2 1114.5 758.8 1133.4 759.4 1129.7 760.0 1131.8 760.6 1140.2 761.2 1115.4 761.8 1126.3 762.4 1128.7 763.0 1135.9 763.6 1115.0 764.2 1132.6 764.8 1122.2 765.4 1119.6 766.0 1113.4 766.6 1124.0 767.2 1117.4 767.8 1129.6 768.4 1109.2 769.0 1118.5 769.6 1122.8 770.2 1126.9 770.8 1129.4 771.4 1127.2 772.0 1124.0 772.6 1127.7 773.2 1131.4 773.8 1127.6 774.4 1132.9 775.0 1133.6 775.6 1123.6 776.2 1137.6 776.8 1124.7 777.4 1118.7 778.0 1116.3 778.6 1126.6 779.2 1119.7 779.8 1138.2 780.4 1117.7 781.0 1122.6 781.6 1137.5 782.2 1136.4 782.8 1124.8 783.4 1128.0 784.0 1124.4 784.6 1126.4 785.2 1127.4 785.8 1136.9 786.4 1112.6 787.0 1116.4 787.6 1117.4 788.2 1119.1 788.8 1133.9 789.4 1127.3 790.0 1138.1 790.6 1126.7 791.2 1118.7 791.8 1134.7 792.4 1136.6 793.0 1113.7 793.6 1130.1 794.2 1125.3 794.8 1121.0 795.4 1120.8 796.0 1131.8 796.6 1115.2 797.2 1122.0 797.8 1123.8 798.4 1126.5 799.0 1115.2 799.6 1130.0 800.2 1123.7 800.8 1130.4 801.4 1128.6 802.0 1119.6 802.6 1126.4 803.2 1119.0 803.8 1146.9 804.4 1122.3 805.0 1118.6 805.6 1124.0 806.2 1116.4 806.8 1139.5 807.4 1119.4 808.0 1130.1 808.6 1114.8 809.2 1112.8 809.8 1119.8 810.4 1124.9 811.0 1125.5 811.6 1123.9 812.2 1119.8 812.8 1127.0 813.4 1113.7 814.0 1132.9 814.6 1114.8 815.2 1123.3 815.8 1133.9 816.4 1122.1 817.0 1115.7 817.6 1115.4 818.2 1118.5 818.8 1116.3 819.4 1123.1 820.0 1120.6 820.6 1122.7 821.2 1128.6 821.8 1140.1 822.4 1128.4 823.0 1132.5 823.6 1119.7 824.2 1127.2 824.8 1116.3 825.4 1112.1 826.0 1120.0 826.6 1120.9 827.2 1129.9 827.8 1120.4 828.4 1125.2 829.0 1125.5 829.6 1128.8 830.2 1131.5 830.8 1121.2 831.4 1117.2 832.0 1122.1 832.6 1128.4 833.2 1128.0 833.8 1130.0 834.4 1114.5 835.0 1114.8 835.6 1104.0 836.2 1120.9 836.8 1121.1 837.4 1104.4 838.0 1121.2 838.6 1119.6 839.2 1135.3 839.8 1113.6 840.4 1124.3 841.0 1117.0 841.6 1118.7 842.2 1130.5 842.8 1106.8 843.4 1133.5 844.0 1119.3 844.6 1133.5 845.2 1113.9 845.8 1122.5 846.4 1126.6 847.0 1128.2 847.6 1126.1 848.2 1137.7 848.8 1108.0 849.4 1126.7 850.0 1123.6 850.6 1132.8 851.2 1123.7 851.8 1121.9 852.4 1116.7 853.0 1141.0 853.6 1132.7 854.2 1131.3 854.8 1128.6 855.4 1135.7 856.0 1111.4 856.6 1114.7 857.2 1109.5 857.8 1114.5 858.4 1118.4 859.0 1127.5 859.6 1130.7 860.2 1127.6 860.8 1123.5 861.4 1117.9 862.0 1116.7 862.6 1124.8 863.2 1125.0 863.8 1130.0 864.4 1125.4 865.0 1119.3 865.6 1116.9 866.2 1122.7 866.8 1109.4 867.4 1119.7 868.0 1135.1 868.6 1139.6 869.2 1117.8 869.8 1118.9 870.4 1116.6 871.0 1129.0 871.6 1117.1 872.2 1133.7 872.8 1141.2 873.4 1118.9 874.0 1114.7 874.6 1115.3 875.2 1124.5 875.8 1126.4 876.4 1124.8 877.0 1128.3 877.6 1120.0 878.2 1116.8 878.8 1129.9 879.4 1138.0 880.0 1126.7 880.6 1134.7 881.2 1125.0 881.8 1131.7 882.4 1123.7 883.0 1123.7 883.6 1125.3 884.2 1120.3 884.8 1119.6 885.4 1135.3 886.0 1104.2 886.6 1115.4 887.2 1116.2 887.8 1118.5 888.4 1115.8 889.0 1129.9 889.6 1118.5 890.2 1117.2 890.8 1108.9 891.4 1115.6 892.0 1118.7 892.6 1103.5 893.2 1128.4 893.8 1131.0 894.4 1108.8 895.0 1128.2 895.6 1111.2 896.2 1119.2 896.8 1117.7 897.4 1114.6 898.0 1117.8 898.6 1126.1 899.2 1109.3 899.8 1109.1 900.4 1119.6 901.0 1134.4 901.6 1116.6 902.2 1130.1 902.8 1119.0 903.4 1115.5 904.0 1122.6 904.6 1116.9 905.2 1117.5 905.8 1108.0 906.4 1120.7 907.0 1134.1 907.6 1107.2 908.2 1103.0 908.8 1129.4 909.4 1126.5 910.0 1123.2 910.6 1127.2 911.2 1117.2 911.8 1127.9 912.4 1118.3 913.0 1128.1 913.6 1108.8 914.2 1134.3 914.8 1099.8 915.4 1112.9 916.0 1134.3 916.6 1124.5 917.2 1123.5 917.8 1115.9 918.4 1128.1 919.0 1115.7 919.6 1110.9 920.2 1105.4 920.8 1126.7 921.4 1128.4 922.0 1103.5 922.6 1122.5 923.2 1135.0 923.8 1119.6 924.4 1112.8 925.0 1123.3 925.6 1111.5 926.2 1128.7 926.8 1111.2 927.4 1104.9 928.0 1122.1 928.6 1122.1 929.2 1125.2 929.8 1121.0 930.4 1106.2 931.0 1111.2 931.6 1126.3 932.2 1110.4 932.8 1108.7 933.4 1124.3 934.0 1114.0 934.6 1108.0 935.2 1126.1 935.8 1124.2 936.4 1109.6 937.0 1100.5 937.6 1117.7 938.2 1118.5 938.8 1122.1 939.4 1110.7 940.0 1118.2 940.6 1119.7 941.2 1106.9 941.8 1125.6 942.4 1121.9 943.0 1115.7 943.6 1125.6 944.2 1111.3 944.8 1118.6 945.4 1127.4 946.0 1118.8 946.6 1102.8 947.2 1104.4 947.8 1127.7 948.4 1118.9 949.0 1128.4 949.6 1104.7 950.2 1115.3 950.8 1126.9 951.4 1113.9 952.0 1113.4 952.6 1129.7 953.2 1124.6 953.8 1112.6 954.4 1122.7 955.0 1119.8 955.6 1127.0 956.2 1126.1 956.8 1122.4 957.4 1102.1 958.0 1107.2 958.6 1102.2 959.2 1119.4 959.8 1116.7 960.4 1130.0 961.0 1105.1 961.6 1106.7 962.2 1105.7 962.8 1102.0 963.4 1126.5 964.0 1127.1 964.6 1105.8 965.2 1115.5 965.8 1118.5 966.4 1107.9 967.0 1104.9 967.6 1119.7 968.2 1116.2 968.8 1099.7 969.4 1116.6 970.0 1104.1 970.6 1110.1 971.2 1119.2 971.8 1123.4 972.4 1109.3 973.0 1122.4 973.6 1112.6 974.2 1117.6 974.8 1112.0 975.4 1113.1 976.0 1118.4 976.6 1107.6 977.2 1123.7 977.8 1120.3 978.4 1123.7 979.0 1110.1 979.6 1129.7 980.2 1121.3 980.8 1109.5 981.4 1101.3 982.0 1108.0 982.6 1111.2 983.2 1124.4 983.8 1127.1 984.4 1118.7 985.0 1120.5 985.6 1119.6 986.2 1119.5 986.8 1131.1 987.4 1120.2 988.0 1106.5 988.6 1110.7 989.2 1106.9 989.8 1121.8 990.4 1096.9 991.0 1118.2 991.6 1096.0 992.2 1106.9 992.8 1112.4 993.4 1119.4 994.0 1126.3 994.6 1130.2 995.2 1099.4 995.8 1102.3 996.4 1123.2 997.0 1123.6 997.6 1091.8 998.2 1105.0 998.8 1103.5 999.4 1115.2 1000.0 1120.4 1000.6 1126.0 1001.2 1116.2 1001.8 1105.3 1002.4 1102.1 1003.0 1109.7 1003.6 1102.7 1004.2 1113.8 1004.8 1103.9 1005.4 1104.6 1006.0 1123.8 1006.6 1097.2 1007.2 1097.8 1007.8 1101.3 1008.4 1118.0 1009.0 1104.5 1009.6 1100.5 1010.2 1116.1 1010.8 1112.5 1011.4 1092.2 1012.0 1087.7 1012.6 1108.9 1013.2 1114.4 1013.8 1097.0 1014.4 1116.6 1015.0 1080.8 1015.6 1108.7 1016.2 1088.7 1016.8 1092.5 1017.4 1092.4 1018.0 1092.6 1018.6 1109.0 1019.2 1098.5 1019.8 1102.7 1020.4 1080.7 1021.0 1090.4 1021.6 1078.8 1022.2 1105.4 1022.8 1104.9 1023.4 1089.1 1024.0 1109.3 1024.6 1088.2 1025.2 1083.0 1025.8 1082.1 1026.4 1109.2 1027.0 1077.4 1027.6 1093.6 1028.2 1088.5 1028.8 1097.3 1029.4 1091.3 1030.0 1084.9 1030.6 1077.1 1031.2 1102.4 1031.8 1093.1 1032.4 1103.9 1033.0 1106.8 1033.6 1100.2 1034.2 1109.6 1034.8 1090.5 1035.4 1079.3 1036.0 1103.2 1036.6 1084.8 1037.2 1085.3 1037.8 1088.6 1038.4 1083.9 1039.0 1105.5 1039.6 1098.9 1040.2 1091.8 1040.8 1103.3 1041.4 1079.6 1042.0 1084.8 1042.6 1083.2 1043.2 1084.9 1043.8 1077.7 1044.4 1081.4 1045.0 1072.5 1045.6 1069.3 1046.2 1082.6 1046.8 1073.0 1047.4 1071.0 1048.0 1089.0 1048.6 1087.2 1049.2 1097.4 1049.8 1083.1 1050.4 1076.5 1051.0 1093.1 1051.6 1069.4 1052.2 1088.3 1052.8 1069.2 1053.4 1070.5 1054.0 1097.9 1054.6 1093.0 1055.2 1075.1 1055.8 1090.6 1056.4 1102.3 1057.0 1077.8 1057.6 1072.9 1058.2 1060.5 1058.8 1093.1 1059.4 1082.6 1060.0 1053.1 1060.6 1081.8 1061.2 1066.5 1061.8 1100.1 1062.4 1062.4 1063.0 1061.0 1063.6 1088.1 1064.2 1066.2 1064.8 1049.6 1065.4 1062.1 1066.0 1056.9 1066.6 1069.7 1067.2 1055.2 1067.8 1085.6 1068.4 1076.1 1069.0 1065.8 1069.6 1047.8 1070.2 1076.2 1070.8 1069.9 1071.4 1089.6 1072.0 1045.9 1072.6 1068.5 1073.2 1050.7 1073.8 1054.6 1074.4 1062.1 1075.0 1073.2 1075.6 1078.7 1076.2 1085.1 1076.8 1055.1 1077.4 1061.1 1078.0 1040.6 1078.6 1057.3 1079.2 1077.2 1079.8 1033.1 1080.4 1070.5 1081.0 1059.5 1081.6 1056.7 1082.2 1052.0 1082.8 1073.0 1083.4 1072.3 1084.0 1057.2 1084.6 1068.8 1085.2 1031.3 1085.8 1057.1 1086.4 1067.8 1087.0 1046.1 1087.6 1025.5 1088.2 1046.1 1088.8 1047.1 1089.4 1036.3 1090.0 1048.5 1090.6 1048.5 1091.2 1044.4 1091.8 1056.3 1092.4 1028.6 1093.0 1040.1 1093.6 1055.9 1094.2 1018.9 1094.8 1031.3 1095.4 1050.0 1096.0 1047.8 1096.6 1033.5 1097.2 1035.5 1097.8 1017.6 1098.4 1043.1 1099.0 1052.4 1099.6 1047.5 1100.2 1048.6 1100.8 1036.1 1101.4 1026.3 1102.0 1020.0 1102.6 1013.8 1103.2 1020.4 1103.8 994.1 1104.4 1028.2 1105.0 1035.3 1105.6 1011.5 1106.2 1038.8 1106.8 1040.5 1107.4 1030.0 1108.0 1056.0 1108.6 984.1 1109.2 1011.0 1109.8 1013.7 1110.4 997.9 1111.0 1027.7 1111.6 982.7 1112.2 1001.1 1112.8 1035.1 1113.4 1010.9 1114.0 1024.4 1114.6 1000.1 1115.2 1016.1 1115.8 1020.1 1116.4 986.8 1117.0 1016.5 1117.6 997.7 1118.2 1006.5 1118.8 975.8 1119.4 1016.6 1120.0 977.0 1120.6 989.5 1121.2 975.8 1121.8 953.9 1122.4 972.5 1123.0 1006.6 1123.6 976.3 1124.2 928.9 1124.8 957.0 1125.4 1014.0 1126.0 944.8 1126.6 925.4 1127.2 976.6 1127.8 970.6 1128.4 975.8 1129.0 948.9 1129.6 942.8 1130.2 922.1 1130.8 934.0 1131.4 966.2 1132.0 981.6 1132.6 974.1 1133.2 928.2 1133.8 929.7 1134.4 975.4 1135.0 959.7 1135.6 935.7 1136.2 963.7 1136.8 977.2 1137.4 967.0 1138.0 945.9 1138.6 956.5 1139.2 925.3 1139.8 981.5 1140.4 957.3 1141.0 966.0 1141.6 943.5 1142.2 926.4 1142.8 979.4 1143.4 986.5 1144.0 963.4 1144.6 953.4 1145.2 990.2 1145.8 953.8 1146.4 933.2 1147.0 949.5 1147.6 941.3 1148.2 982.2 1148.8 955.8 1149.4 984.9 1150.0 942.2 1150.6 980.3 1151.2 943.2 1151.8 961.8 1152.4 955.3 1153.0 953.8 1153.6 968.7 1154.2 942.2 1154.8 955.6 1155.4 947.7 1156.0 973.7 1156.6 905.5 1157.2 933.1 1157.8 957.3 1158.4 924.9 1159.0 949.9 1159.6 945.6 1160.2 923.6 1160.8 929.3 1161.4 917.2 1162.0 916.5 1162.6 906.2 1163.2 899.5 1163.8 894.6 1164.4 893.0 1165.0 894.0 1165.6 899.0 1166.2 906.0 1166.8 913.1 1167.4 908.6 1168.0 923.8 1168.6 927.9 1169.2 938.6 1169.8 946.5 1170.4 968.2 1171.0 936.8 1171.6 939.2 1172.2 952.5 1172.8 914.7 1173.4 944.6 1174.0 934.8 1174.6 953.1 1175.2 928.3 1175.8 907.8 1176.4 948.2 1177.0 956.3 1177.6 939.6 1178.2 992.1 1178.8 915.2 1179.4 983.8 1180.0 946.0 1180.6 918.4 1181.2 961.5 1181.8 947.6 1182.4 919.2 1183.0 968.5 1183.6 989.4 1184.2 916.1 1184.8 932.7 1185.4 936.5 1186.0 967.1 1186.6 929.1 1187.2 931.4 1187.8 936.8 1188.4 970.8 1189.0 908.4 1189.6 980.9 1190.2 931.1 1190.8 947.6 1191.4 927.0 1192.0 927.4 1192.6 940.5 1193.2 962.2 1193.8 942.7 1194.4 948.4 1195.0 992.6 1195.6 968.8 1196.2 929.1 1196.8 936.4 1197.4 964.4 1198.0 950.4 1198.6 950.5 1199.2 942.9 1199.8 951.9 1200.4 978.1 1201.0 968.6 1201.6 945.6 1202.2 949.2 1202.8 945.5 1203.4 991.2 1204.0 960.3 1204.6 951.7 1205.2 950.3 1205.8 981.2 1206.4 949.0 1207.0 950.6 1207.6 957.4 1208.2 963.5 1208.8 974.9 1209.4 1003.6 1210.0 982.6 1210.6 957.5 1211.2 986.7 1211.8 967.2 1212.4 961.0 1213.0 957.8 1213.6 1010.5 1214.2 998.8 1214.8 989.0 1215.4 966.6 1216.0 1014.9 1216.6 965.7 1217.2 1004.9 1217.8 1003.7 1218.4 995.8 1219.0 973.6 1219.6 1013.4 1220.2 965.9 1220.8 977.8 1221.4 999.0 1222.0 997.6 1222.6 991.5 1223.2 990.1 1223.8 994.6 1224.4 1026.5 1225.0 1023.4 1225.6 982.4 1226.2 1015.8 1226.8 992.8 1227.4 980.0 1228.0 1005.9 1228.6 985.6 1229.2 1021.7 1229.8 1021.1 1230.4 970.9 1231.0 978.8 1231.6 1024.5 1232.2 1033.6 1232.8 973.6 1233.4 1033.5 1234.0 1014.4 1234.6 988.9 1235.2 1012.9 1235.8 1017.7 1236.4 979.2 1237.0 1015.2 1237.6 989.2 1238.2 1013.0 1238.8 994.5 1239.4 1004.4 1240.0 1039.3 1240.6 1022.3 1241.2 1020.8 1241.8 1020.0 1242.4 1024.5 1243.0 1007.1 1243.6 1030.7 1244.2 998.6 1244.8 990.6 1245.4 1012.1 1246.0 1025.0 1246.6 1043.0 1247.2 1000.8 1247.8 1038.6 1248.4 1036.3 1249.0 1001.9 1249.6 1024.3 1250.2 1004.8 1250.8 1026.0 1251.4 1028.0 1252.0 1023.7 1252.6 1027.8 1253.2 1019.2 1253.8 1035.5 1254.4 1036.9 1255.0 998.3 1255.6 1036.8 1256.2 1030.7 1256.8 1051.8 1257.4 1058.9 1258.0 1011.9 1258.6 1057.8 1259.2 1044.5 1259.8 1025.2 1260.4 1011.3 1261.0 1066.1 1261.6 1040.5 1262.2 1046.5 1262.8 1056.5 1263.4 1032.0 1264.0 1042.2 1264.6 1025.0 1265.2 1029.2 1265.8 1063.1 1266.4 1046.8 1267.0 1055.0 1267.6 1047.1 1268.2 1057.1 1268.8 1067.0 1269.4 1025.7 1270.0 1030.4 1270.6 1038.9 1271.2 1032.4 1271.8 1042.2 1272.4 1038.2 1273.0 1027.3 1273.6 1033.7 1274.2 1059.9 1274.8 1050.1 1275.4 1072.4 1276.0 1066.5 1276.6 1068.2 1277.2 1070.3 1277.8 1062.1 1278.4 1078.2 1279.0 1064.9 1279.6 1055.7 1280.2 1035.8 1280.8 1060.5 1281.4 1050.3 1282.0 1086.4 1282.6 1070.7 1283.2 1075.6 1283.8 1034.5 1284.4 1076.0 1285.0 1038.3 1285.6 1068.4 1286.2 1041.8 1286.8 1090.9 1287.4 1049.3 1288.0 1047.3 1288.6 1063.1 1289.2 1048.0 1289.8 1048.2 1290.4 1063.1 1291.0 1041.9 1291.6 1073.2 1292.2 1074.6 1292.8 1075.4 1293.4 1067.1 1294.0 1061.5 1294.6 1064.6 1295.2 1078.8 1295.8 1078.4 1296.4 1069.7 1297.0 1085.9 1297.6 1059.8 1298.2 1074.8 1298.8 1080.9 1299.4 1054.9 1300.0 1080.8 1300.6 1082.7 1301.2 1055.6 1301.8 1086.1 1302.4 1074.2 1303.0 1069.8 1303.6 1069.3 1304.2 1071.3 1304.8 1091.8 1305.4 1089.3 1306.0 1085.1 1306.6 1061.6 1307.2 1088.3 1307.8 1069.2 1308.4 1079.0 1309.0 1059.4 1309.6 1097.4 1310.2 1062.7 1310.8 1086.6 1311.4 1061.6 1312.0 1061.4 1312.6 1084.2 1313.2 1086.6 1313.8 1084.8 1314.4 1071.0 1315.0 1085.3 1315.6 1093.7 1316.2 1094.2 1316.8 1092.9 1317.4 1078.7 1318.0 1072.8 1318.6 1085.7 1319.2 1075.7 1319.8 1073.7 1320.4 1070.7 1321.0 1075.5 1321.6 1076.1 1322.2 1091.0 1322.8 1091.1 1323.4 1061.7 1324.0 1092.2 1324.6 1089.4 1325.2 1089.4 1325.8 1085.6 1326.4 1075.7 1327.0 1086.8 1327.6 1075.8 1328.2 1078.3 1328.8 1066.3 1329.4 1068.7 1330.0 1095.5 1330.6 1087.6 1331.2 1081.4 1331.8 1098.1 1332.4 1064.4 1333.0 1087.7 1333.6 1093.7 1334.2 1068.4 1334.8 1097.0 1335.4 1087.1 1336.0 1094.1 1336.6 1079.1 1337.2 1079.1 1337.8 1083.4 1338.4 1080.1 1339.0 1099.5 1339.6 1104.4 1340.2 1094.5 1340.8 1079.3 1341.4 1101.8 1342.0 1101.7 1342.6 1092.6 1343.2 1105.9 1343.8 1086.5 1344.4 1108.2 1345.0 1085.3 1345.6 1099.5 1346.2 1109.7 1346.8 1085.1 1347.4 1113.4 1348.0 1079.0 1348.6 1112.7 1349.2 1109.9 1349.8 1111.4 1350.4 1092.0 1351.0 1108.5 1351.6 1098.8 1352.2 1114.7 1352.8 1107.8 1353.4 1098.3 1354.0 1103.4 1354.6 1089.1 1355.2 1109.5 1355.8 1093.4 1356.4 1095.6 1357.0 1112.6 1357.6 1086.9 1358.2 1100.3 1358.8 1090.2 1359.4 1088.1 1360.0 1095.4 1360.6 1094.8 1361.2 1100.2 1361.8 1103.7 1362.4 1099.0 1363.0 1089.4 1363.6 1093.6 1364.2 1073.0 1364.8 1093.9 1365.4 1095.8 1366.0 1089.2 1366.6 1100.9 1367.2 1089.5 1367.8 1109.4 1368.4 1120.2 1369.0 1111.8 1369.6 1113.8 1370.2 1106.4 1370.8 1120.4 1371.4 1092.5 1372.0 1081.0 1372.6 1106.8 1373.2 1125.7 1373.8 1106.0 1374.4 1098.9 1375.0 1102.8 1375.6 1107.6 1376.2 1108.7 1376.8 1104.0 1377.4 1095.9 1378.0 1097.5 1378.6 1100.9 1379.2 1090.0 1379.8 1093.3 1380.4 1107.2 1381.0 1093.0 1381.6 1097.4 1382.2 1117.6 1382.8 1112.0 1383.4 1098.9 1384.0 1097.0 1384.6 1122.0 1385.2 1104.1 1385.8 1114.4 1386.4 1112.9 1387.0 1115.0 1387.6 1092.6 1388.2 1101.6 1388.8 1123.9 1389.4 1098.8 1390.0 1105.2 1390.6 1112.5 1391.2 1109.8 1391.8 1098.6 1392.4 1104.2 1393.0 1103.4 1393.6 1092.7 1394.2 1101.6 1394.8 1114.4 1395.4 1103.0 1396.0 1107.5 1396.6 1098.6 1397.2 1106.9 1397.8 1107.0 1398.4 1111.4 1399.0 1108.2 1399.6 1096.3 1400.2 1097.8 1400.8 1110.8 1401.4 1120.0 1402.0 1120.3 1402.6 1111.3 1403.2 1112.1 1403.8 1122.1 1404.4 1127.2 1405.0 1105.6 1405.6 1109.3 1406.2 1119.4 1406.8 1109.1 1407.4 1119.6 1408.0 1097.5 1408.6 1098.1 1409.2 1103.5 1409.8 1116.1 1410.4 1108.5 1411.0 1102.9 1411.6 1094.1 1412.2 1091.4 1412.8 1115.1 1413.4 1116.0 1414.0 1120.1 1414.6 1114.3 1415.2 1117.0 1415.8 1104.8 1416.4 1115.0 1417.0 1107.5 1417.6 1117.2 1418.2 1094.3 1418.8 1106.3 1419.4 1122.6 1420.0 1105.9 1420.6 1121.8 1421.2 1121.6 1421.8 1107.2 1422.4 1110.4 1423.0 1098.5 1423.6 1108.3 1424.2 1130.1 1424.8 1104.3 1425.4 1127.7 1426.0 1123.1 1426.6 1119.3 1427.2 1103.7 1427.8 1116.5 1428.4 1122.0 1429.0 1107.8 1429.6 1095.0 1430.2 1103.0 1430.8 1105.4 1431.4 1105.0 1432.0 1100.3 1432.6 1102.1 1433.2 1117.5 1433.8 1112.0 1434.4 1123.6 1435.0 1092.1 1435.6 1125.7 1436.2 1127.6 1436.8 1133.6 1437.4 1110.3 1438.0 1112.7 1438.6 1102.0 1439.2 1107.4 1439.8 1109.3 1440.4 1101.0 1441.0 1110.7 1441.6 1099.2 1442.2 1105.1 1442.8 1115.3 1443.4 1095.0 1444.0 1122.8 1444.6 1114.3 1445.2 1098.0 1445.8 1117.1 1446.4 1124.5 1447.0 1117.3 1447.6 1104.2 1448.2 1122.5 1448.8 1120.8 1449.4 1128.2 1450.0 1117.6 1450.6 1108.9 1451.2 1122.4 1451.8 1104.4 1452.4 1125.4 1453.0 1116.5 1453.6 1114.7 1454.2 1118.1 1454.8 1128.1 1455.4 1103.8 1456.0 1127.9 1456.6 1104.7 1457.2 1112.5 1457.8 1112.5 1458.4 1108.7 1459.0 1107.1 1459.6 1117.3 1460.2 1107.3 1460.8 1112.3 1461.4 1099.4 1462.0 1112.2 1462.6 1108.7 1463.2 1103.4 1463.8 1107.9 1464.4 1126.4 1465.0 1105.6 1465.6 1106.1 1466.2 1111.1 1466.8 1122.9 1467.4 1122.4 1468.0 1119.3 1468.6 1112.0 1469.2 1111.8 1469.8 1093.7 1470.4 1122.8 1471.0 1122.1 1471.6 1126.8 1472.2 1114.0 1472.8 1116.2 1473.4 1111.8 1474.0 1119.8 1474.6 1124.7 1475.2 1108.5 1475.8 1110.2 1476.4 1127.6 1477.0 1125.9 1477.6 1104.1 1478.2 1114.3 1478.8 1116.5 1479.4 1126.3 1480.0 1127.9 1480.6 1123.7 1481.2 1108.1 1481.8 1112.3 1482.4 1125.6 1483.0 1121.3 1483.6 1107.6 1484.2 1117.7 1484.8 1131.1 1485.4 1122.9 1486.0 1132.4 1486.6 1125.4 1487.2 1116.3 1487.8 1129.9 1488.4 1122.8 1489.0 1110.9 1489.6 1127.4 1490.2 1112.8 1490.8 1131.7 1491.4 1107.5 1492.0 1124.1 1492.6 1128.3 1493.2 1120.6 1493.8 1125.1 1494.4 1131.3 1495.0 1106.5 1495.6 1117.5 1496.2 1133.5 1496.8 1116.3 1497.4 1117.0 1498.0 1113.0 1498.6 1111.0 1499.2 1107.8 1499.8 1120.2 1500.4 1096.1 1501.0 1127.0 1501.6 1108.0 1502.2 1116.8 1502.8 1116.4 1503.4 1111.7 1504.0 1104.3 1504.6 1127.3 1505.2 1129.6 1505.8 1124.3 1506.4 1124.9 1507.0 1114.6 1507.6 1112.2 1508.2 1108.5 1508.8 1117.7 1509.4 1133.4 1510.0 1123.9 1510.6 1112.3 1511.2 1106.3 1511.8 1119.1 1512.4 1114.7 1513.0 1119.1 1513.6 1111.0 1514.2 1122.7 1514.8 1110.8 1515.4 1133.6 1516.0 1126.5 1516.6 1134.4 1517.2 1123.9 1517.8 1127.2 1518.4 1139.4 1519.0 1118.8 1519.6 1119.1 1520.2 1122.1 1520.8 1117.5 1521.4 1120.1 1522.0 1121.7 1522.6 1110.2 1523.2 1114.1 1523.8 1108.7 1524.4 1124.3 1525.0 1132.4 1525.6 1105.8 1526.2 1118.4 1526.8 1130.2 1527.4 1115.3 1528.0 1129.9 1528.6 1118.8 1529.2 1110.1 1529.8 1105.7 1530.4 1128.7 1531.0 1130.8 1531.6 1118.8 1532.2 1137.3 1532.8 1114.4 1533.4 1116.1 1534.0 1123.1 1534.6 1123.5 1535.2 1122.7 1535.8 1119.4 1536.4 1117.5 1537.0 1123.2 1537.6 1122.6 1538.2 1135.4 1538.8 1136.7 1539.4 1125.9 1540.0 1117.8 1540.6 1125.0 1541.2 1116.4 1541.8 1128.1 1542.4 1131.9 1543.0 1108.4 1543.6 1127.2 1544.2 1136.1 1544.8 1133.1 1545.4 1130.6 1546.0 1122.3 1546.6 1121.7 1547.2 1113.4 1547.8 1106.2 1548.4 1114.5 1549.0 1129.5 1549.6 1106.8 1550.2 1122.1 1550.8 1118.4 1551.4 1116.4 1552.0 1126.3 1552.6 1126.9 1553.2 1121.5 1553.8 1115.8 1554.4 1128.0 1555.0 1117.8 1555.6 1109.2 1556.2 1134.6 1556.8 1137.8 1557.4 1138.5 1558.0 1109.7 1558.6 1118.2 1559.2 1113.0 1559.8 1117.8 1560.4 1114.0 1561.0 1130.4 1561.6 1136.2 1562.2 1134.0 1562.8 1133.9 1563.4 1120.5 1564.0 1115.3 1564.6 1112.2 1565.2 1123.2 1565.8 1134.9 1566.4 1120.6 1567.0 1128.2 1567.6 1118.5 1568.2 1105.5 1568.8 1129.9 1569.4 1116.0 1570.0 1137.1 1570.6 1135.9 1571.2 1110.2 1571.8 1111.9 1572.4 1126.5 1573.0 1119.4 1573.6 1107.8 1574.2 1119.6 1574.8 1115.1 1575.4 1120.4 1576.0 1117.5 1576.6 1126.5 1577.2 1130.4 1577.8 1122.0 1578.4 1131.5 1579.0 1124.6 1579.6 1126.0 1580.2 1119.1 1580.8 1121.3 1581.4 1115.9 1582.0 1128.7 1582.6 1121.1 1583.2 1133.1 1583.8 1111.9 1584.4 1129.4 1585.0 1129.6 1585.6 1132.5 1586.2 1128.0 1586.8 1122.4 1587.4 1137.7 1588.0 1112.2 1588.6 1116.6 1589.2 1135.2 1589.8 1133.2 1590.4 1123.0 1591.0 1116.0 1591.6 1122.6 1592.2 1134.2 1592.8 1141.1 1593.4 1119.1 1594.0 1129.8 1594.6 1131.0 1595.2 1132.1 1595.8 1128.3 1596.4 1130.8 1597.0 1123.8 1597.6 1116.0 1598.2 1133.4 1598.8 1115.5 1599.4 1127.0 1600.0 1116.7 1600.6 1119.5 1601.2 1109.1 1601.8 1106.5 1602.4 1113.0 1603.0 1115.4 1603.6 1113.0 1604.2 1115.3 1604.8 1138.5 1605.4 1122.6 1606.0 1128.5 1606.6 1118.8 1607.2 1128.6 1607.8 1129.8 1608.4 1119.8 1609.0 1118.4 1609.6 1117.9 1610.2 1123.6 1610.8 1116.5 1611.4 1137.7 1612.0 1138.6 1612.6 1132.6 1613.2 1132.4 1613.8 1132.8 1614.4 1138.0 1615.0 1125.2 1615.6 1122.6 1616.2 1120.5 1616.8 1121.3 1617.4 1115.5 1618.0 1116.3 1618.6 1139.2 1619.2 1117.4 1619.8 1117.0 1620.4 1131.2 1621.0 1130.4 1621.6 1124.2 1622.2 1116.4 1622.8 1112.0 1623.4 1111.9 1624.0 1120.9 1624.6 1111.7 1625.2 1124.5 1625.8 1113.5 1626.4 1131.2 1627.0 1139.1 1627.6 1133.9 1628.2 1136.0 1628.8 1123.6 1629.4 1122.2 1630.0 1122.6 1630.6 1130.7 1631.2 1123.1 1631.8 1124.5 1632.4 1120.1 1633.0 1132.7 1633.6 1129.1 1634.2 1127.9 1634.8 1122.1 1635.4 1118.5 1636.0 1128.8 1636.6 1125.2 1637.2 1123.2 1637.8 1112.5 1638.4 1110.5 1639.0 1121.7 1639.6 1130.3 1640.2 1129.0 1640.8 1126.4 1641.4 1132.5 1642.0 1115.7 1642.6 1138.0 1643.2 1118.6 1643.8 1115.5 1644.4 1118.2 1645.0 1127.8 1645.6 1123.4 1646.2 1128.2 1646.8 1117.9 1647.4 1115.7 1648.0 1132.1 1648.6 1120.0 1649.2 1139.9 1649.8 1119.6 1650.4 1120.3 1651.0 1125.9 1651.6 1116.9 1652.2 1132.3 1652.8 1126.8 1653.4 1129.2 1654.0 1129.5 1654.6 1132.0 1655.2 1124.8 1655.8 1118.9 1656.4 1135.0 1657.0 1119.8 1657.6 1125.4 1658.2 1135.4 1658.8 1121.7 1659.4 1129.9 1660.0 1131.7 1660.6 1136.0 1661.2 1124.6 1661.8 1120.8 1662.4 1128.6 1663.0 1126.1 1663.6 1139.1 1664.2 1141.0 1664.8 1132.5 1665.4 1129.6 1666.0 1115.0 1666.6 1121.7 1667.2 1137.6 1667.8 1135.5 1668.4 1135.6 1669.0 1128.3 1669.6 1120.6 1670.2 1117.8 1670.8 1130.0 1671.4 1117.2 1672.0 1125.9 1672.6 1120.1 1673.2 1120.9 1673.8 1133.3 1674.4 1141.1 1675.0 1112.2 1675.6 1128.6 1676.2 1123.8 1676.8 1142.2 1677.4 1118.6 1678.0 1140.0 1678.6 1130.5 1679.2 1133.6 1679.8 1128.9 1680.4 1136.5 1681.0 1125.7 1681.6 1125.3 1682.2 1115.0 1682.8 1121.6 1683.4 1124.0 1684.0 1134.7 1684.6 1129.3 1685.2 1122.8 1685.8 1120.5 1686.4 1118.0 1687.0 1127.9 1687.6 1131.3 1688.2 1136.8 1688.8 1124.9 1689.4 1129.9 1690.0 1119.5 1690.6 1132.7 1691.2 1128.1 1691.8 1140.6 1692.4 1136.0 1693.0 1132.1 1693.6 1132.0 1694.2 1123.1 1694.8 1132.7 1695.4 1126.7 1696.0 1139.8 1696.6 1120.1 1697.2 1124.5 1697.8 1132.2 1698.4 1132.8 1699.0 1120.5 1699.6 1140.2 1700.2 1112.7 1700.8 1113.7 1701.4 1130.1 1702.0 1120.4 1702.6 1140.9 1703.2 1137.3 1703.8 1121.2 1704.4 1139.7 1705.0 1123.2 1705.6 1125.4 1706.2 1128.3 1706.8 1138.9 1707.4 1124.4 1708.0 1142.1 1708.6 1118.7 1709.2 1124.1 1709.8 1147.1 1710.4 1117.4 1711.0 1115.5 1711.6 1134.9 1712.2 1140.2 1712.8 1140.6 1713.4 1135.5 1714.0 1115.6 1714.6 1117.5 1715.2 1130.9 1715.8 1144.0 1716.4 1136.1 1717.0 1123.8 1717.6 1127.1 1718.2 1124.7 1718.8 1123.9 1719.4 1130.9 1720.0 1134.3 1720.6 1120.9 1721.2 1137.6 1721.8 1135.6 1722.4 1135.3 1723.0 1129.5 1723.6 1112.1 1724.2 1122.2 1724.8 1120.4 1725.4 1121.6 1726.0 1127.0 1726.6 1128.4 1727.2 1124.1 1727.8 1127.7 1728.4 1120.1 1729.0 1133.1 1729.6 1138.4 1730.2 1133.1 1730.8 1124.0 1731.4 1131.4 1732.0 1115.8 1732.6 1125.8 1733.2 1120.7 1733.8 1121.4 1734.4 1125.7 1735.0 1143.1 1735.6 1122.4 1736.2 1129.9 1736.8 1118.6 1737.4 1128.1 1738.0 1137.2 1738.6 1140.4 1739.2 1124.5 1739.8 1135.1 1740.4 1138.8 1741.0 1120.9 1741.6 1125.8 1742.2 1127.3 1742.8 1144.2 1743.4 1132.0 1744.0 1118.5 1744.6 1124.3 1745.2 1138.9 1745.8 1119.6 1746.4 1125.3 1747.0 1132.6 1747.6 1136.7 1748.2 1114.7 1748.8 1133.3 1749.4 1129.0 1750.0 1130.8 1750.6 1117.1 1751.2 1117.5 1751.8 1119.0 1752.4 1126.4 1753.0 1134.4 1753.6 1132.1 1754.2 1117.4 1754.8 1122.9 1755.4 1143.6 1756.0 1127.9 1756.6 1134.6 1757.2 1131.7 1757.8 1125.6 1758.4 1135.4 1759.0 1123.6 1759.6 1121.1 1760.2 1120.1 1760.8 1143.2 1761.4 1112.1 1762.0 1137.7 1762.6 1119.6 1763.2 1128.1 1763.8 1134.1 1764.4 1135.3 1765.0 1132.3 1765.6 1135.6 1766.2 1115.7 1766.8 1134.8 1767.4 1131.2 1768.0 1140.9 1768.6 1140.5 1769.2 1128.2 1769.8 1131.7 1770.4 1123.7 1771.0 1124.4 1771.6 1132.5 1772.2 1140.6 1772.8 1121.8 1773.4 1128.7 1774.0 1120.1 1774.6 1134.6 1775.2 1133.0 1775.8 1119.6 1776.4 1119.9 1777.0 1127.1 1777.6 1125.7 1778.2 1137.0 1778.8 1127.5 1779.4 1141.0 1780.0 1122.9 1780.6 1122.8 1781.2 1129.5 1781.8 1134.6 1782.4 1127.9 1783.0 1115.8 1783.6 1126.5 1784.2 1134.5 1784.8 1123.8 1785.4 1133.4 1786.0 1122.7 1786.6 1136.4 1787.2 1124.7 1787.8 1114.8 1788.4 1118.8 1789.0 1119.0 1789.6 1134.1 1790.2 1131.8 1790.8 1137.1 1791.4 1129.7 1792.0 1114.3 1792.6 1128.0 1793.2 1137.6 1793.8 1121.3 1794.4 1131.1 1795.0 1132.9 1795.6 1123.9 1796.2 1113.1 1796.8 1121.3 1797.4 1123.5 1798.0 1125.0 1798.6 1114.9 1799.2 1119.7 1799.8 1122.5 1800.4 1135.2 1801.0 1139.2 1801.6 1125.9 1802.2 1121.4 1802.8 1125.1 1803.4 1128.8 1804.0 1121.1 1804.6 1121.2 1805.2 1137.4 1805.8 1129.1 1806.4 1131.3 1807.0 1124.2 1807.6 1119.5 1808.2 1115.3 1808.8 1123.3 1809.4 1125.3 1810.0 1115.1 1810.6 1116.4 1811.2 1136.6 1811.8 1125.1 1812.4 1118.0 1813.0 1123.5 1813.6 1134.3 1814.2 1134.7 1814.8 1116.6 1815.4 1128.0 1816.0 1128.1 1816.6 1129.3 1817.2 1119.3 1817.8 1121.3 1818.4 1132.0 1819.0 1118.6 1819.6 1122.1 1820.2 1119.2 1820.8 1130.2 1821.4 1132.0 1822.0 1130.2 1822.6 1125.4 1823.2 1125.7 1823.8 1114.9 1824.4 1116.9 1825.0 1129.0 1825.6 1134.1 1826.2 1136.2 1826.8 1126.9 1827.4 1122.9 1828.0 1126.8 1828.6 1127.5 1829.2 1134.5 1829.8 1118.5 1830.4 1116.9 1831.0 1116.4 1831.6 1133.2 1832.2 1112.8 1832.8 1119.6 1833.4 1132.9 1834.0 1133.6 1834.6 1124.0 1835.2 1131.7 1835.8 1124.4 1836.4 1112.7 1837.0 1132.0 1837.6 1116.5 1838.2 1125.9 1838.8 1130.9 1839.4 1131.1 1840.0 1136.9 1840.6 1119.2 1841.2 1121.5 1841.8 1117.2 1842.4 1113.3 1843.0 1133.1 1843.6 1120.3 1844.2 1124.1 1844.8 1131.4 1845.4 1117.6 1846.0 1128.4 1846.6 1113.4 1847.2 1132.6 1847.8 1120.2 1848.4 1115.9 1849.0 1121.5 1849.6 1123.2 1850.2 1124.9 1850.8 1120.7 1851.4 1118.3 1852.0 1118.2 1852.6 1118.8 1853.2 1121.4 1853.8 1134.7 1854.4 1118.3 1855.0 1111.2 1855.6 1111.4 1856.2 1121.8 1856.8 1137.5 1857.4 1123.6 1858.0 1121.4 1858.6 1108.5 1859.2 1127.5 1859.8 1111.3 1860.4 1118.9 1861.0 1116.9 1861.6 1120.0 1862.2 1118.5 1862.8 1116.8 1863.4 1119.3 1864.0 1128.6 1864.6 1121.3 1865.2 1131.0 1865.8 1133.4 1866.4 1124.0 1867.0 1136.1 1867.6 1119.7 1868.2 1109.3 1868.8 1128.9 1869.4 1134.6 1870.0 1115.4 1870.6 1120.7 1871.2 1109.8 1871.8 1126.7 1872.4 1133.7 1873.0 1111.7 1873.6 1127.1 1874.2 1124.5 1874.8 1117.4 1875.4 1112.7 1876.0 1114.8 1876.6 1115.9 1877.2 1122.6 1877.8 1114.1 1878.4 1136.2 1879.0 1117.3 1879.6 1129.3 1880.2 1130.3 1880.8 1118.2 1881.4 1118.5 1882.0 1120.9 1882.6 1122.3 1883.2 1123.3 1883.8 1130.2 1884.4 1128.2 1885.0 1120.7 1885.6 1128.8 1886.2 1129.8 1886.8 1136.1 1887.4 1122.9 1888.0 1125.5 1888.6 1126.5 1889.2 1109.2 1889.8 1121.6 1890.4 1136.3 1891.0 1125.3 1891.6 1123.8 1892.2 1115.0 1892.8 1125.7 1893.4 1113.2 1894.0 1114.1 1894.6 1127.3 1895.2 1129.3 1895.8 1126.0 1896.4 1111.4 1897.0 1111.5 1897.6 1118.9 1898.2 1124.2 1898.8 1128.3 1899.4 1133.9 1900.0 1110.8 1900.6 1130.1 1901.2 1126.6 1901.8 1112.6 1902.4 1116.9 1903.0 1118.0 1903.6 1117.3 1904.2 1121.3 1904.8 1104.1 1905.4 1114.9 1906.0 1132.1 1906.6 1124.6 1907.2 1122.1 1907.8 1120.2 1908.4 1112.3 1909.0 1132.2 1909.6 1130.5 1910.2 1132.1 1910.8 1123.1 1911.4 1122.0 1912.0 1136.3 1912.6 1136.1 1913.2 1124.0 1913.8 1125.4 1914.4 1106.7 1915.0 1113.9 1915.6 1129.0 1916.2 1119.0 1916.8 1111.4 1917.4 1120.6 1918.0 1109.1 1918.6 1129.2 1919.2 1133.1 1919.8 1130.8 1920.4 1103.9 1921.0 1102.7 1921.6 1128.7 1922.2 1132.3 1922.8 1137.0 1923.4 1118.9 1924.0 1120.8 1924.6 1127.7 1925.2 1119.6 1925.8 1129.8 1926.4 1119.2 1927.0 1106.2 1927.6 1107.9 1928.2 1127.1 1928.8 1112.9 1929.4 1113.7 1930.0 1104.9 1930.6 1114.9 1931.2 1129.6 1931.8 1107.1 1932.4 1132.5 1933.0 1114.8 1933.6 1133.6 1934.2 1122.3 1934.8 1127.4 1935.4 1115.3 1936.0 1116.9 1936.6 1110.6 1937.2 1114.8 1937.8 1107.9 1938.4 1138.0 1939.0 1137.4 1939.6 1127.1 1940.2 1112.9 1940.8 1114.0 1941.4 1130.7 1942.0 1119.8 1942.6 1127.3 1943.2 1133.0 1943.8 1117.6 1944.4 1120.8 1945.0 1125.0 1945.6 1108.3 1946.2 1107.8 1946.8 1118.6 1947.4 1126.2 1948.0 1121.6 1948.6 1131.6 1949.2 1127.4 1949.8 1123.7 1950.4 1125.3 1951.0 1112.3 1951.6 1112.3 1952.2 1107.8 1952.8 1122.6 1953.4 1119.1 1954.0 1114.1 1954.6 1135.4 1955.2 1115.9 1955.8 1104.3 1956.4 1115.6 1957.0 1116.4 1957.6 1106.1 1958.2 1123.7 1958.8 1121.8 1959.4 1133.4 1960.0 1127.8 1960.6 1116.8 1961.2 1124.9 1961.8 1123.6 1962.4 1126.3 1963.0 1119.0 1963.6 1113.8 1964.2 1136.1 1964.8 1132.7 1965.4 1129.0 1966.0 1106.8 1966.6 1117.4 1967.2 1113.7 1967.8 1127.1 1968.4 1111.0 1969.0 1136.1 1969.6 1134.2 1970.2 1114.2 1970.8 1125.2 1971.4 1109.5 1972.0 1100.5 1972.6 1124.7 1973.2 1119.4 1973.8 1110.1 1974.4 1118.4 1975.0 1129.6 1975.6 1123.5 1976.2 1126.1 1976.8 1117.3 1977.4 1109.9 1978.0 1126.9 1978.6 1114.2 1979.2 1112.6 1979.8 1110.4 1980.4 1129.4 1981.0 1108.0 1981.6 1128.1 1982.2 1121.9 1982.8 1111.3 1983.4 1126.8 1984.0 1125.0 1984.6 1109.1 1985.2 1115.8 1985.8 1116.2 1986.4 1119.1 1987.0 1132.3 1987.6 1124.8 1988.2 1130.3 1988.8 1128.3 1989.4 1128.0 1990.0 1119.1 1990.6 1125.4 1991.2 1123.6 1991.8 1127.9 1992.4 1105.6 1993.0 1123.1 1993.6 1117.0 1994.2 1124.0 1994.8 1105.9 1995.4 1100.1 1996.0 1122.4 1996.6 1128.1 1997.2 1124.3 1997.8 1122.2 1998.4 1113.7 1999.0 1120.9 1999.6 1113.4 2000.2 1113.5 2000.8 1118.8 2001.4 1105.4 2002.0 1114.8 2002.6 1125.0 2003.2 1117.9 2003.8 1108.4 2004.4 1117.4 2005.0 1116.0 2005.6 1129.1 2006.2 1119.9 2006.8 1125.2 2007.4 1133.4 2008.0 1118.2 2008.6 1118.0 2009.2 1110.7 2009.8 1120.6 2010.4 1114.2 2011.0 1116.6 2011.6 1128.2 2012.2 1115.3 2012.8 1113.5 2013.4 1125.5 2014.0 1120.7 2014.6 1123.2 2015.2 1126.2 2015.8 1116.8 2016.4 1126.7 2017.0 1106.8 2017.6 1127.0 2018.2 1124.4 2018.8 1119.8 2019.4 1139.4 2020.0 1119.1 2020.6 1106.1 2021.2 1130.6 2021.8 1128.1 2022.4 1133.0 2023.0 1106.5 2023.6 1130.3 2024.2 1127.8 2024.8 1127.5 2025.4 1125.8 2026.0 1112.5 2026.6 1111.2 2027.2 1122.6 2027.8 1125.8 2028.4 1125.8 2029.0 1114.0 2029.6 1123.9 2030.2 1126.0 2030.8 1125.0 2031.4 1124.0 2032.0 1116.1 2032.6 1118.9 2033.2 1110.5 2033.8 1124.4 2034.4 1133.9 2035.0 1130.1 2035.6 1114.1 2036.2 1123.2 2036.8 1110.3 2037.4 1119.3 2038.0 1117.7 2038.6 1113.6 2039.2 1114.5 2039.8 1117.0 2040.4 1115.2 2041.0 1130.9 2041.6 1123.0 2042.2 1107.1 2042.8 1107.3 2043.4 1119.2 2044.0 1107.6 2044.6 1127.5 2045.2 1120.2 2045.8 1112.9 2046.4 1098.5 2047.0 1112.3 2047.6 1117.4 2048.2 1109.8 2048.8 1124.4 2049.4 1118.3 2050.0 1127.5 2050.6 1117.2 2051.2 1108.6 2051.8 1115.2 2052.4 1132.3 2053.0 1130.3 2053.6 1126.5 2054.2 1121.8 2054.8 1109.2 2055.4 1109.2 2056.0 1112.8 2056.6 1109.4 2057.2 1121.7 2057.8 1113.2 2058.4 1122.0 2059.0 1107.6 2059.6 1114.4 2060.2 1111.4 2060.8 1118.0 2061.4 1127.2 2062.0 1122.3 2062.6 1107.0 2063.2 1102.7 2063.8 1124.0 2064.4 1111.3 2065.0 1116.7 2065.6 1127.1 2066.2 1123.8 2066.8 1127.8 2067.4 1117.8 2068.0 1116.2 2068.6 1115.3 2069.2 1111.6 2069.8 1118.2 2070.4 1128.3 2071.0 1122.5 2071.6 1117.5 2072.2 1127.5 2072.8 1128.5 2073.4 1114.1 2074.0 1123.0 2074.6 1120.2 2075.2 1123.1 2075.8 1122.8 2076.4 1133.3 2077.0 1104.4 2077.6 1100.7 2078.2 1119.5 2078.8 1105.6 2079.4 1122.3 2080.0 1104.0 2080.6 1112.4 2081.2 1125.4 2081.8 1126.4 2082.4 1114.1 2083.0 1118.8 2083.6 1110.1 2084.2 1118.5 2084.8 1115.7 2085.4 1125.2 2086.0 1119.1 2086.6 1104.4 2087.2 1116.9 2087.8 1124.3 2088.4 1113.1 2089.0 1129.8 2089.6 1121.5 2090.2 1120.0 2090.8 1110.4 2091.4 1120.8 2092.0 1116.0 2092.6 1121.8 2093.2 1128.2 2093.8 1117.5 2094.4 1128.4 2095.0 1127.0 2095.6 1128.1 2096.2 1122.8 2096.8 1116.8 2097.4 1116.2 2098.0 1124.7 2098.6 1108.7 2099.2 1103.9 2099.8 1126.5 2100.4 1125.6 2101.0 1115.9 2101.6 1126.4 2102.2 1134.4 2102.8 1119.8 2103.4 1107.7 2104.0 1106.4 2104.6 1118.0 2105.2 1112.0 2105.8 1111.4 2106.4 1117.4 2107.0 1114.2 2107.6 1125.1 2108.2 1133.4 2108.8 1122.4 2109.4 1126.7 2110.0 1109.3 2110.6 1122.0 2111.2 1118.5 2111.8 1109.1 2112.4 1111.5 2113.0 1126.0 2113.6 1127.5 2114.2 1104.5 2114.8 1108.1 2115.4 1112.6 2116.0 1120.4 2116.6 1127.5 2117.2 1102.1 2117.8 1105.7 2118.4 1128.4 2119.0 1109.7 2119.6 1118.1 2120.2 1129.5 2120.8 1117.3 2121.4 1131.4 2122.0 1120.3 2122.6 1117.1 2123.2 1128.2 2123.8 1116.6 2124.4 1106.0 2125.0 1109.8 2125.6 1125.4 2126.2 1122.9 2126.8 1117.4 2127.4 1113.7 2128.0 1101.2 2128.6 1110.9 2129.2 1110.4 2129.8 1125.0 2130.4 1120.7 2131.0 1103.0 2131.6 1121.2 2132.2 1122.4 2132.8 1128.2 2133.4 1130.1 2134.0 1116.0 2134.6 1118.4 2135.2 1112.7 2135.8 1106.1 2136.4 1122.3 2137.0 1104.8 2137.6 1118.9 2138.2 1127.7 2138.8 1113.7 2139.4 1119.0 2140.0 1106.9 2140.6 1128.5 2141.2 1113.4 2141.8 1113.3 2142.4 1124.0 2143.0 1094.8 2143.6 1119.0 2144.2 1104.6 2144.8 1122.4 2145.4 1111.5 2146.0 1126.1 2146.6 1116.4 2147.2 1110.0 2147.8 1105.2 2148.4 1119.6 2149.0 1103.4 2149.6 1112.3 2150.2 1113.9 2150.8 1131.2 2151.4 1107.7 2152.0 1108.0 2152.6 1120.0 2153.2 1110.1 2153.8 1116.0 2154.4 1124.5 2155.0 1119.6 2155.6 1127.1 2156.2 1108.8 2156.8 1132.7 2157.4 1112.6 2158.0 1111.3 2158.6 1117.9 2159.2 1120.7 2159.8 1110.5 2160.4 1109.6 2161.0 1129.4 2161.6 1109.8 2162.2 1120.5 2162.8 1112.6 2163.4 1114.3 2164.0 1117.1 2164.6 1115.9 2165.2 1116.1 2165.8 1112.8 2166.4 1112.1 2167.0 1113.3 2167.6 1124.2 2168.2 1126.7 2168.8 1124.3 2169.4 1114.0 2170.0 1120.9 2170.6 1114.4 2171.2 1105.7 2171.8 1115.9 2172.4 1104.3 2173.0 1108.4 2173.6 1124.3 2174.2 1125.1 2174.8 1124.3 2175.4 1120.7 2176.0 1109.5 2176.6 1101.8 2177.2 1127.2 2177.8 1103.3 2178.4 1125.7 2179.0 1121.9 2179.6 1103.7 2180.2 1118.1 2180.8 1118.1 2181.4 1109.5 2182.0 1127.9 2182.6 1110.4 2183.2 1116.4 2183.8 1105.4 2184.4 1125.5 2185.0 1119.8 2185.6 1107.0 2186.2 1104.2 2186.8 1127.9 2187.4 1108.2 2188.0 1126.3 2188.6 1128.1 2189.2 1110.7 2189.8 1106.5 2190.4 1107.0 2191.0 1114.2 2191.6 1110.2 2192.2 1093.4 2192.8 1097.5 2193.4 1122.0 2194.0 1117.0 2194.6 1113.3 2195.2 1128.1 2195.8 1108.7 2196.4 1103.8 2197.0 1117.7 2197.6 1115.4 2198.2 1113.3 2198.8 1120.5 2199.4 1100.5 2200.0 1103.6 2200.6 1111.4 2201.2 1104.3 2201.8 1104.0 2202.4 1104.2 2203.0 1098.5 2203.6 1096.7 2204.2 1094.3 2204.8 1091.1 2205.4 1086.3 2206.0 1084.5 2206.6 1083.3 2207.2 1083.1 2207.8 1084.1 2208.4 1085.9 2209.0 1088.8 2209.6 1093.0 2210.2 1088.4 2210.8 1099.4 2211.4 1105.7 2212.0 1103.6 2212.6 1107.2 2213.2 1115.4 2213.8 1119.1 2214.4 1096.9 2215.0 1098.2 2215.6 1097.2 2216.2 1107.4 2216.8 1089.9 2217.4 1110.1 2218.0 1122.4 2218.6 1117.4 2219.2 1112.1 2219.8 1114.9 2220.4 1113.1 2221.0 1121.1 2221.6 1118.6 2222.2 1119.2 2222.8 1111.1 2223.4 1103.1 2224.0 1095.4 2224.6 1104.2 2225.2 1126.2 2225.8 1108.9 2226.4 1109.2 2227.0 1122.4 2227.6 1121.6 2228.2 1112.4 2228.8 1122.0 2229.4 1115.2 2230.0 1118.5 2230.6 1107.1 2231.2 1104.8 2231.8 1108.5 2232.4 1116.2 2233.0 1109.9 2233.6 1101.5 2234.2 1125.5 2234.8 1095.0 2235.4 1112.0 2236.0 1128.0 2236.6 1119.8 2237.2 1120.3 2237.8 1120.5 2238.4 1112.6 2239.0 1125.2 2239.6 1113.6 2240.2 1101.0 2240.8 1124.4 2241.4 1115.5 2242.0 1129.7 2242.6 1107.2 2243.2 1108.3 2243.8 1121.6 2244.4 1106.1 2245.0 1110.7 2245.6 1124.6 2246.2 1105.0 2246.8 1109.3 2247.4 1126.4 2248.0 1116.1 2248.6 1103.1 2249.2 1110.4 2249.8 1120.5 2250.4 1114.0 2251.0 1126.1 2251.6 1122.0 2252.2 1125.7 2252.8 1114.4 2253.4 1120.4 2254.0 1121.8 2254.6 1130.0 2255.2 1127.1 2255.8 1116.2 2256.4 1125.0 2257.0 1128.6 2257.6 1111.2 2258.2 1120.5 2258.8 1120.8 2259.4 1117.7 2260.0 1124.9 2260.6 1125.8 2261.2 1103.9 2261.8 1102.9 2262.4 1120.9 2263.0 1104.8 2263.6 1115.1 2264.2 1123.0 2264.8 1117.7 2265.4 1129.5 2266.0 1110.9 2266.6 1113.1 2267.2 1112.2 2267.8 1115.7 2268.4 1126.6 2269.0 1115.8 2269.6 1121.8 2270.2 1123.3 2270.8 1122.8 2271.4 1115.4 2272.0 1119.7 2272.6 1128.1 2273.2 1119.5 2273.8 1106.7 2274.4 1109.4 2275.0 1113.1 2275.6 1109.0 2276.2 1122.6 2276.8 1112.9 2277.4 1131.2 2278.0 1114.2 2278.6 1126.3 2279.2 1117.2 2279.8 1122.7 2280.4 1109.1 2281.0 1111.8 2281.6 1116.0 2282.2 1129.1 2282.8 1117.6 2283.4 1119.7 2284.0 1116.2 2284.6 1106.4 2285.2 1109.5 2285.8 1116.3 2286.4 1114.6 2287.0 1132.2 2287.6 1119.1 2288.2 1129.8 2288.8 1126.8 2289.4 1127.3 2290.0 1105.5 2290.6 1100.8 2291.2 1126.8 2291.8 1110.7 2292.4 1112.7 2293.0 1124.6 2293.6 1127.8 2294.2 1131.0 2294.8 1125.8 2295.4 1120.2 2296.0 1107.9 2296.6 1119.3 2297.2 1130.4 2297.8 1123.9 2298.4 1122.2 2299.0 1109.7 2299.6 1113.4 2300.2 1129.1 2300.8 1114.7 2301.4 1135.9 2302.0 1105.5 2302.6 1131.3 2303.2 1130.0 2303.8 1104.6 2304.4 1116.7 2305.0 1128.2 2305.6 1120.5 2306.2 1114.2 2306.8 1125.0 2307.4 1127.4 2308.0 1124.3 2308.6 1117.7 2309.2 1136.2 2309.8 1110.0 2310.4 1117.6 2311.0 1120.1 2311.6 1109.0 2312.2 1122.5 2312.8 1118.6 2313.4 1117.7 2314.0 1108.6 2314.6 1108.6 2315.2 1126.0 2315.8 1103.0 2316.4 1122.3 2317.0 1119.2 2317.6 1125.4 2318.2 1113.7 2318.8 1101.6 2319.4 1119.5 2320.0 1105.4 2320.6 1129.8 2321.2 1108.3 2321.8 1126.6 2322.4 1112.9 2323.0 1115.1 2323.6 1111.5 2324.2 1105.4 2324.8 1125.2 2325.4 1121.8 2326.0 1123.9 2326.6 1115.1 2327.2 1121.3 2327.8 1112.5 2328.4 1128.4 2329.0 1103.6 2329.6 1110.5 2330.2 1119.7 2330.8 1109.9 2331.4 1118.4 2332.0 1110.6 2332.6 1138.4 2333.2 1123.8 2333.8 1124.0 2334.4 1117.7 2335.0 1123.7 2335.6 1121.4 2336.2 1134.3 2336.8 1107.1 2337.4 1118.8 2338.0 1108.9 2338.6 1120.8 2339.2 1126.8 2339.8 1119.3 2340.4 1109.2 2341.0 1119.9 2341.6 1124.2 2342.2 1109.4 2342.8 1104.0 2343.4 1125.7 2344.0 1119.6 2344.6 1115.0 2345.2 1117.3 2345.8 1105.6 2346.4 1133.3 2347.0 1128.1 2347.6 1117.1 2348.2 1106.4 2348.8 1117.3 2349.4 1123.3 2350.0 1130.5 2350.6 1108.9 2351.2 1108.6 2351.8 1116.8 2352.4 1104.5 2353.0 1109.0 2353.6 1113.5 2354.2 1101.5 2354.8 1122.8 2355.4 1116.9 2356.0 1127.3 2356.6 1112.8 2357.2 1108.6 2357.8 1127.9 2358.4 1122.8 2359.0 1114.8 2359.6 1106.7 2360.2 1115.1 2360.8 1127.6 2361.4 1120.1 2362.0 1128.7 2362.6 1108.5 2363.2 1119.3 2363.8 1125.2 2364.4 1127.5 2365.0 1106.5 2365.6 1130.4 2366.2 1104.6 2366.8 1127.6 2367.4 1112.0 2368.0 1115.1 2368.6 1128.6 2369.2 1114.9 2369.8 1122.4 2370.4 1111.3 2371.0 1117.5 2371.6 1112.0 2372.2 1114.3 2372.8 1105.3 2373.4 1121.7 2374.0 1128.2 2374.6 1119.2 2375.2 1131.6 2375.8 1102.9 2376.4 1106.4 2377.0 1125.2 2377.6 1107.4 2378.2 1105.9 2378.8 1115.4 2379.4 1106.7 2380.0 1118.0 2380.6 1110.8 2381.2 1102.4 2381.8 1114.2 2382.4 1125.5 2383.0 1117.0 2383.6 1122.2 2384.2 1125.1 2384.8 1115.6 2385.4 1115.6 2386.0 1122.3 2386.6 1105.8 2387.2 1124.7 2387.8 1125.1 2388.4 1118.2 2389.0 1130.5 2389.6 1122.9 2390.2 1130.4 2390.8 1114.8 2391.4 1106.2 2392.0 1123.2 2392.6 1102.6 2393.2 1124.6 2393.8 1123.2 2394.4 1129.5 2395.0 1120.5 2395.6 1108.3 2396.2 1105.9 2396.8 1127.3 2397.4 1109.1 2398.0 1130.4 2398.6 1127.1 2399.2 1113.3 2399.8 1123.6 2400.4 1100.3 2401.0 1124.6 2401.6 1125.4 2402.2 1100.7 2402.8 1125.7 2403.4 1118.7 2404.0 1110.1 2404.6 1126.9 2405.2 1103.2 2405.8 1116.4 2406.4 1105.9 2407.0 1123.3 2407.6 1124.8 2408.2 1115.1 2408.8 1121.7 2409.4 1124.2 2410.0 1101.4 2410.6 1110.5 2411.2 1125.8 2411.8 1113.1 2412.4 1116.8 2413.0 1125.4 2413.6 1099.9 2414.2 1110.6 2414.8 1102.6 2415.4 1099.0 2416.0 1107.6 2416.6 1123.2 2417.2 1117.0 2417.8 1115.5 2418.4 1117.3 2419.0 1116.2 2419.6 1089.7 2420.2 1124.7 2420.8 1130.3 2421.4 1113.3 2422.0 1121.7 2422.6 1116.9 2423.2 1105.5 2423.8 1121.0 2424.4 1105.4 2425.0 1125.1 2425.6 1103.8 2426.2 1123.0 2426.8 1100.2"/>
<path stroke="#000000" d="M199.0 1605.3L199.6 1593.8 200.2 1609.8 200.8 1583.9 201.4 1583.9 202.0 1588.9 202.6 1602.0 203.2 1582.2 203.8 1599.8 204.4 1593.0 205.0 1602.5 205.6 1589.8 206.2 1588.2 206.8 1594.0 207.4 1603.9 208.0 1583.9 208.6 1606.1 209.2 1599.6 209.8 1579.7 210.4 1587.7 211.0 1594.3 211.6 1603.9 212.2 1589.4 212.8 1584.1 213.4 1589.7 214.0 1588.2 214.6 1592.1 215.2 1602.9 215.8 1577.2 216.4 1585.4 217.0 1591.9 217.6 1592.4 218.2 1588.1 218.8 1575.4 219.4 1574.8 220.0 1603.4 220.6 1591.9 221.2 1593.4 221.8 1587.3 222.4 1571.2 223.0 1593.0 223.6 1591.4 224.2 1578.5 224.8 1582.4 225.4 1586.9 226.0 1577.2 226.6 1581.2 227.2 1599.9 227.8 1595.0 228.4 1577.9 229.0 1588.6 229.6 1570.7 230.2 1598.8 230.8 1596.1 231.4 1597.3 232.0 1580.2 232.6 1586.9 233.2 1577.9 233.8 1600.8 234.4 1585.8 235.0 1577.4 235.6 1600.2 236.2 1595.0 236.8 1582.9 237.4 1579.7 238.0 1595.1 238.6 1571.9 239.2 1586.4 239.8 1600.3 240.4 1593.3 241.0 1579.2 241.6 1572.9 242.2 1598.8 242.8 1585.6 243.4 1578.6 244.0 1584.7 244.6 1567.4 245.2 1595.2 245.8 1587.0 246.4 1585.7 247.0 1576.8 247.6 1592.9 248.2 1574.8 248.8 1583.7 249.4 1578.8 250.0 1587.4 250.6 1585.9 251.2 1585.9 251.8 1564.7 252.4 1576.6 253.0 1566.6 253.6 1578.3 254.2 1585.5 254.8 1580.8 255.4 1594.4 256.0 1580.6 256.6 1583.0 257.2 1592.3 257.8 1598.4 258.4 1589.9 259.0 1568.9 259.6 1576.1 260.2 1591.9 260.8 1584.4 261.4 1598.3 262.0 1581.2 262.6 1586.1 263.2 1589.2 263.8 1574.9 264.4 1583.4 265.0 1578.4 265.6 1583.3 266.2 1601.8 266.8 1601.6 267.4 1595.3 268.0 1582.7 268.6 1569.9 269.2 1574.5 269.8 1581.3 270.4 1595.5 271.0 1577.6 271.6 1583.9 272.2 1591.8 272.8 1577.0 273.4 1581.2 274.0 1583.6 274.6 1581.8 275.2 1591.9 275.8 1584.7 276.4 1571.7 277.0 1590.4 277.6 1597.0 278.2 1584.8 278.8 1579.9 279.4 1582.1 280.0 1586.1 280.6 1573.5 281.2 1589.4 281.8 1568.5 282.4 1588.6 283.0 1579.1 283.6 1583.4 284.2 1575.2 284.8 1583.0 285.4 1592.2 286.0 1592.1 286.6 1582.2 287.2 1597.7 287.8 1579.5 288.4 1591.7 289.0 1570.2 289.6 1597.0 290.2 1594.6 290.8 1580.4 291.4 1581.3 292.0 1562.8 292.6 1581.3 293.2 1586.7 293.8 1579.2 294.4 1585.3 295.0 1585.9 295.6 1579.4 296.2 1594.3 296.8 1572.7 297.4 1582.4 298.0 1578.0 298.6 1579.2 299.2 1579.5 299.8 1585.8 300.4 1592.3 301.0 1579.7 301.6 1586.5 302.2 1592.2 302.8 1579.6 303.4 1569.0 304.0 1577.7 304.6 1556.5 305.2 1582.3 305.8 1592.3 306.4 1576.5 307.0 1590.6 307.6 1564.6 308.2 1592.7 308.8 1568.3 309.4 1587.5 310.0 1564.9 310.6 1576.5 311.2 1571.2 311.8 1562.2 312.4 1581.3 313.0 1588.4 313.6 1563.6 314.2 1581.7 314.8 1572.3 315.4 1593.7 316.0 1579.9 316.6 1578.9 317.2 1574.3 317.8 1578.7 318.4 1578.6 319.0 1588.9 319.6 1584.6 320.2 1590.3 320.8 1568.4 321.4 1592.7 322.0 1574.4 322.6 1592.0 323.2 1577.3 323.8 1579.1 324.4 1588.9 325.0 1567.1 325.6 1582.6 326.2 1569.6 326.8 1588.0 327.4 1570.5 328.0 1569.5 328.6 1572.9 329.2 1582.7 329.8 1570.9 330.4 1581.1 331.0 1580.6 331.6 1562.8 332.2 1591.8 332.8 1568.9 333.4 1588.8 334.0 1579.1 334.6 1598.0 335.2 1582.8 335.8 1577.0 336.4 1578.0 337.0 1585.4 337.6 1591.3 338.2 1562.7 338.8 1564.8 339.4 1571.3 340.0 1581.7 340.6 1561.2 341.2 1579.9 341.8 1568.2 342.4 1578.8 343.0 1572.0 343.6 1581.5 344.2 1568.9 344.8 1560.4 345.4 1564.6 346.0 1569.8 346.6 1565.2 347.2 1564.2 347.8 1595.0 348.4 1565.3 349.0 1583.0 349.6 1578.2 350.2 1569.9 350.8 1587.3 351.4 1563.6 352.0 1565.2 352.6 1565.2 353.2 1578.5 353.8 1584.3 354.4 1561.5 355.0 1563.1 355.6 1564.3 356.2 1567.7 356.8 1586.7 357.4 1584.5 358.0 1595.1 358.6 1575.0 359.2 1573.4 359.8 1562.9 360.4 1586.9 361.0 1593.9 361.6 1586.8 362.2 1581.0 362.8 1588.0 363.4 1579.7 364.0 1591.7 364.6 1569.9 365.2 1593.0 365.8 1583.8 366.4 1580.4 367.0 1587.3 367.6 1587.4 368.2 1572.7 368.8 1563.8 369.4 1566.5 370.0 1561.4 370.6 1589.5 371.2 1578.5 371.8 1582.5 372.4 1589.9 373.0 1581.9 373.6 1588.3 374.2 1584.0 374.8 1586.1 375.4 1590.4 376.0 1575.6 376.6 1586.8 377.2 1587.2 377.8 1567.2 378.4 1560.7 379.0 1568.5 379.6 1593.9 380.2 1580.5 380.8 1564.7 381.4 1599.1 382.0 1572.8 382.6 1576.9 383.2 1561.1 383.8 1580.9 384.4 1593.3 385.0 1578.1 385.6 1588.1 386.2 1599.8 386.8 1552.6 387.4 1581.1 388.0 1567.4 388.6 1580.1 389.2 1587.6 389.8 1573.4 390.4 1587.9 391.0 1575.5 391.6 1578.3 392.2 1590.1 392.8 1579.4 393.4 1574.0 394.0 1594.4 394.6 1574.2 395.2 1564.9 395.8 1590.0 396.4 1582.6 397.0 1568.0 397.6 1580.9 398.2 1597.0 398.8 1566.7 399.4 1590.6 400.0 1560.6 400.6 1590.8 401.2 1575.0 401.8 1576.4 402.4 1565.8 403.0 1576.7 403.6 1574.7 404.2 1585.2 404.8 1588.2 405.4 1568.6 406.0 1572.0 406.6 1569.3 407.2 1583.8 407.8 1564.2 408.4 1581.0 409.0 1567.0 409.6 1580.2 410.2 1575.5 410.8 1578.9 411.4 1588.6 412.0 1573.7 412.6 1581.8 413.2 1590.5 413.8 1579.9 414.4 1586.6 415.0 1587.4 415.6 1592.2 416.2 1557.5 416.8 1591.8 417.4 1578.4 418.0 1588.6 418.6 1568.9 419.2 1566.1 419.8 1583.0 420.4 1585.9 421.0 1589.6 421.6 1571.3 422.2 1566.5 422.8 1585.3 423.4 1568.5 424.0 1590.9 424.6 1568.4 425.2 1566.9 425.8 1583.0 426.4 1570.5 427.0 1589.6 427.6 1569.4 428.2 1577.5 428.8 1579.3 429.4 1577.1 430.0 1564.4 430.6 1575.0 431.2 1576.3 431.8 1573.0 432.4 1584.3 433.0 1569.6 433.6 1563.1 434.2 1572.2 434.8 1588.1 435.4 1591.9 436.0 1583.2 436.6 1587.1 437.2 1577.1 437.8 1591.4 438.4 1587.5 439.0 1578.8 439.6 1593.6 440.2 1594.4 440.8 1586.4 441.4 1581.4 442.0 1571.2 442.6 1577.7 443.2 1567.0 443.8 1579.0 444.4 1593.1 445.0 1589.9 445.6 1570.8 446.2 1579.6 446.8 1570.1 447.4 1582.8 448.0 1600.2 448.6 1567.9 449.2 1585.0 449.8 1578.5 450.4 1592.5 451.0 1590.7 451.6 1568.4 452.2 1573.5 452.8 1581.0 453.4 1596.1 454.0 1592.4 454.6 1580.5 455.2 1599.3 455.8 1584.7 456.4 1593.1 457.0 1576.9 457.6 1576.5 458.2 1591.1 458.8 1586.2 459.4 1584.4 460.0 1572.2 460.6 1575.3 461.2 1595.6 461.8 1577.7 462.4 1568.3 463.0 1569.9 463.6 1579.2 464.2 1598.1 464.8 1581.5 465.4 1573.8 466.0 1586.0 466.6 1578.0 467.2 1582.9 467.8 1580.9 468.4 1580.7 469.0 1593.8 469.6 1576.4 470.2 1577.5 470.8 1583.4 471.4 1585.9 472.0 1597.6 472.6 1574.0 473.2 1593.5 473.8 1587.3 474.4 1583.2 475.0 1569.8 475.6 1581.6 476.2 1587.5 476.8 1573.7 477.4 1575.2 478.0 1573.4 478.6 1594.2 479.2 1580.8 479.8 1584.3 480.4 1584.5 481.0 1585.2 481.6 1580.7 482.2 1581.9 482.8 1568.3 483.4 1599.1 484.0 1574.7 484.6 1589.9 485.2 1582.9 485.8 1595.4 486.4 1577.2 487.0 1586.0 487.6 1574.8 488.2 1573.6 488.8 1585.3 489.4 1593.1 490.0 1579.5 490.6 1593.1 491.2 1591.6 491.8 1581.3 492.4 1581.2 493.0 1567.4 493.6 1583.6 494.2 1566.4 494.8 1584.1 495.4 1601.4 496.0 1572.2 496.6 1598.5 497.2 1583.5 497.8 1573.3 498.4 1590.9 499.0 1587.8 499.6 1588.2 500.2 1580.9 500.8 1577.4 501.4 1564.0 502.0 1566.4 502.6 1586.6 503.2 1579.1 503.8 1568.3 504.4 1573.7 505.0 1581.1 505.6 1569.9 506.2 1572.7 506.8 1585.6 507.4 1572.8 508.0 1584.8 508.6 1596.3 509.2 1562.7 509.8 1585.4 510.4 1570.0 511.0 1589.4 511.6 1586.2 512.2 1579.3 512.8 1593.5 513.4 1595.8 514.0 1590.1 514.6 1573.2 515.2 1593.2 515.8 1591.9 516.4 1579.7 517.0 1572.4 517.6 1578.8 518.2 1572.5 518.8 1566.4 519.4 1590.0 520.0 1598.3 520.6 1583.1 521.2 1577.4 521.8 1598.5 522.4 1591.6 523.0 1575.8 523.6 1585.1 524.2 1593.9 524.8 1590.9 525.4 1583.5 526.0 1587.9 526.6 1559.8 527.2 1595.0 527.8 1582.0 528.4 1586.9 529.0 1595.7 529.6 1577.0 530.2 1577.2 530.8 1580.0 531.4 1583.1 532.0 1571.1 532.6 1599.2 533.2 1594.1 533.8 1590.2 534.4 1579.2 535.0 1584.6 535.6 1593.3 536.2 1583.6 536.8 1586.0 537.4 1592.9 538.0 1577.9 538.6 1574.8 539.2 1581.4 539.8 1599.6 540.4 1601.3 541.0 1573.6 541.6 1592.9 542.2 1567.1 542.8 1585.8 543.4 1574.5 544.0 1582.5 544.6 1594.6 545.2 1578.7 545.8 1583.0 546.4 1586.3 547.0 1601.4 547.6 1590.7 548.2 1577.7 548.8 1598.2 549.4 1583.5 550.0 1569.9 550.6 1576.6 551.2 1595.3 551.8 1597.9 552.4 1579.5 553.0 1591.8 553.6 1575.8 554.2 1596.2 554.8 1570.4 555.4 1591.6 556.0 1589.2 556.6 1599.8 557.2 1585.0 557.8 1598.8 558.4 1594.7 559.0 1579.0 559.6 1587.0 560.2 1580.9 560.8 1588.3 561.4 1588.5 562.0 1577.5 562.6 1594.7 563.2 1573.3 563.8 1584.6 564.4 1577.1 565.0 1576.7 565.6 1591.9 566.2 1589.2 566.8 1583.8 567.4 1596.8 568.0 1582.5 568.6 1584.8 569.2 1574.4 569.8 1586.9 570.4 1574.3 571.0 1592.1 571.6 1594.8 572.2 1590.7 572.8 1597.6 573.4 1588.3 574.0 1573.8 574.6 1581.3 575.2 1595.0 575.8 1596.0 576.4 1593.6 577.0 1580.6 577.6 1579.3 578.2 1588.5 578.8 1579.6 579.4 1587.3 580.0 1586.0 580.6 1596.9 581.2 1581.8 581.8 1592.2 582.4 1585.2 583.0 1592.3 583.6 1576.2 584.2 1584.5 584.8 1597.3 585.4 1590.9 586.0 1593.5 586.6 1590.4 587.2 1585.8 587.8 1585.9 588.4 1583.6 589.0 1595.0 589.6 1581.1 590.2 1587.9 590.8 1586.6 591.4 1578.2 592.0 1581.7 592.6 1596.0 593.2 1598.3 593.8 1583.5 594.4 1587.6 595.0 1583.2 595.6 1589.8 596.2 1586.7 596.8 1587.6 597.4 1578.5 598.0 1602.4 598.6 1573.6 599.2 1586.2 599.8 1602.0 600.4 1578.1 601.0 1589.2 601.6 1579.1 602.2 1592.2 602.8 1583.2 603.4 1577.1 604.0 1591.8 604.6 1571.3 605.2 1586.7 605.8 1576.7 606.4 1602.3 607.0 1592.2 607.6 1588.6 608.2 1576.8 608.8 1592.4 609.4 1583.5 610.0 1583.2 610.6 1594.2 611.2 1575.0 611.8 1579.1 612.4 1597.7 613.0 1588.8 613.6 1602.9 614.2 1597.9 614.8 1602.5 615.4 1600.4 616.0 1581.1 616.6 1597.8 617.2 1593.1 617.8 1577.6 618.4 1582.4 619.0 1581.6 619.6 1601.7 620.2 1591.1 620.8 1590.3 621.4 1589.2 622.0 1598.8 622.6 1588.6 623.2 1585.4 623.8 1597.5 624.4 1585.7 625.0 1577.8 625.6 1582.1 626.2 1600.3 626.8 1596.2 627.4 1590.0 628.0 1584.3 628.6 1590.2 629.2 1586.2 629.8 1586.7 630.4 1591.5 631.0 1583.2 631.6 1601.7 632.2 1578.9 632.8 1576.9 633.4 1599.9 634.0 1594.5 634.6 1598.7 635.2 1584.2 635.8 1593.2 636.4 1581.1 637.0 1590.8 637.6 1591.6 638.2 1601.5 638.8 1584.1 639.4 1594.6 640.0 1584.7 640.6 1596.8 641.2 1588.6 641.8 1593.6 642.4 1603.2 643.0 1585.5 643.6 1586.0 644.2 1597.4 644.8 1585.3 645.4 1584.5 646.0 1597.6 646.6 1595.7 647.2 1599.7 647.8 1588.1 648.4 1578.7 649.0 1578.6 649.6 1582.5 650.2 1583.0 650.8 1589.8 651.4 1603.1 652.0 1593.5 652.6 1586.4 653.2 1608.0 653.8 1596.5 654.4 1596.6 655.0 1600.5 655.6 1600.0 656.2 1585.9 656.8 1607.1 657.4 1590.5 658.0 1590.7 658.6 1597.0 659.2 1573.8 659.8 1592.9 660.4 1597.7 661.0 1589.5 661.6 1584.8 662.2 1595.7 662.8 1576.4 663.4 1594.5 664.0 1582.9 664.6 1589.6 665.2 1575.1 665.8 1597.4 666.4 1583.2 667.0 1604.7 667.6 1590.5 668.2 1600.8 668.8 1589.1 669.4 1594.7 670.0 1598.3 670.6 1581.9 671.2 1598.3 671.8 1604.2 672.4 1589.3 673.0 1588.1 673.6 1573.8 674.2 1600.7 674.8 1598.5 675.4 1592.6 676.0 1601.3 676.6 1578.6 677.2 1589.4 677.8 1600.7 678.4 1586.5 679.0 1592.0 679.6 1600.1 680.2 1605.0 680.8 1599.2 681.4 1583.5 682.0 1599.9 682.6 1598.0 683.2 1588.1 683.8 1586.8 684.4 1599.1 685.0 1590.4 685.6 1589.1 686.2 1587.3 686.8 1587.6 687.4 1600.1 688.0 1589.5 688.6 1597.3 689.2 1578.8 689.8 1606.6 690.4 1592.2 691.0 1592.5 691.6 1596.6 692.2 1595.0 692.8 1602.7 693.4 1596.3 694.0 1606.2 694.6 1593.2 695.2 1599.8 695.8 1603.3 696.4 1588.9 697.0 1587.7 697.6 1604.7 698.2 1589.6 698.8 1606.1 699.4 1582.7 700.0 1588.8 700.6 1578.7 701.2 1598.3 701.8 1591.0 702.4 1592.4 703.0 1592.1 703.6 1587.4 704.2 1588.3 704.8 1581.9 705.4 1587.3 706.0 1591.6 706.6 1602.1 707.2 1588.0 707.8 1590.8 708.4 1601.6 709.0 1612.4 709.6 1592.5 710.2 1585.3 710.8 1590.7 711.4 1583.6 712.0 1595.8 712.6 1593.6 713.2 1575.8 713.8 1596.7 714.4 1597.7 715.0 1588.3 715.6 1579.7 716.2 1594.8 716.8 1599.7 717.4 1606.6 718.0 1596.5 718.6 1580.9 719.2 1592.1 719.8 1583.3 720.4 1578.5 721.0 1596.0 721.6 1584.1 722.2 1591.8 722.8 1577.0 723.4 1597.7 724.0 1601.9 724.6 1591.5 725.2 1595.4 725.8 1584.2 726.4 1578.4 727.0 1576.6 727.6 1579.0 728.2 1580.9 728.8 1605.4 729.4 1603.0 730.0 1594.8 730.6 1588.2 731.2 1594.6 731.8 1595.3 732.4 1586.5 733.0 1588.4 733.6 1607.2 734.2 1590.4 734.8 1583.9 735.4 1585.5 736.0 1606.2 736.6 1589.1 737.2 1596.1 737.8 1596.5 738.4 1590.5 739.0 1603.8 739.6 1586.0 740.2 1597.1 740.8 1595.6 741.4 1586.1 742.0 1584.5 742.6 1590.7 743.2 1605.5 743.8 1582.4 744.4 1606.2 745.0 1583.5 745.6 1590.2 746.2 1586.8 746.8 1584.4 747.4 1609.1 748.0 1602.4 748.6 1585.9 749.2 1599.3 749.8 1594.5 750.4 1601.1 751.0 1598.9 751.6 1586.5 752.2 1607.8 752.8 1601.7 753.4 1585.1 754.0 1586.9 754.6 1581.6 755.2 1592.0 755.8 1599.5 756.4 1605.6 757.0 1601.1 757.6 1603.2 758.2 1603.2 758.8 1590.6 759.4 1602.8 760.0 1596.3 760.6 1590.6 761.2 1597.1 761.8 1603.8 762.4 1594.1 763.0 1614.2 763.6 1603.0 764.2 1609.5 764.8 1578.9 765.4 1591.6 766.0 1588.3 766.6 1583.8 767.2 1603.0 767.8 1593.8 768.4 1592.8 769.0 1602.8 769.6 1588.3 770.2 1602.0 770.8 1601.7 771.4 1608.3 772.0 1575.6 772.6 1589.0 773.2 1607.7 773.8 1602.2 774.4 1581.6 775.0 1605.9 775.6 1605.9 776.2 1598.8 776.8 1580.2 777.4 1600.1 778.0 1584.5 778.6 1592.7 779.2 1595.5 779.8 1608.0 780.4 1589.8 781.0 1595.5 781.6 1592.5 782.2 1590.1 782.8 1588.7 783.4 1600.8 784.0 1600.6 784.6 1589.4 785.2 1582.4 785.8 1596.7 786.4 1595.9 787.0 1584.9 787.6 1603.1 788.2 1585.0 788.8 1606.2 789.4 1603.6 790.0 1594.2 790.6 1605.1 791.2 1580.2 791.8 1589.7 792.4 1590.7 793.0 1599.7 793.6 1599.2 794.2 1607.6 794.8 1590.6 795.4 1588.5 796.0 1610.3 796.6 1599.3 797.2 1595.0 797.8 1595.5 798.4 1610.1 799.0 1601.2 799.6 1591.5 800.2 1596.0 800.8 1595.6 801.4 1603.0 802.0 1591.2 802.6 1595.4 803.2 1588.3 803.8 1593.5 804.4 1593.3 805.0 1590.2 805.6 1590.2 806.2 1585.6 806.8 1591.4 807.4 1589.8 808.0 1598.5 808.6 1585.5 809.2 1610.3 809.8 1602.0 810.4 1586.7 811.0 1606.6 811.6 1606.7 812.2 1583.4 812.8 1602.5 813.4 1608.0 814.0 1582.4 814.6 1588.6 815.2 1585.0 815.8 1600.5 816.4 1597.1 817.0 1589.5 817.6 1589.6 818.2 1594.8 818.8 1593.1 819.4 1593.9 820.0 1594.3 820.6 1610.6 821.2 1604.8 821.8 1597.9 822.4 1594.9 823.0 1600.5 823.6 1603.9 824.2 1590.4 824.8 1605.4 825.4 1600.9 826.0 1604.1 826.6 1598.4 827.2 1603.7 827.8 1594.8 828.4 1584.9 829.0 1607.4 829.6 1584.7 830.2 1603.9 830.8 1591.5 831.4 1604.3 832.0 1591.4 832.6 1596.0 833.2 1598.8 833.8 1603.9 834.4 1601.7 835.0 1594.3 835.6 1601.6 836.2 1589.6 836.8 1589.8 837.4 1604.3 838.0 1581.1 838.6 1588.8 839.2 1616.3 839.8 1612.4 840.4 1598.8 841.0 1591.1 841.6 1607.0 842.2 1612.1 842.8 1600.1 843.4 1599.4 844.0 1585.5 844.6 1603.7 845.2 1587.1 845.8 1603.9 846.4 1599.0 847.0 1595.9 847.6 1608.4 848.2 1599.5 848.8 1603.1 849.4 1595.9 850.0 1594.1 850.6 1608.3 851.2 1608.4 851.8 1591.8 852.4 1600.3 853.0 1601.2 853.6 1585.9 854.2 1595.7 854.8 1596.6 855.4 1598.1 856.0 1585.4 856.6 1597.0 857.2 1599.5 857.8 1601.9 858.4 1601.3 859.0 1608.6 859.6 1592.7 860.2 1598.9 860.8 1583.3 861.4 1603.0 862.0 1608.6 862.6 1606.6 863.2 1603.7 863.8 1593.2 864.4 1609.3 865.0 1598.9 865.6 1606.1 866.2 1584.8 866.8 1609.6 867.4 1598.0 868.0 1583.0 868.6 1595.1 869.2 1605.5 869.8 1590.3 870.4 1586.4 871.0 1604.3 871.6 1596.3 872.2 1597.2 872.8 1586.2 873.4 1581.3 874.0 1597.4 874.6 1602.9 875.2 1600.1 875.8 1600.5 876.4 1595.0 877.0 1594.6 877.6 1602.0 878.2 1591.8 878.8 1594.2 879.4 1587.5 880.0 1586.6 880.6 1590.8 881.2 1589.7 881.8 1602.9 882.4 1601.0 883.0 1599.1 883.6 1604.2 884.2 1608.4 884.8 1593.8 885.4 1596.1 886.0 1600.9 886.6 1584.9 887.2 1595.4 887.8 1593.8 888.4 1608.1 889.0 1584.8 889.6 1598.8 890.2 1613.4 890.8 1587.4 891.4 1602.2 892.0 1602.6 892.6 1592.7 893.2 1588.0 893.8 1605.6 894.4 1589.5 895.0 1588.3 895.6 1611.8 896.2 1585.7 896.8 1597.1 897.4 1585.6 898.0 1597.7 898.6 1610.3 899.2 1597.9 899.8 1594.4 900.4 1593.6 901.0 1588.1 901.6 1602.7 902.2 1611.7 902.8 1591.4 903.4 1597.4 904.0 1600.4 904.6 1601.1 905.2 1596.9 905.8 1607.8 906.4 1602.3 907.0 1601.5 907.6 1592.0 908.2 1611.0 908.8 1606.6 909.4 1601.6 910.0 1596.7 910.6 1582.9 911.2 1604.0 911.8 1601.8 912.4 1596.7 913.0 1595.3 913.6 1592.8 914.2 1601.8 914.8 1587.7 915.4 1589.7 916.0 1599.2 916.6 1594.1 917.2 1588.3 917.8 1599.8 918.4 1602.9 919.0 1613.9 919.6 1602.8 920.2 1598.3 920.8 1605.0 921.4 1612.2 922.0 1603.6 922.6 1608.2 923.2 1594.0 923.8 1595.7 924.4 1590.0 925.0 1589.6 925.6 1588.6 926.2 1586.0 926.8 1603.7 927.4 1603.0 928.0 1608.2 928.6 1605.7 929.2 1582.5 929.8 1602.2 930.4 1593.9 931.0 1594.0 931.6 1605.1 932.2 1591.8 932.8 1582.7 933.4 1604.8 934.0 1603.4 934.6 1609.0 935.2 1590.7 935.8 1593.9 936.4 1587.4 937.0 1592.3 937.6 1600.1 938.2 1600.0 938.8 1591.0 939.4 1609.0 940.0 1586.0 940.6 1605.9 941.2 1593.3 941.8 1588.3 942.4 1605.8 943.0 1593.5 943.6 1605.7 944.2 1593.5 944.8 1586.2 945.4 1591.4 946.0 1597.6 946.6 1608.2 947.2 1593.6 947.8 1589.8 948.4 1581.9 949.0 1595.5 949.6 1590.9 950.2 1593.0 950.8 1600.7 951.4 1611.5 952.0 1594.0 952.6 1589.2 953.2 1596.2 953.8 1603.8 954.4 1594.9 955.0 1582.3 955.6 1606.3 956.2 1590.8 956.8 1604.5 957.4 1612.9 958.0 1588.1 958.6 1599.1 959.2 1603.7 959.8 1603.0 960.4 1601.3 961.0 1591.9 961.6 1602.2 962.2 1585.2 962.8 1606.5 963.4 1607.4 964.0 1603.6 964.6 1585.9 965.2 1603.4 965.8 1608.0 966.4 1602.1 967.0 1597.6 967.6 1582.2 968.2 1579.4 968.8 1608.0 969.4 1605.2 970.0 1585.4 970.6 1583.6 971.2 1592.4 971.8 1590.1 972.4 1594.0 973.0 1603.1 973.6 1610.9 974.2 1587.8 974.8 1598.4 975.4 1582.8 976.0 1590.1 976.6 1582.3 977.2 1579.6 977.8 1587.3 978.4 1584.0 979.0 1586.5 979.6 1579.7 980.2 1603.9 980.8 1578.9 981.4 1589.7 982.0 1604.7 982.6 1593.0 983.2 1586.7 983.8 1609.6 984.4 1599.2 985.0 1601.1 985.6 1592.5 986.2 1603.8 986.8 1604.9 987.4 1589.2 988.0 1602.0 988.6 1599.6 989.2 1581.5 989.8 1609.1 990.4 1577.7 991.0 1594.9 991.6 1605.3 992.2 1605.2 992.8 1590.1 993.4 1591.5 994.0 1601.0 994.6 1606.7 995.2 1599.9 995.8 1592.7 996.4 1601.4 997.0 1592.5 997.6 1599.9 998.2 1608.0 998.8 1591.1 999.4 1584.4 1000.0 1585.5 1000.6 1599.4 1001.2 1597.3 1001.8 1582.4 1002.4 1584.3 1003.0 1603.1 1003.6 1602.5 1004.2 1594.3 1004.8 1582.8 1005.4 1599.9 1006.0 1584.3 1006.6 1591.6 1007.2 1592.0 1007.8 1601.4 1008.4 1583.3 1009.0 1584.9 1009.6 1589.1 1010.2 1600.2 1010.8 1604.0 1011.4 1590.1 1012.0 1590.5 1012.6 1591.7 1013.2 1586.5 1013.8 1592.6 1014.4 1578.9 1015.0 1585.7 1015.6 1590.9 1016.2 1607.5 1016.8 1605.2 1017.4 1581.2 1018.0 1586.8 1018.6 1585.5 1019.2 1595.1 1019.8 1579.2 1020.4 1588.9 1021.0 1586.8 1021.6 1589.1 1022.2 1605.0 1022.8 1594.7 1023.4 1599.9 1024.0 1579.1 1024.6 1606.6 1025.2 1575.3 1025.8 1610.3 1026.4 1602.3 1027.0 1588.2 1027.6 1586.4 1028.2 1602.2 1028.8 1599.2 1029.4 1597.4 1030.0 1605.0 1030.6 1601.8 1031.2 1583.4 1031.8 1606.6 1032.4 1578.4 1033.0 1613.1 1033.6 1604.2 1034.2 1597.5 1034.8 1587.1 1035.4 1601.3 1036.0 1586.6 1036.6 1599.6 1037.2 1592.5 1037.8 1590.8 1038.4 1592.1 1039.0 1602.9 1039.6 1588.0 1040.2 1592.5 1040.8 1588.4 1041.4 1592.7 1042.0 1583.3 1042.6 1602.1 1043.2 1591.8 1043.8 1595.8 1044.4 1608.4 1045.0 1605.3 1045.6 1587.3 1046.2 1598.9 1046.8 1597.6 1047.4 1583.1 1048.0 1583.9 1048.6 1589.5 1049.2 1593.2 1049.8 1592.2 1050.4 1600.4 1051.0 1601.2 1051.6 1594.7 1052.2 1607.6 1052.8 1599.6 1053.4 1608.0 1054.0 1603.0 1054.6 1597.1 1055.2 1598.9 1055.8 1587.0 1056.4 1600.4 1057.0 1585.8 1057.6 1612.5 1058.2 1612.7 1058.8 1585.7 1059.4 1595.1 1060.0 1603.3 1060.6 1608.4 1061.2 1605.2 1061.8 1600.3 1062.4 1610.7 1063.0 1594.7 1063.6 1586.1 1064.2 1610.3 1064.8 1602.6 1065.4 1584.6 1066.0 1596.8 1066.6 1605.9 1067.2 1587.5 1067.8 1605.4 1068.4 1590.2 1069.0 1601.9 1069.6 1614.6 1070.2 1609.8 1070.8 1586.6 1071.4 1588.2 1072.0 1582.5 1072.6 1588.8 1073.2 1609.5 1073.8 1593.1 1074.4 1594.7 1075.0 1593.7 1075.6 1597.5 1076.2 1591.4 1076.8 1607.8 1077.4 1590.9 1078.0 1601.9 1078.6 1598.5 1079.2 1604.1 1079.8 1601.4 1080.4 1591.2 1081.0 1594.1 1081.6 1597.0 1082.2 1591.5 1082.8 1599.9 1083.4 1603.9 1084.0 1597.2 1084.6 1608.7 1085.2 1588.3 1085.8 1608.6 1086.4 1600.9 1087.0 1594.8 1087.6 1607.4 1088.2 1610.6 1088.8 1595.6 1089.4 1605.8 1090.0 1582.6 1090.6 1592.5 1091.2 1614.6 1091.8 1589.7 1092.4 1599.8 1093.0 1603.9 1093.6 1595.7 1094.2 1587.7 1094.8 1592.4 1095.4 1611.3 1096.0 1601.5 1096.6 1611.5 1097.2 1589.6 1097.8 1588.9 1098.4 1612.6 1099.0 1607.0 1099.6 1594.2 1100.2 1588.9 1100.8 1600.9 1101.4 1603.5 1102.0 1606.7 1102.6 1611.8 1103.2 1588.6 1103.8 1605.6 1104.4 1585.9 1105.0 1608.9 1105.6 1597.8 1106.2 1603.3 1106.8 1584.7 1107.4 1605.8 1108.0 1586.1 1108.6 1602.7 1109.2 1603.0 1109.8 1605.2 1110.4 1597.0 1111.0 1586.2 1111.6 1603.0 1112.2 1587.5 1112.8 1589.7 1113.4 1599.9 1114.0 1600.2 1114.6 1590.5 1115.2 1586.4 1115.8 1606.0 1116.4 1598.9 1117.0 1585.8 1117.6 1603.7 1118.2 1586.9 1118.8 1602.9 1119.4 1592.0 1120.0 1606.6 1120.6 1604.2 1121.2 1592.9 1121.8 1587.6 1122.4 1587.7 1123.0 1601.5 1123.6 1599.2 1124.2 1602.5 1124.8 1600.5 1125.4 1594.1 1126.0 1606.2 1126.6 1593.4 1127.2 1592.6 1127.8 1610.0 1128.4 1600.6 1129.0 1593.6 1129.6 1590.0 1130.2 1609.8 1130.8 1591.1 1131.4 1578.9 1132.0 1589.4 1132.6 1612.3 1133.2 1587.8 1133.8 1597.7 1134.4 1592.8 1135.0 1605.2 1135.6 1598.0 1136.2 1604.9 1136.8 1603.6 1137.4 1601.3 1138.0 1583.8 1138.6 1584.4 1139.2 1592.7 1139.8 1597.4 1140.4 1591.9 1141.0 1588.5 1141.6 1585.8 1142.2 1589.8 1142.8 1598.9 1143.4 1609.8 1144.0 1598.9 1144.6 1606.4 1145.2 1601.9 1145.8 1603.1 1146.4 1609.6 1147.0 1595.5 1147.6 1593.9 1148.2 1600.0 1148.8 1583.6 1149.4 1586.3 1150.0 1594.2 1150.6 1584.7 1151.2 1597.0 1151.8 1601.0 1152.4 1581.7 1153.0 1585.6 1153.6 1579.2 1154.2 1571.2 1154.8 1568.2 1155.4 1547.9 1156.0 1513.8 1156.6 1483.4 1157.2 1434.4 1157.8 1379.0 1158.4 1322.7 1159.0 1268.0 1159.6 1226.4 1160.2 1203.1 1160.8 1203.0 1161.4 1225.5 1162.0 1269.0 1162.6 1321.6 1163.2 1382.0 1163.8 1435.7 1164.4 1478.5 1165.0 1523.1 1165.6 1554.7 1166.2 1568.7 1166.8 1574.6 1167.4 1573.8 1168.0 1585.7 1168.6 1587.7 1169.2 1585.9 1169.8 1577.4 1170.4 1603.5 1171.0 1592.0 1171.6 1587.3 1172.2 1595.6 1172.8 1595.9 1173.4 1595.8 1174.0 1603.3 1174.6 1610.2 1175.2 1611.1 1175.8 1607.0 1176.4 1604.8 1177.0 1599.8 1177.6 1596.0 1178.2 1593.1 1178.8 1589.4 1179.4 1609.9 1180.0 1587.2 1180.6 1613.3 1181.2 1588.5 1181.8 1593.1 1182.4 1592.4 1183.0 1599.3 1183.6 1604.0 1184.2 1596.4 1184.8 1602.7 1185.4 1608.1 1186.0 1588.2 1186.6 1607.3 1187.2 1613.4 1187.8 1596.0 1188.4 1611.8 1189.0 1577.9 1189.6 1589.6 1190.2 1615.5 1190.8 1595.2 1191.4 1599.4 1192.0 1592.2 1192.6 1587.0 1193.2 1596.2 1193.8 1601.2 1194.4 1611.3 1195.0 1590.3 1195.6 1595.8 1196.2 1597.3 1196.8 1590.6 1197.4 1589.2 1198.0 1582.8 1198.6 1589.9 1199.2 1603.9 1199.8 1607.0 1200.4 1602.6 1201.0 1612.9 1201.6 1609.3 1202.2 1591.4 1202.8 1595.8 1203.4 1592.5 1204.0 1600.1 1204.6 1602.6 1205.2 1599.5 1205.8 1605.7 1206.4 1607.4 1207.0 1589.9 1207.6 1589.1 1208.2 1597.6 1208.8 1597.8 1209.4 1596.9 1210.0 1596.9 1210.6 1587.6 1211.2 1592.2 1211.8 1591.2 1212.4 1611.4 1213.0 1594.0 1213.6 1617.9 1214.2 1604.8 1214.8 1605.5 1215.4 1591.3 1216.0 1595.9 1216.6 1591.4 1217.2 1605.1 1217.8 1607.4 1218.4 1585.8 1219.0 1595.0 1219.6 1598.1 1220.2 1605.3 1220.8 1603.2 1221.4 1585.1 1222.0 1591.3 1222.6 1595.1 1223.2 1586.5 1223.8 1598.8 1224.4 1589.9 1225.0 1606.1 1225.6 1602.1 1226.2 1584.7 1226.8 1596.0 1227.4 1602.5 1228.0 1596.0 1228.6 1609.4 1229.2 1612.2 1229.8 1589.1 1230.4 1602.4 1231.0 1585.7 1231.6 1596.4 1232.2 1595.1 1232.8 1585.8 1233.4 1591.7 1234.0 1606.5 1234.6 1596.2 1235.2 1590.7 1235.8 1603.1 1236.4 1608.8 1237.0 1585.0 1237.6 1602.1 1238.2 1580.3 1238.8 1602.9 1239.4 1593.8 1240.0 1600.1 1240.6 1597.6 1241.2 1596.2 1241.8 1611.9 1242.4 1603.9 1243.0 1606.0 1243.6 1591.2 1244.2 1590.5 1244.8 1599.5 1245.4 1589.8 1246.0 1584.9 1246.6 1596.4 1247.2 1601.8 1247.8 1603.9 1248.4 1580.7 1249.0 1599.6 1249.6 1599.2 1250.2 1601.0 1250.8 1606.3 1251.4 1592.6 1252.0 1592.9 1252.6 1592.0 1253.2 1585.2 1253.8 1606.5 1254.4 1591.0 1255.0 1596.5 1255.6 1596.3 1256.2 1604.4 1256.8 1583.5 1257.4 1601.5 1258.0 1590.2 1258.6 1588.4 1259.2 1614.0 1259.8 1589.0 1260.4 1586.2 1261.0 1610.3 1261.6 1597.8 1262.2 1585.0 1262.8 1607.0 1263.4 1603.7 1264.0 1616.3 1264.6 1586.6 1265.2 1599.5 1265.8 1594.1 1266.4 1583.9 1267.0 1595.4 1267.6 1597.6 1268.2 1590.3 1268.8 1594.9 1269.4 1586.7 1270.0 1589.9 1270.6 1593.6 1271.2 1593.9 1271.8 1585.1 1272.4 1584.1 1273.0 1597.9 1273.6 1593.4 1274.2 1589.4 1274.8 1601.9 1275.4 1596.4 1276.0 1604.1 1276.6 1594.6 1277.2 1580.9 1277.8 1596.5 1278.4 1589.2 1279.0 1585.1 1279.6 1589.2 1280.2 1589.4 1280.8 1604.4 1281.4 1596.8 1282.0 1604.7 1282.6 1590.5 1283.2 1589.7 1283.8 1606.8 1284.4 1606.8 1285.0 1590.1 1285.6 1607.9 1286.2 1590.2 1286.8 1594.1 1287.4 1599.9 1288.0 1594.1 1288.6 1600.5 1289.2 1606.8 1289.8 1586.8 1290.4 1609.4 1291.0 1598.7 1291.6 1601.8 1292.2 1605.8 1292.8 1600.8 1293.4 1598.7 1294.0 1604.4 1294.6 1606.2 1295.2 1590.9 1295.8 1584.8 1296.4 1594.6 1297.0 1597.6 1297.6 1587.7 1298.2 1604.0 1298.8 1603.2 1299.4 1596.5 1300.0 1598.9 1300.6 1589.6 1301.2 1591.9 1301.8 1596.9 1302.4 1591.9 1303.0 1596.3 1303.6 1578.0 1304.2 1608.4 1304.8 1592.1 1305.4 1600.0 1306.0 1613.1 1306.6 1608.4 1307.2 1589.3 1307.8 1580.2 1308.4 1606.2 1309.0 1586.2 1309.6 1591.7 1310.2 1600.1 1310.8 1605.9 1311.4 1593.2 1312.0 1598.2 1312.6 1594.2 1313.2 1609.6 1313.8 1610.0 1314.4 1605.1 1315.0 1600.8 1315.6 1599.1 1316.2 1597.0 1316.8 1603.1 1317.4 1599.0 1318.0 1587.8 1318.6 1616.0 1319.2 1602.4 1319.8 1593.7 1320.4 1598.0 1321.0 1603.6 1321.6 1586.7 1322.2 1593.0 1322.8 1607.0 1323.4 1592.4 1324.0 1596.4 1324.6 1610.5 1325.2 1597.5 1325.8 1604.0 1326.4 1589.5 1327.0 1610.4 1327.6 1615.1 1328.2 1594.9 1328.8 1611.1 1329.4 1604.5 1330.0 1606.7 1330.6 1585.4 1331.2 1603.8 1331.8 1599.2 1332.4 1594.7 1333.0 1596.8 1333.6 1600.0 1334.2 1601.8 1334.8 1605.6 1335.4 1604.2 1336.0 1609.4 1336.6 1602.5 1337.2 1606.9 1337.8 1599.5 1338.4 1601.3 1339.0 1583.1 1339.6 1586.3 1340.2 1597.8 1340.8 1597.2 1341.4 1597.5 1342.0 1592.4 1342.6 1611.2 1343.2 1606.8 1343.8 1597.8 1344.4 1594.6 1345.0 1596.2 1345.6 1595.7 1346.2 1599.3 1346.8 1601.5 1347.4 1606.5 1348.0 1597.2 1348.6 1588.5 1349.2 1599.1 1349.8 1609.0 1350.4 1595.5 1351.0 1607.1 1351.6 1601.8 1352.2 1606.9 1352.8 1587.2 1353.4 1597.7 1354.0 1601.2 1354.6 1601.3 1355.2 1601.5 1355.8 1589.1 1356.4 1598.1 1357.0 1604.0 1357.6 1600.5 1358.2 1582.2 1358.8 1598.4 1359.4 1610.4 1360.0 1594.1 1360.6 1607.9 1361.2 1599.1 1361.8 1593.0 1362.4 1611.9 1363.0 1599.4 1363.6 1600.3 1364.2 1613.7 1364.8 1589.0 1365.4 1589.3 1366.0 1584.9 1366.6 1603.2 1367.2 1602.9 1367.8 1590.8 1368.4 1601.4 1369.0 1597.1 1369.6 1609.1 1370.2 1583.4 1370.8 1595.4 1371.4 1591.4 1372.0 1586.1 1372.6 1595.4 1373.2 1600.4 1373.8 1589.6 1374.4 1591.9 1375.0 1606.4 1375.6 1586.1 1376.2 1602.3 1376.8 1610.9 1377.4 1603.2 1378.0 1593.5 1378.6 1589.8 1379.2 1591.5 1379.8 1603.1 1380.4 1605.2 1381.0 1599.8 1381.6 1602.5 1382.2 1599.5 1382.8 1598.6 1383.4 1588.6 1384.0 1593.3 1384.6 1589.2 1385.2 1605.2 1385.8 1583.1 1386.4 1612.4 1387.0 1594.4 1387.6 1606.7 1388.2 1601.3 1388.8 1595.2 1389.4 1603.7 1390.0 1606.1 1390.6 1612.8 1391.2 1596.2 1391.8 1592.9 1392.4 1590.2 1393.0 1598.9 1393.6 1589.2 1394.2 1612.7 1394.8 1590.7 1395.4 1605.9 1396.0 1605.6 1396.6 1599.2 1397.2 1613.5 1397.8 1579.8 1398.4 1599.5 1399.0 1599.5 1399.6 1597.9 1400.2 1600.5 1400.8 1604.3 1401.4 1601.7 1402.0 1606.7 1402.6 1605.3 1403.2 1584.8 1403.8 1595.3 1404.4 1596.0 1405.0 1603.6 1405.6 1583.8 1406.2 1599.9 1406.8 1587.0 1407.4 1606.0 1408.0 1604.6 1408.6 1592.2 1409.2 1600.2 1409.8 1599.7 1410.4 1601.3 1411.0 1602.6 1411.6 1593.9 1412.2 1591.0 1412.8 1604.4 1413.4 1603.8 1414.0 1592.4 1414.6 1600.0 1415.2 1586.6 1415.8 1596.9 1416.4 1594.5 1417.0 1606.4 1417.6 1601.4 1418.2 1599.3 1418.8 1606.2 1419.4 1599.7 1420.0 1610.6 1420.6 1589.2 1421.2 1613.9 1421.8 1579.4 1422.4 1586.7 1423.0 1613.2 1423.6 1587.0 1424.2 1589.2 1424.8 1597.2 1425.4 1591.1 1426.0 1584.1 1426.6 1590.3 1427.2 1586.9 1427.8 1588.1 1428.4 1615.3 1429.0 1594.9 1429.6 1603.0 1430.2 1589.0 1430.8 1588.5 1431.4 1580.2 1432.0 1607.1 1432.6 1585.1 1433.2 1596.1 1433.8 1587.9 1434.4 1612.2 1435.0 1591.9 1435.6 1589.7 1436.2 1596.8 1436.8 1601.1 1437.4 1609.3 1438.0 1591.5 1438.6 1593.1 1439.2 1608.4 1439.8 1590.7 1440.4 1589.1 1441.0 1603.5 1441.6 1601.0 1442.2 1597.8 1442.8 1590.9 1443.4 1602.0 1444.0 1601.1 1444.6 1607.5 1445.2 1609.2 1445.8 1588.4 1446.4 1589.2 1447.0 1598.7 1447.6 1591.6 1448.2 1591.7 1448.8 1594.6 1449.4 1603.1 1450.0 1580.8 1450.6 1606.0 1451.2 1593.8 1451.8 1595.1 1452.4 1603.8 1453.0 1597.8 1453.6 1592.5 1454.2 1606.8 1454.8 1596.7 1455.4 1584.5 1456.0 1605.3 1456.6 1594.5 1457.2 1605.9 1457.8 1592.1 1458.4 1609.1 1459.0 1594.3 1459.6 1607.7 1460.2 1593.0 1460.8 1606.3 1461.4 1601.2 1462.0 1589.5 1462.6 1585.9 1463.2 1598.5 1463.8 1598.9 1464.4 1603.2 1465.0 1592.3 1465.6 1604.4 1466.2 1605.0 1466.8 1611.6 1467.4 1594.2 1468.0 1591.5 1468.6 1598.4 1469.2 1605.9 1469.8 1592.2 1470.4 1590.9 1471.0 1585.9 1471.6 1604.4 1472.2 1598.1 1472.8 1605.4 1473.4 1595.1 1474.0 1585.3 1474.6 1597.1 1475.2 1591.9 1475.8 1595.4 1476.4 1613.4 1477.0 1606.0 1477.6 1603.6 1478.2 1606.6 1478.8 1615.2 1479.4 1607.9 1480.0 1598.1 1480.6 1603.9 1481.2 1589.4 1481.8 1587.4 1482.4 1602.6 1483.0 1583.8 1483.6 1584.2 1484.2 1591.7 1484.8 1597.6 1485.4 1611.5 1486.0 1602.1 1486.6 1593.8 1487.2 1583.5 1487.8 1589.5 1488.4 1588.2 1489.0 1606.7 1489.6 1588.4 1490.2 1588.7 1490.8 1596.2 1491.4 1589.5 1492.0 1600.2 1492.6 1606.3 1493.2 1614.3 1493.8 1588.6 1494.4 1597.5 1495.0 1602.4 1495.6 1598.7 1496.2 1588.3 1496.8 1595.6 1497.4 1593.0 1498.0 1585.1 1498.6 1611.3 1499.2 1608.0 1499.8 1607.3 1500.4 1582.9 1501.0 1601.7 1501.6 1609.9 1502.2 1596.0 1502.8 1612.6 1503.4 1590.5 1504.0 1589.3 1504.6 1607.5 1505.2 1578.6 1505.8 1592.0 1506.4 1600.5 1507.0 1593.5 1507.6 1600.5 1508.2 1595.3 1508.8 1596.8 1509.4 1601.2 1510.0 1598.8 1510.6 1593.4 1511.2 1599.0 1511.8 1611.2 1512.4 1597.5 1513.0 1603.8 1513.6 1598.8 1514.2 1600.4 1514.8 1603.1 1515.4 1609.2 1516.0 1609.7 1516.6 1595.0 1517.2 1584.9 1517.8 1608.9 1518.4 1606.1 1519.0 1602.7 1519.6 1606.7 1520.2 1589.9 1520.8 1611.5 1521.4 1598.6 1522.0 1604.4 1522.6 1612.0 1523.2 1617.8 1523.8 1582.9 1524.4 1593.3 1525.0 1605.2 1525.6 1603.2 1526.2 1603.0 1526.8 1595.6 1527.4 1598.4 1528.0 1619.2 1528.6 1590.1 1529.2 1591.0 1529.8 1596.8 1530.4 1593.9 1531.0 1588.8 1531.6 1594.0 1532.2 1606.2 1532.8 1596.2 1533.4 1590.0 1534.0 1598.9 1534.6 1588.4 1535.2 1590.7 1535.8 1605.4 1536.4 1592.2 1537.0 1597.0 1537.6 1614.3 1538.2 1592.9 1538.8 1590.9 1539.4 1593.0 1540.0 1588.8 1540.6 1591.9 1541.2 1598.0 1541.8 1608.7 1542.4 1607.9 1543.0 1601.2 1543.6 1587.2 1544.2 1611.1 1544.8 1602.3 1545.4 1600.2 1546.0 1606.9 1546.6 1601.2 1547.2 1607.6 1547.8 1600.4 1548.4 1603.2 1549.0 1599.2 1549.6 1595.5 1550.2 1613.2 1550.8 1590.6 1551.4 1582.3 1552.0 1603.1 1552.6 1588.2 1553.2 1614.9 1553.8 1602.1 1554.4 1589.2 1555.0 1596.0 1555.6 1600.6 1556.2 1597.2 1556.8 1602.7 1557.4 1601.5 1558.0 1605.5 1558.6 1593.4 1559.2 1604.1 1559.8 1616.5 1560.4 1602.1 1561.0 1610.1 1561.6 1603.8 1562.2 1591.7 1562.8 1608.7 1563.4 1590.6 1564.0 1588.9 1564.6 1606.6 1565.2 1607.5 1565.8 1594.6 1566.4 1607.6 1567.0 1603.1 1567.6 1597.4 1568.2 1596.9 1568.8 1595.3 1569.4 1609.4 1570.0 1601.9 1570.6 1605.0 1571.2 1607.2 1571.8 1594.4 1572.4 1611.4 1573.0 1592.3 1573.6 1598.8 1574.2 1602.4 1574.8 1587.6 1575.4 1592.8 1576.0 1601.7 1576.6 1601.3 1577.2 1591.6 1577.8 1596.7 1578.4 1598.1 1579.0 1601.3 1579.6 1605.4 1580.2 1610.4 1580.8 1598.7 1581.4 1600.2 1582.0 1592.0 1582.6 1600.6 1583.2 1592.8 1583.8 1598.0 1584.4 1592.5 1585.0 1589.5 1585.6 1590.6 1586.2 1597.5 1586.8 1605.5 1587.4 1592.5 1588.0 1588.4 1588.6 1601.8 1589.2 1607.9 1589.8 1610.7 1590.4 1613.1 1591.0 1603.4 1591.6 1597.6 1592.2 1597.5 1592.8 1594.2 1593.4 1594.5 1594.0 1592.5 1594.6 1591.6 1595.2 1598.4 1595.8 1615.8 1596.4 1600.2 1597.0 1594.9 1597.6 1617.6 1598.2 1600.6 1598.8 1601.3 1599.4 1610.1 1600.0 1598.2 1600.6 1596.7 1601.2 1592.5 1601.8 1611.1 1602.4 1605.6 1603.0 1597.1 1603.6 1600.8 1604.2 1614.6 1604.8 1603.8 1605.4 1605.2 1606.0 1608.1 1606.6 1607.3 1607.2 1592.1 1607.8 1596.9 1608.4 1588.0 1609.0 1593.3 1609.6 1600.8 1610.2 1610.2 1610.8 1607.8 1611.4 1594.3 1612.0 1601.3 1612.6 1591.4 1613.2 1601.9 1613.8 1606.8 1614.4 1616.3 1615.0 1606.2 1615.6 1597.9 1616.2 1587.5 1616.8 1611.1 1617.4 1587.3 1618.0 1586.5 1618.6 1593.2 1619.2 1609.8 1619.8 1587.6 1620.4 1611.1 1621.0 1603.4 1621.6 1608.8 1622.2 1581.7 1622.8 1604.8 1623.4 1595.6 1624.0 1605.5 1624.6 1592.3 1625.2 1594.6 1625.8 1586.9 1626.4 1602.0 1627.0 1588.5 1627.6 1585.9 1628.2 1595.0 1628.8 1598.2 1629.4 1602.7 1630.0 1603.5 1630.6 1598.4 1631.2 1602.8 1631.8 1605.2 1632.4 1591.3 1633.0 1603.1 1633.6 1599.3 1634.2 1592.7 1634.8 1592.1 1635.4 1601.0 1636.0 1609.7 1636.6 1592.3 1637.2 1594.1 1637.8 1594.3 1638.4 1602.6 1639.0 1603.0 1639.6 1605.9 1640.2 1601.7 1640.8 1594.5 1641.4 1611.8 1642.0 1610.5 1642.6 1618.0 1643.2 1611.7 1643.8 1617.4 1644.4 1599.6 1645.0 1613.7 1645.6 1589.5 1646.2 1606.6 1646.8 1593.3 1647.4 1591.7 1648.0 1585.1 1648.6 1607.0 1649.2 1593.2 1649.8 1601.4 1650.4 1592.4 1651.0 1614.0 1651.6 1605.9 1652.2 1608.9 1652.8 1610.2 1653.4 1608.8 1654.0 1611.2 1654.6 1611.9 1655.2 1607.4 1655.8 1595.4 1656.4 1601.4 1657.0 1602.3 1657.6 1599.8 1658.2 1596.0 1658.8 1614.9 1659.4 1607.5 1660.0 1619.9 1660.6 1603.7 1661.2 1596.5 1661.8 1595.9 1662.4 1603.3 1663.0 1610.6 1663.6 1601.6 1664.2 1619.4 1664.8 1605.8 1665.4 1603.4 1666.0 1603.2 1666.6 1589.1 1667.2 1596.1 1667.8 1601.1 1668.4 1601.8 1669.0 1600.9 1669.6 1604.6 1670.2 1598.9 1670.8 1604.3 1671.4 1594.4 1672.0 1611.1 1672.6 1589.5 1673.2 1613.5 1673.8 1608.9 1674.4 1596.3 1675.0 1607.9 1675.6 1623.2 1676.2 1599.1 1676.8 1603.4 1677.4 1601.6 1678.0 1615.2 1678.6 1594.2 1679.2 1593.8 1679.8 1590.0 1680.4 1607.9 1681.0 1609.5 1681.6 1608.2 1682.2 1613.0 1682.8 1590.3 1683.4 1607.7 1684.0 1607.2 1684.6 1610.3 1685.2 1592.9 1685.8 1613.4 1686.4 1607.4 1687.0 1600.0 1687.6 1610.4 1688.2 1611.9 1688.8 1595.8 1689.4 1603.0 1690.0 1604.7 1690.6 1607.0 1691.2 1609.4 1691.8 1617.8 1692.4 1608.2 1693.0 1613.2 1693.6 1591.0 1694.2 1602.6 1694.8 1593.6 1695.4 1617.2 1696.0 1597.8 1696.6 1599.1 1697.2 1601.5 1697.8 1595.4 1698.4 1606.7 1699.0 1616.1 1699.6 1602.6 1700.2 1613.7 1700.8 1610.4 1701.4 1592.2 1702.0 1605.9 1702.6 1610.3 1703.2 1607.8 1703.8 1617.6 1704.4 1598.6 1705.0 1607.1 1705.6 1606.7 1706.2 1600.0 1706.8 1608.9 1707.4 1588.4 1708.0 1603.8 1708.6 1613.8 1709.2 1599.2 1709.8 1598.9 1710.4 1609.3 1711.0 1603.4 1711.6 1605.3 1712.2 1602.4 1712.8 1600.6 1713.4 1590.2 1714.0 1604.4 1714.6 1585.6 1715.2 1602.5 1715.8 1605.7 1716.4 1601.7 1717.0 1596.6 1717.6 1594.4 1718.2 1591.5 1718.8 1596.4 1719.4 1599.7 1720.0 1581.8 1720.6 1588.9 1721.2 1563.4 1721.8 1580.2 1722.4 1565.5 1723.0 1574.6 1723.6 1562.3 1724.2 1561.7 1724.8 1571.7 1725.4 1581.6 1726.0 1572.8 1726.6 1568.1 1727.2 1573.4 1727.8 1581.6 1728.4 1564.8 1729.0 1590.1 1729.6 1571.3 1730.2 1598.2 1730.8 1589.3 1731.4 1597.6 1732.0 1605.1 1732.6 1594.9 1733.2 1596.7 1733.8 1597.6 1734.4 1588.7 1735.0 1597.1 1735.6 1600.1 1736.2 1597.7 1736.8 1600.9 1737.4 1612.9 1738.0 1616.9 1738.6 1614.6 1739.2 1610.2 1739.8 1604.6 1740.4 1591.5 1741.0 1593.6 1741.6 1602.5 1742.2 1611.3 1742.8 1609.2 1743.4 1601.9 1744.0 1597.3 1744.6 1587.4 1745.2 1605.6 1745.8 1590.6 1746.4 1619.5 1747.0 1601.8 1747.6 1621.4 1748.2 1599.8 1748.8 1588.9 1749.4 1601.3 1750.0 1603.7 1750.6 1605.4 1751.2 1590.2 1751.8 1598.9 1752.4 1606.0 1753.0 1612.8 1753.6 1609.3 1754.2 1602.4 1754.8 1585.9 1755.4 1600.4 1756.0 1611.2 1756.6 1602.1 1757.2 1600.8 1757.8 1598.2 1758.4 1593.7 1759.0 1612.0 1759.6 1605.6 1760.2 1599.2 1760.8 1586.7 1761.4 1594.4 1762.0 1597.9 1762.6 1592.7 1763.2 1604.2 1763.8 1598.1 1764.4 1598.7 1765.0 1611.8 1765.6 1602.3 1766.2 1601.5 1766.8 1610.6 1767.4 1610.3 1768.0 1611.8 1768.6 1613.3 1769.2 1590.6 1769.8 1601.5 1770.4 1606.1 1771.0 1590.2 1771.6 1616.1 1772.2 1594.4 1772.8 1604.4 1773.4 1613.6 1774.0 1601.9 1774.6 1607.0 1775.2 1605.3 1775.8 1601.4 1776.4 1594.7 1777.0 1595.5 1777.6 1608.7 1778.2 1590.5 1778.8 1615.0 1779.4 1595.4 1780.0 1598.6 1780.6 1589.2 1781.2 1612.4 1781.8 1604.5 1782.4 1609.5 1783.0 1608.5 1783.6 1593.8 1784.2 1606.6 1784.8 1582.4 1785.4 1611.2 1786.0 1617.1 1786.6 1608.2 1787.2 1595.2 1787.8 1591.7 1788.4 1603.9 1789.0 1615.6 1789.6 1610.4 1790.2 1598.5 1790.8 1615.5 1791.4 1594.9 1792.0 1594.7 1792.6 1614.1 1793.2 1603.5 1793.8 1598.7 1794.4 1610.5 1795.0 1596.3 1795.6 1603.6 1796.2 1603.1 1796.8 1589.8 1797.4 1589.0 1798.0 1606.5 1798.6 1606.3 1799.2 1591.2 1799.8 1617.7 1800.4 1613.8 1801.0 1592.5 1801.6 1592.6 1802.2 1604.9 1802.8 1594.4 1803.4 1600.0 1804.0 1590.4 1804.6 1604.7 1805.2 1604.1 1805.8 1598.3 1806.4 1603.7 1807.0 1612.4 1807.6 1598.4 1808.2 1598.3 1808.8 1610.8 1809.4 1597.9 1810.0 1604.7 1810.6 1612.2 1811.2 1601.6 1811.8 1604.7 1812.4 1596.7 1813.0 1599.6 1813.6 1595.2 1814.2 1603.5 1814.8 1592.3 1815.4 1602.5 1816.0 1601.2 1816.6 1593.0 1817.2 1608.1 1817.8 1602.4 1818.4 1590.9 1819.0 1603.2 1819.6 1610.7 1820.2 1601.1 1820.8 1598.7 1821.4 1584.1 1822.0 1596.1 1822.6 1608.0 1823.2 1611.1 1823.8 1597.1 1824.4 1593.3 1825.0 1593.7 1825.6 1592.9 1826.2 1604.0 1826.8 1594.8 1827.4 1594.9 1828.0 1597.2 1828.6 1599.8 1829.2 1591.9 1829.8 1596.3 1830.4 1611.5 1831.0 1600.6 1831.6 1593.9 1832.2 1612.6 1832.8 1603.2 1833.4 1611.1 1834.0 1592.5 1834.6 1620.7 1835.2 1607.7 1835.8 1596.5 1836.4 1616.2 1837.0 1609.3 1837.6 1607.0 1838.2 1610.9 1838.8 1614.2 1839.4 1610.8 1840.0 1602.4 1840.6 1609.5 1841.2 1603.0 1841.8 1612.0 1842.4 1616.4 1843.0 1592.9 1843.6 1603.1 1844.2 1597.4 1844.8 1602.3 1845.4 1612.6 1846.0 1605.9 1846.6 1598.4 1847.2 1595.1 1847.8 1593.1 1848.4 1602.9 1849.0 1602.1 1849.6 1607.6 1850.2 1598.9 1850.8 1613.2 1851.4 1605.6 1852.0 1594.2 1852.6 1599.2 1853.2 1601.9 1853.8 1599.2 1854.4 1598.5 1855.0 1608.9 1855.6 1598.0 1856.2 1588.9 1856.8 1614.2 1857.4 1611.2 1858.0 1610.3 1858.6 1595.1 1859.2 1601.1 1859.8 1597.5 1860.4 1596.3 1861.0 1596.6 1861.6 1607.3 1862.2 1604.3 1862.8 1605.7 1863.4 1585.2 1864.0 1590.7 1864.6 1599.3 1865.2 1606.5 1865.8 1605.0 1866.4 1599.2 1867.0 1595.0 1867.6 1606.1 1868.2 1594.1 1868.8 1608.0 1869.4 1593.4 1870.0 1598.7 1870.6 1599.3 1871.2 1608.0 1871.8 1607.8 1872.4 1598.5 1873.0 1609.8 1873.6 1599.3 1874.2 1614.7 1874.8 1605.6 1875.4 1608.1 1876.0 1613.6 1876.6 1592.4 1877.2 1608.3 1877.8 1589.0 1878.4 1599.4 1879.0 1600.8 1879.6 1584.1 1880.2 1605.2 1880.8 1607.5 1881.4 1592.8 1882.0 1600.8 1882.6 1596.4 1883.2 1601.4 1883.8 1599.5 1884.4 1602.4 1885.0 1608.9 1885.6 1616.4 1886.2 1616.2 1886.8 1616.2 1887.4 1608.5 1888.0 1610.9 1888.6 1606.7 1889.2 1616.8 1889.8 1591.9 1890.4 1587.8 1891.0 1590.9 1891.6 1604.2 1892.2 1608.3 1892.8 1618.5 1893.4 1590.1 1894.0 1599.7 1894.6 1591.8 1895.2 1595.4 1895.8 1593.1 1896.4 1614.9 1897.0 1611.5 1897.6 1594.7 1898.2 1596.0 1898.8 1602.0 1899.4 1611.3 1900.0 1609.9 1900.6 1607.4 1901.2 1611.4 1901.8 1588.9 1902.4 1596.9 1903.0 1608.0 1903.6 1591.2 1904.2 1609.6 1904.8 1598.8 1905.4 1618.2 1906.0 1590.0 1906.6 1612.4 1907.2 1606.8 1907.8 1592.1 1908.4 1587.7 1909.0 1605.7 1909.6 1608.0 1910.2 1607.2 1910.8 1606.1 1911.4 1596.3 1912.0 1606.9 1912.6 1596.2 1913.2 1611.1 1913.8 1608.5 1914.4 1600.6 1915.0 1593.9 1915.6 1606.1 1916.2 1593.6 1916.8 1599.4 1917.4 1610.7 1918.0 1608.6 1918.6 1601.6 1919.2 1595.9 1919.8 1608.5 1920.4 1591.1 1921.0 1599.6 1921.6 1594.6 1922.2 1593.0 1922.8 1594.8 1923.4 1602.1 1924.0 1592.0 1924.6 1593.0 1925.2 1609.1 1925.8 1589.5 1926.4 1605.9 1927.0 1607.4 1927.6 1607.8 1928.2 1598.5 1928.8 1600.9 1929.4 1603.3 1930.0 1612.3 1930.6 1609.7 1931.2 1602.0 1931.8 1608.6 1932.4 1601.0 1933.0 1603.4 1933.6 1610.3 1934.2 1613.6 1934.8 1599.6 1935.4 1600.5 1936.0 1598.7 1936.6 1611.0 1937.2 1610.2 1937.8 1596.1 1938.4 1589.3 1939.0 1607.4 1939.6 1595.1 1940.2 1615.4 1940.8 1605.7 1941.4 1601.8 1942.0 1597.2 1942.6 1601.8 1943.2 1611.4 1943.8 1617.0 1944.4 1607.7 1945.0 1609.2 1945.6 1600.8 1946.2 1602.4 1946.8 1611.5 1947.4 1608.0 1948.0 1604.9 1948.6 1608.1 1949.2 1617.6 1949.8 1592.8 1950.4 1610.1 1951.0 1596.9 1951.6 1595.7 1952.2 1619.8 1952.8 1603.2 1953.4 1601.3 1954.0 1590.4 1954.6 1597.9 1955.2 1601.6 1955.8 1594.9 1956.4 1607.7 1957.0 1598.5 1957.6 1603.7 1958.2 1595.3 1958.8 1605.2 1959.4 1591.1 1960.0 1600.1 1960.6 1607.7 1961.2 1593.1 1961.8 1592.6 1962.4 1598.7 1963.0 1596.9 1963.6 1600.1 1964.2 1595.8 1964.8 1590.3 1965.4 1595.4 1966.0 1614.2 1966.6 1593.2 1967.2 1591.4 1967.8 1591.0 1968.4 1611.9 1969.0 1612.6 1969.6 1594.2 1970.2 1606.9 1970.8 1595.7 1971.4 1601.3 1972.0 1607.8 1972.6 1593.4 1973.2 1598.2 1973.8 1615.6 1974.4 1602.7 1975.0 1605.8 1975.6 1590.4 1976.2 1595.4 1976.8 1594.3 1977.4 1601.5 1978.0 1600.8 1978.6 1607.8 1979.2 1607.6 1979.8 1601.3 1980.4 1598.3 1981.0 1608.2 1981.6 1601.0 1982.2 1603.6 1982.8 1601.1 1983.4 1587.7 1984.0 1596.1 1984.6 1609.3 1985.2 1596.9 1985.8 1612.5 1986.4 1608.8 1987.0 1593.8 1987.6 1605.9 1988.2 1602.8 1988.8 1597.9 1989.4 1608.8 1990.0 1612.3 1990.6 1604.2 1991.2 1605.0 1991.8 1591.2 1992.4 1600.6 1993.0 1601.2 1993.6 1594.2 1994.2 1606.3 1994.8 1593.4 1995.4 1608.4 1996.0 1601.8 1996.6 1593.0 1997.2 1604.7 1997.8 1601.7 1998.4 1591.0 1999.0 1613.1 1999.6 1612.4 2000.2 1601.2 2000.8 1607.5 2001.4 1613.5 2002.0 1608.8 2002.6 1618.5 2003.2 1592.5 2003.8 1615.2 2004.4 1605.2 2005.0 1602.4 2005.6 1606.8 2006.2 1612.4 2006.8 1601.8 2007.4 1606.9 2008.0 1610.8 2008.6 1603.3 2009.2 1613.1 2009.8 1609.3 2010.4 1592.5 2011.0 1597.8 2011.6 1604.7 2012.2 1588.3 2012.8 1606.6 2013.4 1609.2 2014.0 1612.0 2014.6 1600.3 2015.2 1590.1 2015.8 1589.3 2016.4 1595.9 2017.0 1598.4 2017.6 1596.3 2018.2 1592.0 2018.8 1604.7 2019.4 1608.6 2020.0 1595.0 2020.6 1588.9 2021.2 1615.1 2021.8 1610.2 2022.4 1601.7 2023.0 1621.1 2023.6 1618.0 2024.2 1601.6 2024.8 1599.0 2025.4 1611.6 2026.0 1611.0 2026.6 1593.4 2027.2 1593.8 2027.8 1593.5 2028.4 1607.5 2029.0 1586.7 2029.6 1599.8 2030.2 1601.0 2030.8 1605.1 2031.4 1603.9 2032.0 1615.5 2032.6 1613.6 2033.2 1613.6 2033.8 1594.9 2034.4 1602.1 2035.0 1597.2 2035.6 1602.3 2036.2 1603.5 2036.8 1606.5 2037.4 1593.8 2038.0 1613.3 2038.6 1615.1 2039.2 1616.3 2039.8 1610.5 2040.4 1594.6 2041.0 1596.8 2041.6 1596.7 2042.2 1606.2 2042.8 1610.7 2043.4 1605.7 2044.0 1592.1 2044.6 1599.5 2045.2 1592.0 2045.8 1592.0 2046.4 1603.8 2047.0 1599.9 2047.6 1608.9 2048.2 1586.1 2048.8 1598.0 2049.4 1606.3 2050.0 1610.7 2050.6 1613.4 2051.2 1591.5 2051.8 1601.2 2052.4 1600.3 2053.0 1596.9 2053.6 1604.9 2054.2 1599.0 2054.8 1609.1 2055.4 1611.1 2056.0 1599.1 2056.6 1603.3 2057.2 1612.9 2057.8 1613.4 2058.4 1590.0 2059.0 1593.1 2059.6 1598.6 2060.2 1593.6 2060.8 1617.7 2061.4 1595.5 2062.0 1608.9 2062.6 1610.9 2063.2 1608.5 2063.8 1590.9 2064.4 1615.8 2065.0 1590.3 2065.6 1593.9 2066.2 1594.7 2066.8 1609.4 2067.4 1594.7 2068.0 1603.3 2068.6 1588.4 2069.2 1602.4 2069.8 1591.7 2070.4 1595.1 2071.0 1596.6 2071.6 1600.8 2072.2 1607.6 2072.8 1602.1 2073.4 1596.9 2074.0 1611.1 2074.6 1607.9 2075.2 1608.5 2075.8 1610.3 2076.4 1597.1 2077.0 1616.4 2077.6 1610.1 2078.2 1609.1 2078.8 1615.9 2079.4 1603.5 2080.0 1598.1 2080.6 1599.4 2081.2 1603.8 2081.8 1588.4 2082.4 1593.7 2083.0 1598.5 2083.6 1596.6 2084.2 1616.4 2084.8 1603.4 2085.4 1602.1 2086.0 1610.8 2086.6 1586.7 2087.2 1593.6 2087.8 1600.0 2088.4 1610.7 2089.0 1597.2 2089.6 1593.8 2090.2 1597.0 2090.8 1594.9 2091.4 1588.7 2092.0 1605.3 2092.6 1606.9 2093.2 1613.9 2093.8 1590.5 2094.4 1583.7 2095.0 1611.6 2095.6 1607.2 2096.2 1592.3 2096.8 1592.9 2097.4 1595.4 2098.0 1613.3 2098.6 1594.3 2099.2 1600.0 2099.8 1605.8 2100.4 1595.6 2101.0 1591.8 2101.6 1601.1 2102.2 1597.2 2102.8 1605.7 2103.4 1607.6 2104.0 1599.4 2104.6 1604.8 2105.2 1592.6 2105.8 1599.6 2106.4 1596.6 2107.0 1607.3 2107.6 1605.0 2108.2 1606.4 2108.8 1602.7 2109.4 1600.1 2110.0 1612.9 2110.6 1613.6 2111.2 1596.8 2111.8 1599.9 2112.4 1599.0 2113.0 1608.7 2113.6 1616.6 2114.2 1596.1 2114.8 1600.8 2115.4 1596.4 2116.0 1599.7 2116.6 1597.3 2117.2 1593.9 2117.8 1611.3 2118.4 1589.7 2119.0 1591.7 2119.6 1610.0 2120.2 1603.3 2120.8 1590.2 2121.4 1587.8 2122.0 1591.6 2122.6 1602.8 2123.2 1605.5 2123.8 1591.5 2124.4 1617.2 2125.0 1602.9 2125.6 1593.6 2126.2 1594.0 2126.8 1609.1 2127.4 1613.3 2128.0 1591.4 2128.6 1595.8 2129.2 1603.9 2129.8 1593.8 2130.4 1597.8 2131.0 1604.3 2131.6 1605.4 2132.2 1608.9 2132.8 1596.6 2133.4 1588.4 2134.0 1590.8 2134.6 1590.5 2135.2 1603.2 2135.8 1608.4 2136.4 1606.7 2137.0 1603.7 2137.6 1601.1 2138.2 1609.1 2138.8 1588.5 2139.4 1607.0 2140.0 1590.7 2140.6 1606.3 2141.2 1607.0 2141.8 1593.8 2142.4 1592.9 2143.0 1604.3 2143.6 1608.5 2144.2 1609.6 2144.8 1596.5 2145.4 1614.1 2146.0 1604.4 2146.6 1594.6 2147.2 1600.1 2147.8 1610.8 2148.4 1591.6 2149.0 1607.9 2149.6 1611.8 2150.2 1602.9 2150.8 1595.9 2151.4 1614.7 2152.0 1605.8 2152.6 1592.2 2153.2 1591.1 2153.8 1599.7 2154.4 1595.1 2155.0 1598.4 2155.6 1586.8 2156.2 1588.5 2156.8 1609.0 2157.4 1604.8 2158.0 1607.6 2158.6 1602.6 2159.2 1606.7 2159.8 1584.6 2160.4 1603.4 2161.0 1610.9 2161.6 1605.5 2162.2 1598.2 2162.8 1618.0 2163.4 1594.5 2164.0 1610.2 2164.6 1602.9 2165.2 1588.3 2165.8 1609.9 2166.4 1613.6 2167.0 1607.8 2167.6 1614.9 2168.2 1614.6 2168.8 1610.1 2169.4 1595.4 2170.0 1593.4 2170.6 1598.3 2171.2 1598.3 2171.8 1590.1 2172.4 1607.6 2173.0 1598.9 2173.6 1603.8 2174.2 1596.2 2174.8 1594.7 2175.4 1603.7 2176.0 1587.3 2176.6 1599.8 2177.2 1600.3 2177.8 1589.1 2178.4 1606.5 2179.0 1589.0 2179.6 1606.1 2180.2 1594.4 2180.8 1606.8 2181.4 1610.6 2182.0 1602.9 2182.6 1600.8 2183.2 1607.0 2183.8 1593.2 2184.4 1600.7 2185.0 1597.6 2185.6 1605.0 2186.2 1602.2 2186.8 1595.0 2187.4 1590.2 2188.0 1597.6 2188.6 1591.7 2189.2 1594.4 2189.8 1590.8 2190.4 1596.2 2191.0 1584.2 2191.6 1601.3 2192.2 1589.1 2192.8 1607.7 2193.4 1597.7 2194.0 1607.6 2194.6 1591.3 2195.2 1588.9 2195.8 1608.9 2196.4 1584.1 2197.0 1587.8 2197.6 1602.7 2198.2 1587.5 2198.8 1586.5 2199.4 1579.2 2200.0 1571.2 2200.6 1558.4 2201.2 1548.5 2201.8 1540.4 2202.4 1537.6 2203.0 1537.5 2203.6 1543.6 2204.2 1554.6 2204.8 1561.7 2205.4 1570.2 2206.0 1571.1 2206.6 1577.1 2207.2 1574.1 2207.8 1559.8 2208.4 1562.7 2209.0 1572.0 2209.6 1560.8 2210.2 1572.6 2210.8 1568.4 2211.4 1581.0 2212.0 1584.2 2212.6 1584.7 2213.2 1595.6 2213.8 1609.2 2214.4 1587.3 2215.0 1612.3 2215.6 1601.2 2216.2 1587.8 2216.8 1602.2 2217.4 1600.0 2218.0 1594.9 2218.6 1597.4 2219.2 1595.2 2219.8 1595.3 2220.4 1612.9 2221.0 1597.4 2221.6 1598.4 2222.2 1604.5 2222.8 1579.2 2223.4 1603.0 2224.0 1611.1 2224.6 1608.2 2225.2 1596.3 2225.8 1602.6 2226.4 1604.0 2227.0 1608.5 2227.6 1584.0 2228.2 1605.6 2228.8 1609.1 2229.4 1614.6 2230.0 1584.7 2230.6 1595.8 2231.2 1608.9 2231.8 1596.3 2232.4 1583.4 2233.0 1609.5 2233.6 1589.8 2234.2 1596.6 2234.8 1605.6 2235.4 1590.1 2236.0 1597.8 2236.6 1586.7 2237.2 1591.5 2237.8 1585.6 2238.4 1590.3 2239.0 1597.3 2239.6 1608.6 2240.2 1594.8 2240.8 1613.2 2241.4 1600.1 2242.0 1597.6 2242.6 1600.9 2243.2 1589.0 2243.8 1588.8 2244.4 1602.8 2245.0 1607.8 2245.6 1606.8 2246.2 1614.5 2246.8 1601.5 2247.4 1601.9 2248.0 1595.8 2248.6 1591.6 2249.2 1610.1 2249.8 1605.9 2250.4 1581.4 2251.0 1591.4 2251.6 1602.2 2252.2 1601.8 2252.8 1603.4 2253.4 1611.4 2254.0 1603.0 2254.6 1593.9 2255.2 1590.4 2255.8 1583.2 2256.4 1598.2 2257.0 1588.2 2257.6 1608.8 2258.2 1596.9 2258.8 1610.0 2259.4 1586.8 2260.0 1599.6 2260.6 1595.2 2261.2 1591.2 2261.8 1607.2 2262.4 1587.9 2263.0 1595.3 2263.6 1600.2 2264.2 1597.4 2264.8 1595.8 2265.4 1583.1 2266.0 1616.1 2266.6 1594.6 2267.2 1613.4 2267.8 1603.2 2268.4 1598.1 2269.0 1588.3 2269.6 1603.9 2270.2 1611.6 2270.8 1593.8 2271.4 1604.9 2272.0 1595.6 2272.6 1604.0 2273.2 1595.4 2273.8 1586.2 2274.4 1605.6 2275.0 1603.6 2275.6 1597.3 2276.2 1595.8 2276.8 1591.8 2277.4 1596.4 2278.0 1602.1 2278.6 1609.7 2279.2 1610.9 2279.8 1606.2 2280.4 1586.9 2281.0 1613.7 2281.6 1596.0 2282.2 1599.3 2282.8 1592.4 2283.4 1609.4 2284.0 1605.3 2284.6 1593.9 2285.2 1585.0 2285.8 1609.8 2286.4 1599.9 2287.0 1591.2 2287.6 1591.7 2288.2 1604.5 2288.8 1613.5 2289.4 1598.0 2290.0 1591.2 2290.6 1601.1 2291.2 1588.4 2291.8 1601.2 2292.4 1611.6 2293.0 1604.2 2293.6 1580.6 2294.2 1602.1 2294.8 1599.2 2295.4 1602.8 2296.0 1592.2 2296.6 1609.8 2297.2 1603.5 2297.8 1595.2 2298.4 1591.0 2299.0 1592.5 2299.6 1601.6 2300.2 1614.2 2300.8 1597.0 2301.4 1607.7 2302.0 1598.9 2302.6 1593.7 2303.2 1601.0 2303.8 1610.4 2304.4 1605.5 2305.0 1588.2 2305.6 1607.6 2306.2 1594.7 2306.8 1581.7 2307.4 1600.3 2308.0 1610.9 2308.6 1605.2 2309.2 1606.1 2309.8 1584.3 2310.4 1589.3 2311.0 1600.5 2311.6 1600.3 2312.2 1610.2 2312.8 1611.6 2313.4 1609.4 2314.0 1591.5 2314.6 1593.4 2315.2 1583.9 2315.8 1596.3 2316.4 1614.3 2317.0 1589.7 2317.6 1603.3 2318.2 1597.8 2318.8 1597.6 2319.4 1592.2 2320.0 1607.4 2320.6 1586.3 2321.2 1606.2 2321.8 1587.1 2322.4 1586.8 2323.0 1598.4 2323.6 1600.1 2324.2 1604.9 2324.8 1593.6 2325.4 1603.5 2326.0 1600.2 2326.6 1589.2 2327.2 1586.0 2327.8 1601.2 2328.4 1613.4 2329.0 1606.7 2329.6 1593.5 2330.2 1597.7 2330.8 1608.8 2331.4 1612.1 2332.0 1610.4 2332.6 1590.6 2333.2 1599.2 2333.8 1599.2 2334.4 1594.0 2335.0 1601.9 2335.6 1589.4 2336.2 1601.4 2336.8 1603.8 2337.4 1601.2 2338.0 1597.7 2338.6 1603.5 2339.2 1608.7 2339.8 1599.2 2340.4 1600.1 2341.0 1612.8 2341.6 1589.8 2342.2 1600.7 2342.8 1605.8 2343.4 1614.9 2344.0 1610.5 2344.6 1590.0 2345.2 1608.5 2345.8 1601.9 2346.4 1601.6 2347.0 1607.4 2347.6 1599.8 2348.2 1600.9 2348.8 1599.1 2349.4 1608.7 2350.0 1618.4 2350.6 1603.3 2351.2 1596.2 2351.8 1592.3 2352.4 1616.6 2353.0 1599.3 2353.6 1609.3 2354.2 1605.2 2354.8 1588.8 2355.4 1601.6 2356.0 1585.4 2356.6 1609.1 2357.2 1587.2 2357.8 1588.7 2358.4 1593.6 2359.0 1605.3 2359.6 1594.4 2360.2 1602.5 2360.8 1599.6 2361.4 1612.2 2362.0 1602.3 2362.6 1596.7 2363.2 1601.1 2363.8 1591.9 2364.4 1597.3 2365.0 1606.8 2365.6 1602.7 2366.2 1598.0 2366.8 1595.0 2367.4 1613.4 2368.0 1602.8 2368.6 1606.1 2369.2 1592.6 2369.8 1612.3 2370.4 1610.3 2371.0 1592.6 2371.6 1607.8 2372.2 1601.5 2372.8 1586.6 2373.4 1587.6 2374.0 1605.1 2374.6 1597.3 2375.2 1604.0 2375.8 1599.9 2376.4 1598.6 2377.0 1590.7 2377.6 1596.0 2378.2 1617.6 2378.8 1614.1 2379.4 1592.1 2380.0 1610.6 2380.6 1596.4 2381.2 1610.1 2381.8 1603.8 2382.4 1606.8 2383.0 1594.2 2383.6 1608.5 2384.2 1609.7 2384.8 1607.0 2385.4 1599.8 2386.0 1615.7 2386.6 1605.9 2387.2 1606.9 2387.8 1602.1 2388.4 1607.8 2389.0 1595.8 2389.6 1603.8 2390.2 1593.5 2390.8 1617.4 2391.4 1581.5 2392.0 1590.2 2392.6 1584.6 2393.2 1597.9 2393.8 1598.8 2394.4 1597.9 2395.0 1603.7 2395.6 1604.2 2396.2 1599.2 2396.8 1583.1 2397.4 1600.3 2398.0 1612.9 2398.6 1584.0 2399.2 1601.0 2399.8 1598.7 2400.4 1602.5 2401.0 1608.5 2401.6 1589.6 2402.2 1597.8 2402.8 1580.9 2403.4 1608.7 2404.0 1600.5 2404.6 1602.2 2405.2 1598.8 2405.8 1602.9 2406.4 1585.7 2407.0 1613.0 2407.6 1599.3 2408.2 1596.7 2408.8 1608.3 2409.4 1612.0 2410.0 1605.9 2410.6 1610.6 2411.2 1609.3 2411.8 1608.0 2412.4 1596.3 2413.0 1607.8 2413.6 1595.3 2414.2 1589.4 2414.8 1594.1 2415.4 1600.7 2416.0 1600.1 2416.6 1600.6 2417.2 1605.3 2417.8 1598.2 2418.4 1596.3 2419.0 1611.3 2419.6 1601.0 2420.2 1588.5 2420.8 1586.5 2421.4 1602.6 2422.0 1615.9 2422.6 1609.8 2423.2 1604.1 2423.8 1589.6 2424.4 1586.4 2425.0 1601.5 2425.6 1599.8 2426.2 1611.8 2426.8 1609.7"/>
</g>
<path d="M205.0 1673V1704.0 M343.5 1673V1688.0 M482.0 1673V1704.0 M620.5 1673V1688.0 M759.0 1673V1704.0 M897.5 1673V1688.0 M1036.0 1673V1704.0 M1174.5 1673V1688.0 M1313.0 1673V1704.0 M1451.5 1673V1688.0 M1590.0 1673V1704.0 M1728.5 1673V1688.0 M1867.0 1673V1704.0 M2005.5 1673V1688.0 M2144.0 1673V1704.0 M2282.5 1673V1688.0 M2421.0 1673V1704.0" stroke="#000" stroke-width="8" fill="none"/>
<g font-family="'Liberation Serif', serif" font-size="86" fill="#000" text-anchor="middle" style="font-kerning:none">
<text x="205.0" y="1792.2">10</text>
<text x="482.0" y="1792.2">20</text>
<text x="759.0" y="1792.2">30</text>
<text x="1036.0" y="1792.2">40</text>
<text x="1313.0" y="1792.2">50</text>
<text x="1590.0" y="1792.2">60</text>
<text x="1867.0" y="1792.2">70</text>
<text x="2144.0" y="1792.2">80</text>
<text x="2421.0" y="1792.2">90</text>
</g>
<text x="1312.5" y="1894.7" font-family="'Liberation Serif', serif" font-weight="bold" font-size="89" letter-spacing="2" text-anchor="middle" style="font-kerning:none">2θ/(°)</text>
<text transform="translate(96 857) rotate(-90)" font-family="'Liberation Serif', serif" font-weight="bold" font-size="92.5" text-anchor="middle" style="font-kerning:none">Intensity (a.u.)</text>
<g font-family="'Liberation Serif', serif" font-size="84.8" fill="#000" style="font-kerning:none">
<text x="331.6" y="385.4">20 mL/L PTFE</text>
<text x="332.3" y="744.2">15 mL/L PTFE</text>
<text x="332.3" y="1050.4">10 mL/L PTFE</text>
<text x="335.5" y="1494.7">Q235B mild steel</text>
</g>
<polygon points="1170.2,164.0 1179.2,190.8 1207.5,191.1 1184.7,207.9 1193.2,234.9 1170.2,218.5 1147.2,234.9 1155.7,207.9 1132.9,191.1 1161.2,190.8" fill="#000"/>
<polygon points="1165.8,484.0 1174.8,510.8 1203.1,511.1 1180.3,527.9 1188.8,554.9 1165.8,538.5 1142.8,554.9 1151.3,527.9 1128.5,511.1 1156.8,510.8" fill="#000"/>
<polygon points="1172.6,818.0 1181.6,844.8 1209.9,845.1 1187.1,861.9 1195.6,888.9 1172.6,872.5 1149.6,888.9 1158.1,861.9 1135.3,845.1 1163.6,844.8" fill="#000"/>
<polygon points="1162.6,1059.0 1171.6,1085.8 1199.9,1086.1 1177.1,1102.9 1185.6,1129.9 1162.6,1113.5 1139.6,1129.9 1148.1,1102.9 1125.3,1086.1 1153.6,1085.8" fill="#000"/>
<path d="M1162.2 1149.5 C1157.3 1141.7 1148.5 1140.7 1143.6 1140.7 C1135.8 1140.7 1131.0 1147.6 1131.0 1156.4 C1131.0 1162.3 1133.9 1166.2 1137.8 1170.1 L1162.2 1193.7 L1186.6 1170.1 C1190.5 1166.2 1193.5 1162.3 1193.5 1156.4 C1193.5 1147.6 1188.6 1140.7 1180.8 1140.7 C1175.9 1140.7 1167.1 1141.7 1162.2 1149.5Z" fill="#000"/>
<polygon points="2205.2,363.3 2215.3,393.6 2247.2,393.8 2221.6,412.8 2231.2,443.3 2205.2,424.7 2179.2,443.3 2188.8,412.8 2163.2,393.8 2195.1,393.6" fill="#000"/>
<polygon points="2208.0,707.0 2217.0,733.8 2245.3,734.1 2222.5,750.9 2231.0,777.9 2208.0,761.5 2185.0,777.9 2193.5,750.9 2170.7,734.1 2199.0,733.8" fill="#000"/>
<polygon points="2208.8,1001.0 2217.8,1027.8 2246.1,1028.1 2223.3,1044.9 2231.8,1071.9 2208.8,1055.5 2185.8,1071.9 2194.3,1044.9 2171.5,1028.1 2199.8,1027.8" fill="#000"/>
<polygon points="2203.4,1403.0 2212.4,1429.8 2240.7,1430.1 2217.9,1446.9 2226.4,1473.9 2203.4,1457.5 2180.4,1473.9 2188.9,1446.9 2166.1,1430.1 2194.4,1429.8" fill="#000"/>
<path d="M2204.5 1486.8 C2199.8 1479.0 2191.2 1478.0 2186.5 1478.0 C2178.9 1478.0 2174.2 1484.9 2174.2 1493.7 C2174.2 1499.6 2177.0 1503.5 2180.8 1507.4 L2204.5 1531.0 L2228.2 1507.4 C2232.0 1503.5 2234.8 1499.6 2234.8 1493.7 C2234.8 1484.9 2230.1 1478.0 2222.5 1478.0 C2217.8 1478.0 2209.2 1479.0 2204.5 1486.8Z" fill="#000"/>
<polygon points="1960.0,62.7 1969.0,89.5 1997.3,89.8 1974.5,106.6 1983.0,133.6 1960.0,117.2 1937.0,133.6 1945.5,106.6 1922.7,89.8 1951.0,89.5" fill="#000"/>
<path d="M1961.5 199.7 C1956.6 191.8 1947.7 190.8 1942.8 190.8 C1934.9 190.8 1930.0 197.7 1930.0 206.6 C1930.0 212.5 1933.0 216.4 1936.9 220.4 L1961.5 244.0 L1986.1 220.4 C1990.0 216.4 1993.0 212.5 1993.0 206.6 C1993.0 197.7 1988.1 190.8 1980.2 190.8 C1975.3 190.8 1966.4 191.8 1961.5 199.7Z" fill="#000"/>
<g font-family="'Liberation Serif', serif" font-size="86" fill="#000" style="font-kerning:none">
<text y="235.3"><tspan x="1223.4" y="225.9" font-size="82">(</tspan><tspan x="1249.7 1292.2 1334.4" y="235.3">111</tspan><tspan x="1378.7" y="225.9" font-size="82">)</tspan></text>
<text y="551.7"><tspan x="1211.5" y="542.3" font-size="82">(</tspan><tspan x="1237.8 1280.3 1322.5" y="551.7">111</tspan><tspan x="1366.8" y="542.3" font-size="82">)</tspan></text>
<text y="898.6"><tspan x="1218.5" y="889.2" font-size="82">(</tspan><tspan x="1244.8 1287.3 1329.5" y="898.6">111</tspan><tspan x="1373.8" y="889.2" font-size="82">)</tspan></text>
<text y="1189.4"><tspan x="1204.3" y="1180.0" font-size="82">(</tspan><tspan x="1230.6 1273.1 1315.3" y="1189.4">111</tspan><tspan x="1359.6" y="1180.0" font-size="82">)</tspan></text>
<text x="2241.0 2269.6 2310.0 2352.3 2393.5" y="429.7">(211)</text>
<text x="2241.2 2269.8 2310.2 2352.5 2393.7" y="758.3">(211)</text>
<text x="2245.1 2273.7 2314.1 2356.4 2397.6" y="1064.1">(211)</text>
<text x="2229.6 2258.2 2298.6 2340.9 2382.1" y="1518.4">(211)</text>
<text x="2021" y="126.8" font-size="95">Ni</text>
<text x="2027.5" y="238.5" font-size="85" letter-spacing="1.5">Fe</text>
</g>
</svg></body></html>
